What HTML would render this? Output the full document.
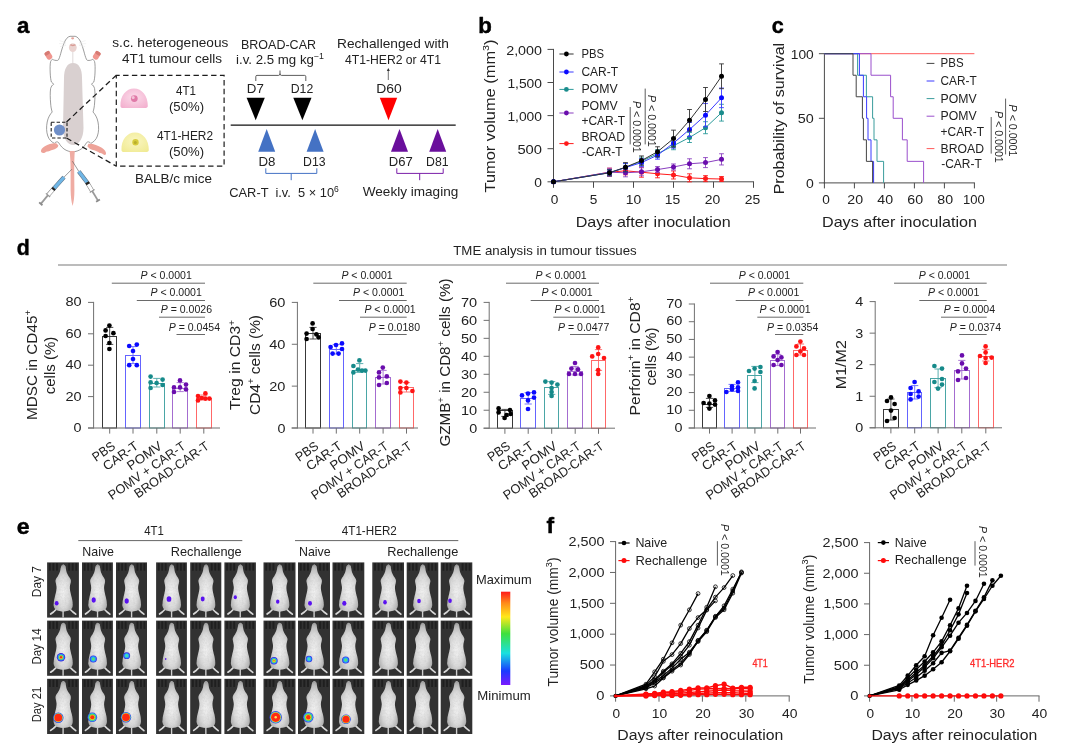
<!DOCTYPE html>
<html lang="en"><head><meta charset="utf-8"><title>Figure</title>
<style>
html,body{margin:0;padding:0;background:#fff;}
body{width:1080px;height:750px;overflow:hidden;}
svg{display:block;font-family:"Liberation Sans",sans-serif;}
</style></head><body>
<svg width="1080" height="750" viewBox="0 0 1080 750">
<rect width="1080" height="750" fill="#fff"/>
<g id="panel-a">
<text x="17" y="32.9" font-size="22.4" font-weight="bold" fill="#000" stroke="#000" stroke-width="0.45" stroke-linejoin="round" textLength="12.4" lengthAdjust="spacingAndGlyphs">a</text>
<path d="M70 36.3 C67.6 36.8 65.8 39.2 64.5 42 C63.3 44.6 62.3 48 61.4 51 C60.6 54 59.8 57 58.8 59.2 C58.6 59.8 58.2 60.2 57.6 60.4 C55.6 60.6 53.8 60.2 52.4 59.2 C51.6 60 51 60.8 50.6 61.6 C50 64 50 69 50.2 73 C50.4 77 50.8 80 51.4 82 C52.4 82.6 53.2 83.4 53.6 84.4 C52.2 85 51.2 86.4 50.6 88.6 C50 93 50.2 98 50.6 103 C50.8 106.6 51.4 109.6 52.2 112 C50.2 114 48 117.6 47.2 122 C46.2 127 46.4 132 47.8 136 C49 139.6 51.6 142 54.4 143.4 C55.6 141.6 57.4 141.4 58.6 142.6 C59.8 144.6 61.4 147 64 149 C66.6 150.8 69.6 151.8 72.6 151.8 C75.6 151.8 78.6 150.8 81.2 149 C83.8 147 85.4 144.6 86.6 142.6 C87.8 141.4 89.6 141.6 90.8 143.4 C93.6 142 96.2 139.6 97.4 136 C98.8 132 99 127 98 122 C97.2 117.6 95 114 93 112 C93.8 109.6 94.4 106.6 94.6 103 C95 98 95.2 93 94.6 88.6 C94 86.4 93 85 91.6 84.4 C92 83.4 92.8 82.6 93.8 82 C94.4 80 94.8 77 95 73 C95.2 69 95.2 64 94.6 61.6 C94.2 60.8 93.6 60 92.8 59.2 C91.4 60.2 89.6 60.6 87.6 60.4 C87 60.2 86.6 59.8 86.4 59.2 C85.4 57 84.6 54 83.8 51 C82.9 48 81.9 44.6 80.7 42 C79.4 39.2 77.6 36.8 75.2 36.3 Z" fill="#fff" stroke="#7c7c7c" stroke-width="0.75"/>
<path d="M66 42.6 L59.6 40.6 M66 44 L59 43.6 M66.2 45.4 L60 46.6 M79.2 42.6 L85.6 40.6 M79.2 44 L86.2 43.6 M79 45.4 L85.2 46.6" fill="none" stroke="#e6e6e6" stroke-width="0.5"/>
<path d="M73 63 C79 63 82 69 82 78 L83.5 128 C83.5 138 79 145 73.5 145 C67 145 63 138 63 128 L64 78 C64 69 67 63 73 63 Z" fill="#d9d0d0"/>
<line x1="72.8" y1="52" x2="72.8" y2="63" stroke="#e2dcdc" stroke-width="1.1"/>
<ellipse cx="72.8" cy="47.6" rx="3.9" ry="4.4" fill="#ead3d0"/>
<path d="M69.6 45.2 Q71.2 43.6 72.8 45 Q74.4 43.6 76 45.2 Q74.4 45.6 72.8 46.2 Q71.2 45.6 69.6 45.2 Z" fill="#d99a93"/>
<ellipse cx="72.6" cy="38.3" rx="1.5" ry="1.1" fill="#e5a49b"/>
<g transform="rotate(-32 48.4 55.4)"><rect x="45.6" y="51.2" width="5.8" height="8.6" rx="2.6" fill="#f0968f"/><rect x="45.6" y="51.2" width="5.8" height="3.4" rx="1.7" fill="#d67a73"/></g>
<g transform="rotate(32 96.8 55.4)"><rect x="93.8" y="51.2" width="5.8" height="8.6" rx="2.6" fill="#f0968f"/><rect x="93.8" y="51.2" width="5.8" height="3.4" rx="1.7" fill="#d67a73"/></g>
<path d="M56.6 143.4 C53.4 142.8 48.4 144.2 44.8 146.2 C42.2 147.6 40.6 149.6 41 151.600 C41.4 153.2 43.4 153.4 45.2 152.4 C46 151.6 47 151.4 48 151.6 C50 150.6 52.6 150 54.6 149.2 C56.6 148.4 58 147 58.4 145.4 Z" fill="#eea399"/>
<path d="M88.4 143.8 C92 143.200 97.6 145 101.8 147.8 C104.6 149.6 106.4 152.2 106 154 C105.4 155.4 103.6 155 102.4 153.8 C101.6 153 100.6 152.8 99.6 153 C98 151.6 95.4 150.6 93 150 C90.8 149.4 88.6 148.2 87.4 146.2 Z" fill="#eea399"/>
<path d="M69.6 151 L74.8 151 C74.4 156 74.2 162 74.2 170 L74.4 190 C74.4 197 73.8 202 72.6 206 C71.4 202 70.8 197 70.6 190 L70.6 170 C70.6 162 70.2 156 69.6 151 Z" fill="#efaca3"/>
<line x1="71.9" y1="169.2" x2="64" y2="177.2" stroke="#555" stroke-width="0.6"/>
<line x1="64" y1="177.2" x2="54" y2="188.4" stroke="#5f6f7f" stroke-width="4.2"/>
<line x1="64" y1="177.2" x2="54" y2="188.4" stroke="#6fb6e6" stroke-width="3.2"/>
<line x1="54" y1="188.4" x2="48" y2="195.2" stroke="#777" stroke-width="4.2"/>
<line x1="54" y1="188.4" x2="48" y2="195.2" stroke="#fff" stroke-width="3.2"/>
<line x1="54.24" y1="188.13" x2="52.8" y2="189.76" stroke="#222" stroke-width="4"/>
<line x1="48" y1="195.2" x2="40.8" y2="203.8" stroke="#9a9a9a" stroke-width="1.8"/>
<line x1="50.1" y1="197.05" x2="45.9" y2="193.35" stroke="#999" stroke-width="1.2"/>
<line x1="42.45" y1="205.26" x2="39.15" y2="202.34" stroke="#8a8a8a" stroke-width="1.8"/>
<line x1="72.4" y1="161.2" x2="78.8" y2="171.4" stroke="#555" stroke-width="0.6"/>
<line x1="78.8" y1="171.4" x2="87.2" y2="182.6" stroke="#5f6f7f" stroke-width="4.2"/>
<line x1="78.8" y1="171.4" x2="87.2" y2="182.6" stroke="#6fb6e6" stroke-width="3.2"/>
<line x1="87.2" y1="182.6" x2="92.2" y2="191" stroke="#777" stroke-width="4.2"/>
<line x1="87.2" y1="182.6" x2="92.2" y2="191" stroke="#fff" stroke-width="3.2"/>
<line x1="87" y1="182.26" x2="88.2" y2="184.28" stroke="#222" stroke-width="4"/>
<line x1="92.2" y1="191" x2="98" y2="200.6" stroke="#9a9a9a" stroke-width="1.8"/>
<line x1="94.61" y1="189.57" x2="89.79" y2="192.43" stroke="#999" stroke-width="1.2"/>
<line x1="99.89" y1="199.47" x2="96.11" y2="201.73" stroke="#8a8a8a" stroke-width="1.8"/>
<circle cx="59.5" cy="130" r="5.6" fill="#6f8fc8"/>
<rect x="51.2" y="122.2" width="15.8" height="15.8" fill="none" stroke="#1c1c1c" stroke-width="1.1" stroke-dasharray="3.4 2"/>
<line x1="66.5" y1="122" x2="116" y2="75.5" stroke="#1c1c1c" stroke-width="1.25" stroke-dasharray="5.5 3.5"/>
<line x1="66.5" y1="138" x2="116" y2="166" stroke="#1c1c1c" stroke-width="1.25" stroke-dasharray="5.5 3.5"/>
<rect x="116.3" y="75.4" width="107.8" height="90.8" fill="none" stroke="#1c1c1c" stroke-width="1.2" stroke-dasharray="5.4 3.4" stroke-dashoffset="2"/>
<defs><radialGradient id="gp" cx="0.5" cy="0.45" r="0.75"><stop offset="0" stop-color="#fbdcea"/><stop offset="1" stop-color="#f2aacb"/></radialGradient><radialGradient id="gy" cx="0.5" cy="0.45" r="0.75"><stop offset="0" stop-color="#faf6c2"/><stop offset="1" stop-color="#efe98e"/></radialGradient></defs>
<path d="M120.5 106 C120 96 126 88.5 134 88.5 C142 88.5 148 96 147.8 106 C147.8 107.5 146.5 108 145 108 L123 108 C121.5 108 120.5 107.5 120.5 106 Z" fill="url(#gp)"/>
<circle cx="134.3" cy="98.6" r="3.4" fill="#e07aa8"/>
<circle cx="133.2" cy="97.6" r="1.5" fill="#f4c4d8"/>
<path d="M121.5 150 C121 140 127 132.5 135 132.5 C143 132.5 149 140 148.8 150 C148.8 151.5 147.5 152 146 152 L124 152 C122.500 152 121.5 151.5 121.5 150 Z" fill="url(#gy)"/>
<circle cx="135.5" cy="142.3" r="3.2" fill="#d6cb3c"/>
<circle cx="135.3" cy="142.5" r="1.5" fill="#b9ae2c"/>
<text x="170.3" y="47.3" font-size="12.6" fill="#222" text-anchor="middle" textLength="116" lengthAdjust="spacingAndGlyphs">s.c. heterogeneous</text>
<text x="172" y="63" font-size="12.6" fill="#222" text-anchor="middle" textLength="100" lengthAdjust="spacingAndGlyphs">4T1 tumour cells</text>
<text x="186" y="95" font-size="12.6" fill="#222" text-anchor="middle" textLength="20" lengthAdjust="spacingAndGlyphs">4T1</text>
<text x="186.5" y="110.6" font-size="12.6" fill="#222" text-anchor="middle" textLength="35" lengthAdjust="spacingAndGlyphs">(50%)</text>
<text x="185" y="140.3" font-size="12.6" fill="#222" text-anchor="middle" textLength="56" lengthAdjust="spacingAndGlyphs">4T1-HER2</text>
<text x="186.5" y="155.8" font-size="12.6" fill="#222" text-anchor="middle" textLength="35" lengthAdjust="spacingAndGlyphs">(50%)</text>
<text x="173.5" y="183.3" font-size="12.6" fill="#222" text-anchor="middle" textLength="77" lengthAdjust="spacingAndGlyphs">BALB/c mice</text>
<text x="278.5" y="48.8" font-size="12.6" fill="#222" text-anchor="middle" textLength="75" lengthAdjust="spacingAndGlyphs">BROAD-CAR</text>
<text x="236" y="64.2" font-size="12.6" fill="#222" textLength="88" lengthAdjust="spacingAndGlyphs">i.v. 2.5 mg kg<tspan dy="-4.8" font-size="8.4">−1</tspan></text>
<path d="M255.8 81 L255.8 76.6 Q255.8 75.4 257 75.4 L278.6 75.4 Q280 75.4 280 73.5 L280 70.5 M280 73.5 Q280 75.4 281.4 75.4 L304.6 75.4 Q305.8 75.4 305.8 76.6 L305.8 81" fill="none" stroke="#333" stroke-width="0.8"/>
<text x="255.3" y="93.3" font-size="12.6" fill="#222" text-anchor="middle" textLength="17" lengthAdjust="spacingAndGlyphs">D7</text>
<text x="302" y="93.3" font-size="12.6" fill="#222" text-anchor="middle" textLength="22.5" lengthAdjust="spacingAndGlyphs">D12</text>
<polygon points="246.6,97.8 264.8,97.8 255.7,120.2" fill="#000"/>
<polygon points="293.3,97.8 311.5,97.8 302.4,120.2" fill="#000"/>
<line x1="230.7" y1="125.2" x2="455.7" y2="125.2" stroke="#111" stroke-width="1.3"/>
<polygon points="258.2,151.8 275.2,151.8 266.7,129" fill="#4472c4"/>
<polygon points="306.6,151.8 323.6,151.8 315.1,129" fill="#4472c4"/>
<text x="267" y="166.3" font-size="12.6" fill="#222" text-anchor="middle" textLength="17" lengthAdjust="spacingAndGlyphs">D8</text>
<text x="314.3" y="166.3" font-size="12.6" fill="#222" text-anchor="middle" textLength="22.5" lengthAdjust="spacingAndGlyphs">D13</text>
<path d="M265.8 168.3 L265.8 173.4 L316.8 173.4 L316.8 168.3 M291.2 173.4 L291.2 180.2" fill="none" stroke="#4472c4" stroke-width="1"/>
<text x="229.3" y="196.6" font-size="12.6" fill="#222" textLength="109.5" lengthAdjust="spacingAndGlyphs" xml:space="preserve">CAR-T  i.v.  5 × 10<tspan dy="-4.8" font-size="8.4">6</tspan></text>
<text x="393" y="48.3" font-size="12.6" fill="#222" text-anchor="middle" textLength="112" lengthAdjust="spacingAndGlyphs">Rechallenged with</text>
<text x="393" y="64" font-size="12.6" fill="#222" text-anchor="middle" textLength="96" lengthAdjust="spacingAndGlyphs">4T1-HER2 or 4T1</text>
<line x1="388.3" y1="80" x2="388.3" y2="69.5" stroke="#333" stroke-width="0.7"/>
<polygon points="386.8,71 388.3,68 389.8,71" fill="#333"/>
<text x="389" y="93.3" font-size="12.6" fill="#222" text-anchor="middle" textLength="25.5" lengthAdjust="spacingAndGlyphs">D60</text>
<polygon points="379.8,97.8 397.2,97.8 388.5,120.2" fill="#ff0000"/>
<polygon points="391,151.8 408,151.8 399.5,129" fill="#6a0f9c"/>
<polygon points="429.2,151.8 446.2,151.8 437.7,129" fill="#6a0f9c"/>
<text x="400.7" y="166.3" font-size="12.6" fill="#222" text-anchor="middle" textLength="24" lengthAdjust="spacingAndGlyphs">D67</text>
<text x="437.3" y="166.3" font-size="12.6" fill="#222" text-anchor="middle" textLength="22.5" lengthAdjust="spacingAndGlyphs">D81</text>
<path d="M396.8 168.3 L396.8 173.4 L443.2 173.4 L443.2 168.3 M419.7 173.4 L419.7 180.2" fill="none" stroke="#7a1fa8" stroke-width="1"/>
<text x="410.5" y="196" font-size="12.6" fill="#222" text-anchor="middle" textLength="95.5" lengthAdjust="spacingAndGlyphs">Weekly imaging</text>
</g>
<g id="panel-b">
<text x="478.2" y="33" font-size="22.4" font-weight="bold" fill="#000" stroke="#000" stroke-width="0.45" stroke-linejoin="round" textLength="13.6" lengthAdjust="spacingAndGlyphs">b</text>
<line x1="553.5" y1="48.9" x2="553.5" y2="182.3" stroke="#4a4a4a" stroke-width="1"/>
<line x1="553" y1="181.8" x2="754" y2="181.8" stroke="#4a4a4a" stroke-width="1"/>
<line x1="547.5" y1="181.8" x2="553.5" y2="181.8" stroke="#4a4a4a" stroke-width="1"/>
<text x="542" y="186.9" font-size="12.4" fill="#222" text-anchor="end" textLength="7.7" lengthAdjust="spacingAndGlyphs">0</text>
<line x1="547.5" y1="148.7" x2="553.5" y2="148.7" stroke="#4a4a4a" stroke-width="1"/>
<text x="542" y="153.8" font-size="12.4" fill="#222" text-anchor="end" textLength="24.6" lengthAdjust="spacingAndGlyphs">500</text>
<line x1="547.5" y1="115.6" x2="553.5" y2="115.6" stroke="#4a4a4a" stroke-width="1"/>
<text x="542" y="120.7" font-size="12.4" fill="#222" text-anchor="end" textLength="34.6" lengthAdjust="spacingAndGlyphs">1,000</text>
<line x1="547.5" y1="82.5" x2="553.5" y2="82.5" stroke="#4a4a4a" stroke-width="1"/>
<text x="542" y="87.6" font-size="12.4" fill="#222" text-anchor="end" textLength="34.6" lengthAdjust="spacingAndGlyphs">1,500</text>
<line x1="547.5" y1="49.4" x2="553.5" y2="49.4" stroke="#4a4a4a" stroke-width="1"/>
<text x="542" y="54.5" font-size="12.4" fill="#222" text-anchor="end" textLength="35.8" lengthAdjust="spacingAndGlyphs">2,000</text>
<line x1="553.5" y1="181.8" x2="553.5" y2="187.8" stroke="#4a4a4a" stroke-width="1"/>
<text x="554.5" y="203.8" font-size="12.4" fill="#222" text-anchor="middle" textLength="7.6" lengthAdjust="spacingAndGlyphs">0</text>
<line x1="593.5" y1="181.8" x2="593.5" y2="187.8" stroke="#4a4a4a" stroke-width="1"/>
<text x="593.5" y="203.8" font-size="12.4" fill="#222" text-anchor="middle" textLength="7.6" lengthAdjust="spacingAndGlyphs">5</text>
<line x1="633.5" y1="181.8" x2="633.5" y2="187.8" stroke="#4a4a4a" stroke-width="1"/>
<text x="633.5" y="203.8" font-size="12.4" fill="#222" text-anchor="middle" textLength="15.5" lengthAdjust="spacingAndGlyphs">10</text>
<line x1="673.5" y1="181.8" x2="673.5" y2="187.8" stroke="#4a4a4a" stroke-width="1"/>
<text x="672.5" y="203.8" font-size="12.4" fill="#222" text-anchor="middle" textLength="15.5" lengthAdjust="spacingAndGlyphs">15</text>
<line x1="713.5" y1="181.8" x2="713.5" y2="187.8" stroke="#4a4a4a" stroke-width="1"/>
<text x="712.5" y="203.8" font-size="12.4" fill="#222" text-anchor="middle" textLength="15.5" lengthAdjust="spacingAndGlyphs">20</text>
<line x1="753.5" y1="181.8" x2="753.5" y2="187.8" stroke="#4a4a4a" stroke-width="1"/>
<text x="752.5" y="203.8" font-size="12.4" fill="#222" text-anchor="middle" textLength="15.5" lengthAdjust="spacingAndGlyphs">25</text>
<text x="653.2" y="226.7" font-size="14.4" fill="#222" text-anchor="middle" textLength="155" lengthAdjust="spacingAndGlyphs">Days after inoculation</text>
<text font-size="14.4" fill="#222" text-anchor="middle" textLength="153" lengthAdjust="spacingAndGlyphs" transform="translate(494.5 116) rotate(-90)">Tumor volume (mm<tspan dy="-6" font-size="9.4">3</tspan><tspan dy="6">)</tspan></text>
<polyline points="553.5,181.8 609.5,172.2 625.5,170.81 641.5,172.2 657.5,173.79 673.5,174.98 689.5,177.83 705.5,178.62 721.5,179.02" fill="none" stroke="#ff1a1a" stroke-width="1"/>
<line x1="609.5" y1="168.2" x2="609.5" y2="176.2" stroke="#ff1a1a" stroke-width="0.9"/>
<line x1="607.1" y1="168.2" x2="611.9" y2="168.2" stroke="#ff1a1a" stroke-width="0.9"/>
<line x1="607.1" y1="176.2" x2="611.9" y2="176.2" stroke="#ff1a1a" stroke-width="0.9"/>
<line x1="625.5" y1="166.81" x2="625.5" y2="174.81" stroke="#ff1a1a" stroke-width="0.9"/>
<line x1="623.1" y1="166.81" x2="627.9" y2="166.81" stroke="#ff1a1a" stroke-width="0.9"/>
<line x1="623.1" y1="174.81" x2="627.9" y2="174.81" stroke="#ff1a1a" stroke-width="0.9"/>
<line x1="641.5" y1="167.2" x2="641.5" y2="177.2" stroke="#ff1a1a" stroke-width="0.9"/>
<line x1="639.1" y1="167.2" x2="643.9" y2="167.2" stroke="#ff1a1a" stroke-width="0.9"/>
<line x1="639.1" y1="177.2" x2="643.9" y2="177.2" stroke="#ff1a1a" stroke-width="0.9"/>
<line x1="657.5" y1="169.79" x2="657.5" y2="177.79" stroke="#ff1a1a" stroke-width="0.9"/>
<line x1="655.1" y1="169.79" x2="659.9" y2="169.79" stroke="#ff1a1a" stroke-width="0.9"/>
<line x1="655.1" y1="177.79" x2="659.9" y2="177.79" stroke="#ff1a1a" stroke-width="0.9"/>
<line x1="673.5" y1="170.98" x2="673.5" y2="178.98" stroke="#ff1a1a" stroke-width="0.9"/>
<line x1="671.1" y1="170.98" x2="675.9" y2="170.98" stroke="#ff1a1a" stroke-width="0.9"/>
<line x1="671.1" y1="178.98" x2="675.9" y2="178.98" stroke="#ff1a1a" stroke-width="0.9"/>
<line x1="689.5" y1="173.83" x2="689.5" y2="181.83" stroke="#ff1a1a" stroke-width="0.9"/>
<line x1="687.1" y1="173.83" x2="691.9" y2="173.83" stroke="#ff1a1a" stroke-width="0.9"/>
<line x1="687.1" y1="181.83" x2="691.9" y2="181.83" stroke="#ff1a1a" stroke-width="0.9"/>
<line x1="705.5" y1="175.62" x2="705.5" y2="181.62" stroke="#ff1a1a" stroke-width="0.9"/>
<line x1="703.1" y1="175.62" x2="707.9" y2="175.62" stroke="#ff1a1a" stroke-width="0.9"/>
<line x1="703.1" y1="181.62" x2="707.9" y2="181.62" stroke="#ff1a1a" stroke-width="0.9"/>
<line x1="721.5" y1="176.52" x2="721.5" y2="181.52" stroke="#ff1a1a" stroke-width="0.9"/>
<line x1="719.1" y1="176.52" x2="723.9" y2="176.52" stroke="#ff1a1a" stroke-width="0.9"/>
<line x1="719.1" y1="181.52" x2="723.9" y2="181.52" stroke="#ff1a1a" stroke-width="0.9"/>
<circle cx="553.5" cy="181.8" r="2.5" fill="#ff1a1a"/>
<circle cx="609.5" cy="172.2" r="2.5" fill="#ff1a1a"/>
<circle cx="625.5" cy="170.81" r="2.5" fill="#ff1a1a"/>
<circle cx="641.5" cy="172.2" r="2.5" fill="#ff1a1a"/>
<circle cx="657.5" cy="173.79" r="2.5" fill="#ff1a1a"/>
<circle cx="673.5" cy="174.98" r="2.5" fill="#ff1a1a"/>
<circle cx="689.5" cy="177.83" r="2.5" fill="#ff1a1a"/>
<circle cx="705.5" cy="178.62" r="2.5" fill="#ff1a1a"/>
<circle cx="721.5" cy="179.02" r="2.5" fill="#ff1a1a"/>
<polyline points="553.5,181.8 609.5,172.2 625.5,172.8 641.5,171.8 657.5,169.55 673.5,166.97 689.5,163.79 705.5,162.6 721.5,159.36" fill="none" stroke="#8a3fc0" stroke-width="1"/>
<line x1="609.5" y1="168.2" x2="609.5" y2="176.2" stroke="#8a3fc0" stroke-width="0.9"/>
<line x1="607.1" y1="168.2" x2="611.9" y2="168.2" stroke="#8a3fc0" stroke-width="0.9"/>
<line x1="607.1" y1="176.2" x2="611.9" y2="176.2" stroke="#8a3fc0" stroke-width="0.9"/>
<line x1="625.5" y1="168.8" x2="625.5" y2="176.8" stroke="#8a3fc0" stroke-width="0.9"/>
<line x1="623.1" y1="168.8" x2="627.9" y2="168.8" stroke="#8a3fc0" stroke-width="0.9"/>
<line x1="623.1" y1="176.8" x2="627.9" y2="176.8" stroke="#8a3fc0" stroke-width="0.9"/>
<line x1="641.5" y1="167.8" x2="641.5" y2="175.8" stroke="#8a3fc0" stroke-width="0.9"/>
<line x1="639.1" y1="167.8" x2="643.9" y2="167.8" stroke="#8a3fc0" stroke-width="0.9"/>
<line x1="639.1" y1="175.8" x2="643.9" y2="175.8" stroke="#8a3fc0" stroke-width="0.9"/>
<line x1="657.5" y1="166.55" x2="657.5" y2="172.55" stroke="#8a3fc0" stroke-width="0.9"/>
<line x1="655.1" y1="166.55" x2="659.9" y2="166.55" stroke="#8a3fc0" stroke-width="0.9"/>
<line x1="655.1" y1="172.55" x2="659.9" y2="172.55" stroke="#8a3fc0" stroke-width="0.9"/>
<line x1="673.5" y1="163.97" x2="673.5" y2="169.97" stroke="#8a3fc0" stroke-width="0.9"/>
<line x1="671.1" y1="163.97" x2="675.9" y2="163.97" stroke="#8a3fc0" stroke-width="0.9"/>
<line x1="671.1" y1="169.97" x2="675.9" y2="169.97" stroke="#8a3fc0" stroke-width="0.9"/>
<line x1="689.5" y1="158.79" x2="689.5" y2="168.79" stroke="#8a3fc0" stroke-width="0.9"/>
<line x1="687.1" y1="158.79" x2="691.9" y2="158.79" stroke="#8a3fc0" stroke-width="0.9"/>
<line x1="687.1" y1="168.79" x2="691.9" y2="168.79" stroke="#8a3fc0" stroke-width="0.9"/>
<line x1="705.5" y1="157.6" x2="705.5" y2="167.6" stroke="#8a3fc0" stroke-width="0.9"/>
<line x1="703.1" y1="157.6" x2="707.9" y2="157.6" stroke="#8a3fc0" stroke-width="0.9"/>
<line x1="703.1" y1="167.6" x2="707.9" y2="167.6" stroke="#8a3fc0" stroke-width="0.9"/>
<line x1="721.5" y1="153.76" x2="721.5" y2="164.96" stroke="#8a3fc0" stroke-width="0.9"/>
<line x1="719.1" y1="153.76" x2="723.9" y2="153.76" stroke="#8a3fc0" stroke-width="0.9"/>
<line x1="719.1" y1="164.96" x2="723.9" y2="164.96" stroke="#8a3fc0" stroke-width="0.9"/>
<circle cx="553.5" cy="181.8" r="2.5" fill="#6a0dad"/>
<circle cx="609.5" cy="172.2" r="2.5" fill="#6a0dad"/>
<circle cx="625.5" cy="172.8" r="2.5" fill="#6a0dad"/>
<circle cx="641.5" cy="171.8" r="2.5" fill="#6a0dad"/>
<circle cx="657.5" cy="169.55" r="2.5" fill="#6a0dad"/>
<circle cx="673.5" cy="166.97" r="2.5" fill="#6a0dad"/>
<circle cx="689.5" cy="163.79" r="2.5" fill="#6a0dad"/>
<circle cx="705.5" cy="162.6" r="2.5" fill="#6a0dad"/>
<circle cx="721.5" cy="159.36" r="2.5" fill="#6a0dad"/>
<polyline points="553.5,181.8 609.5,172.66 625.5,167.57 641.5,161.15 657.5,153.73 673.5,145.72 689.5,137.51 705.5,127.71 721.5,112.69" fill="none" stroke="#2a9a9a" stroke-width="1"/>
<line x1="609.5" y1="169.66" x2="609.5" y2="175.66" stroke="#2a9a9a" stroke-width="0.9"/>
<line x1="607.1" y1="169.66" x2="611.9" y2="169.66" stroke="#2a9a9a" stroke-width="0.9"/>
<line x1="607.1" y1="175.66" x2="611.9" y2="175.66" stroke="#2a9a9a" stroke-width="0.9"/>
<line x1="625.5" y1="163.57" x2="625.5" y2="171.57" stroke="#2a9a9a" stroke-width="0.9"/>
<line x1="623.1" y1="163.57" x2="627.9" y2="163.57" stroke="#2a9a9a" stroke-width="0.9"/>
<line x1="623.1" y1="171.57" x2="627.9" y2="171.57" stroke="#2a9a9a" stroke-width="0.9"/>
<line x1="641.5" y1="157.15" x2="641.5" y2="165.15" stroke="#2a9a9a" stroke-width="0.9"/>
<line x1="639.1" y1="157.15" x2="643.9" y2="157.15" stroke="#2a9a9a" stroke-width="0.9"/>
<line x1="639.1" y1="165.15" x2="643.9" y2="165.15" stroke="#2a9a9a" stroke-width="0.9"/>
<line x1="657.5" y1="149.73" x2="657.5" y2="157.73" stroke="#2a9a9a" stroke-width="0.9"/>
<line x1="655.1" y1="149.73" x2="659.9" y2="149.73" stroke="#2a9a9a" stroke-width="0.9"/>
<line x1="655.1" y1="157.73" x2="659.9" y2="157.73" stroke="#2a9a9a" stroke-width="0.9"/>
<line x1="673.5" y1="141.72" x2="673.5" y2="149.72" stroke="#2a9a9a" stroke-width="0.9"/>
<line x1="671.1" y1="141.72" x2="675.9" y2="141.72" stroke="#2a9a9a" stroke-width="0.9"/>
<line x1="671.1" y1="149.72" x2="675.9" y2="149.72" stroke="#2a9a9a" stroke-width="0.9"/>
<line x1="689.5" y1="132.51" x2="689.5" y2="142.51" stroke="#2a9a9a" stroke-width="0.9"/>
<line x1="687.1" y1="132.51" x2="691.9" y2="132.51" stroke="#2a9a9a" stroke-width="0.9"/>
<line x1="687.1" y1="142.51" x2="691.9" y2="142.51" stroke="#2a9a9a" stroke-width="0.9"/>
<line x1="705.5" y1="121.71" x2="705.5" y2="133.71" stroke="#2a9a9a" stroke-width="0.9"/>
<line x1="703.1" y1="121.71" x2="707.9" y2="121.71" stroke="#2a9a9a" stroke-width="0.9"/>
<line x1="703.1" y1="133.71" x2="707.9" y2="133.71" stroke="#2a9a9a" stroke-width="0.9"/>
<line x1="721.5" y1="104.29" x2="721.5" y2="121.09" stroke="#2a9a9a" stroke-width="0.9"/>
<line x1="719.1" y1="104.29" x2="723.9" y2="104.29" stroke="#2a9a9a" stroke-width="0.9"/>
<line x1="719.1" y1="121.09" x2="723.9" y2="121.09" stroke="#2a9a9a" stroke-width="0.9"/>
<circle cx="553.5" cy="181.8" r="2.5" fill="#1a8c8c"/>
<circle cx="609.5" cy="172.66" r="2.5" fill="#1a8c8c"/>
<circle cx="625.5" cy="167.57" r="2.5" fill="#1a8c8c"/>
<circle cx="641.5" cy="161.15" r="2.5" fill="#1a8c8c"/>
<circle cx="657.5" cy="153.73" r="2.5" fill="#1a8c8c"/>
<circle cx="673.5" cy="145.72" r="2.5" fill="#1a8c8c"/>
<circle cx="689.5" cy="137.51" r="2.5" fill="#1a8c8c"/>
<circle cx="705.5" cy="127.71" r="2.5" fill="#1a8c8c"/>
<circle cx="721.5" cy="112.69" r="2.5" fill="#1a8c8c"/>
<polyline points="553.5,181.8 609.5,172.66 625.5,167.57 641.5,162.6 657.5,155.19 673.5,143.14 689.5,129.5 705.5,115.14 721.5,97.86" fill="none" stroke="#3a3aff" stroke-width="1"/>
<line x1="609.5" y1="169.66" x2="609.5" y2="175.66" stroke="#3a3aff" stroke-width="0.9"/>
<line x1="607.1" y1="169.66" x2="611.9" y2="169.66" stroke="#3a3aff" stroke-width="0.9"/>
<line x1="607.1" y1="175.66" x2="611.9" y2="175.66" stroke="#3a3aff" stroke-width="0.9"/>
<line x1="625.5" y1="163.57" x2="625.5" y2="171.57" stroke="#3a3aff" stroke-width="0.9"/>
<line x1="623.1" y1="163.57" x2="627.9" y2="163.57" stroke="#3a3aff" stroke-width="0.9"/>
<line x1="623.1" y1="171.57" x2="627.9" y2="171.57" stroke="#3a3aff" stroke-width="0.9"/>
<line x1="641.5" y1="158.6" x2="641.5" y2="166.6" stroke="#3a3aff" stroke-width="0.9"/>
<line x1="639.1" y1="158.6" x2="643.9" y2="158.6" stroke="#3a3aff" stroke-width="0.9"/>
<line x1="639.1" y1="166.6" x2="643.9" y2="166.6" stroke="#3a3aff" stroke-width="0.9"/>
<line x1="657.5" y1="151.19" x2="657.5" y2="159.19" stroke="#3a3aff" stroke-width="0.9"/>
<line x1="655.1" y1="151.19" x2="659.9" y2="151.19" stroke="#3a3aff" stroke-width="0.9"/>
<line x1="655.1" y1="159.19" x2="659.9" y2="159.19" stroke="#3a3aff" stroke-width="0.9"/>
<line x1="673.5" y1="138.14" x2="673.5" y2="148.14" stroke="#3a3aff" stroke-width="0.9"/>
<line x1="671.1" y1="138.14" x2="675.9" y2="138.14" stroke="#3a3aff" stroke-width="0.9"/>
<line x1="671.1" y1="148.14" x2="675.9" y2="148.14" stroke="#3a3aff" stroke-width="0.9"/>
<line x1="689.5" y1="122.5" x2="689.5" y2="136.5" stroke="#3a3aff" stroke-width="0.9"/>
<line x1="687.1" y1="122.5" x2="691.9" y2="122.5" stroke="#3a3aff" stroke-width="0.9"/>
<line x1="687.1" y1="136.5" x2="691.9" y2="136.5" stroke="#3a3aff" stroke-width="0.9"/>
<line x1="705.5" y1="103.54" x2="705.5" y2="126.74" stroke="#3a3aff" stroke-width="0.9"/>
<line x1="703.1" y1="103.54" x2="707.9" y2="103.54" stroke="#3a3aff" stroke-width="0.9"/>
<line x1="703.1" y1="126.74" x2="707.9" y2="126.74" stroke="#3a3aff" stroke-width="0.9"/>
<line x1="721.5" y1="88.06" x2="721.5" y2="107.66" stroke="#3a3aff" stroke-width="0.9"/>
<line x1="719.1" y1="88.06" x2="723.9" y2="88.06" stroke="#3a3aff" stroke-width="0.9"/>
<line x1="719.1" y1="107.66" x2="723.9" y2="107.66" stroke="#3a3aff" stroke-width="0.9"/>
<circle cx="553.5" cy="181.8" r="2.5" fill="#0a0aff"/>
<circle cx="609.5" cy="172.66" r="2.5" fill="#0a0aff"/>
<circle cx="625.5" cy="167.57" r="2.5" fill="#0a0aff"/>
<circle cx="641.5" cy="162.6" r="2.5" fill="#0a0aff"/>
<circle cx="657.5" cy="155.19" r="2.5" fill="#0a0aff"/>
<circle cx="673.5" cy="143.14" r="2.5" fill="#0a0aff"/>
<circle cx="689.5" cy="129.5" r="2.5" fill="#0a0aff"/>
<circle cx="705.5" cy="115.14" r="2.5" fill="#0a0aff"/>
<circle cx="721.5" cy="97.86" r="2.5" fill="#0a0aff"/>
<polyline points="553.5,181.8 609.5,172.8 625.5,167.17 641.5,160.55 657.5,151.75 673.5,138.57 689.5,120.3 705.5,99.51 721.5,76.28" fill="none" stroke="#333" stroke-width="1"/>
<line x1="609.5" y1="169.8" x2="609.5" y2="175.8" stroke="#333" stroke-width="0.9"/>
<line x1="607.1" y1="169.8" x2="611.9" y2="169.8" stroke="#333" stroke-width="0.9"/>
<line x1="607.1" y1="175.8" x2="611.9" y2="175.8" stroke="#333" stroke-width="0.9"/>
<line x1="625.5" y1="162.57" x2="625.5" y2="171.77" stroke="#333" stroke-width="0.9"/>
<line x1="623.1" y1="162.57" x2="627.9" y2="162.57" stroke="#333" stroke-width="0.9"/>
<line x1="623.1" y1="171.77" x2="627.9" y2="171.77" stroke="#333" stroke-width="0.9"/>
<line x1="641.5" y1="155.95" x2="641.5" y2="165.15" stroke="#333" stroke-width="0.9"/>
<line x1="639.1" y1="155.95" x2="643.9" y2="155.95" stroke="#333" stroke-width="0.9"/>
<line x1="639.1" y1="165.15" x2="643.9" y2="165.15" stroke="#333" stroke-width="0.9"/>
<line x1="657.5" y1="146.75" x2="657.5" y2="156.75" stroke="#333" stroke-width="0.9"/>
<line x1="655.1" y1="146.75" x2="659.9" y2="146.75" stroke="#333" stroke-width="0.9"/>
<line x1="655.1" y1="156.75" x2="659.9" y2="156.75" stroke="#333" stroke-width="0.9"/>
<line x1="673.5" y1="130.17" x2="673.5" y2="146.97" stroke="#333" stroke-width="0.9"/>
<line x1="671.1" y1="130.17" x2="675.9" y2="130.17" stroke="#333" stroke-width="0.9"/>
<line x1="671.1" y1="146.97" x2="675.9" y2="146.97" stroke="#333" stroke-width="0.9"/>
<line x1="689.5" y1="109.5" x2="689.5" y2="131.1" stroke="#333" stroke-width="0.9"/>
<line x1="687.1" y1="109.5" x2="691.9" y2="109.5" stroke="#333" stroke-width="0.9"/>
<line x1="687.1" y1="131.1" x2="691.9" y2="131.1" stroke="#333" stroke-width="0.9"/>
<line x1="705.5" y1="87.51" x2="705.5" y2="111.51" stroke="#333" stroke-width="0.9"/>
<line x1="703.1" y1="87.51" x2="707.9" y2="87.51" stroke="#333" stroke-width="0.9"/>
<line x1="703.1" y1="111.51" x2="707.9" y2="111.51" stroke="#333" stroke-width="0.9"/>
<line x1="721.5" y1="63.88" x2="721.5" y2="88.68" stroke="#333" stroke-width="0.9"/>
<line x1="719.1" y1="63.88" x2="723.9" y2="63.88" stroke="#333" stroke-width="0.9"/>
<line x1="719.1" y1="88.68" x2="723.9" y2="88.68" stroke="#333" stroke-width="0.9"/>
<circle cx="553.5" cy="181.8" r="2.5" fill="#000"/>
<circle cx="609.5" cy="172.8" r="2.5" fill="#000"/>
<circle cx="625.5" cy="167.17" r="2.5" fill="#000"/>
<circle cx="641.5" cy="160.55" r="2.5" fill="#000"/>
<circle cx="657.5" cy="151.75" r="2.5" fill="#000"/>
<circle cx="673.5" cy="138.57" r="2.5" fill="#000"/>
<circle cx="689.5" cy="120.3" r="2.5" fill="#000"/>
<circle cx="705.5" cy="99.51" r="2.5" fill="#000"/>
<circle cx="721.5" cy="76.28" r="2.5" fill="#000"/>
<line x1="559.4" y1="54" x2="573.6" y2="54" stroke="#333" stroke-width="1"/>
<circle cx="566.4" cy="54" r="2.4" fill="#000"/>
<text x="581.4" y="57.6" font-size="12" fill="#222" textLength="22.6" lengthAdjust="spacingAndGlyphs">PBS</text>
<line x1="559.4" y1="72" x2="573.6" y2="72" stroke="#3a3aff" stroke-width="1"/>
<circle cx="566.4" cy="72" r="2.4" fill="#0a0aff"/>
<text x="581.4" y="75.6" font-size="12" fill="#222" textLength="36.6" lengthAdjust="spacingAndGlyphs">CAR-T</text>
<line x1="559.4" y1="89.4" x2="573.6" y2="89.4" stroke="#2a9a9a" stroke-width="1"/>
<circle cx="566.4" cy="89.4" r="2.4" fill="#1a8c8c"/>
<text x="581.4" y="93.4" font-size="12" fill="#222" textLength="36.2" lengthAdjust="spacingAndGlyphs">POMV</text>
<line x1="559.4" y1="113" x2="573.6" y2="113" stroke="#8a3fc0" stroke-width="1"/>
<circle cx="566.4" cy="113" r="2.4" fill="#6a0dad"/>
<text x="581.4" y="110" font-size="12" fill="#222" textLength="36.2" lengthAdjust="spacingAndGlyphs">POMV</text>
<text x="581.4" y="125" font-size="12" fill="#222" textLength="43.6" lengthAdjust="spacingAndGlyphs">+CAR-T</text>
<line x1="559.4" y1="143.6" x2="573.6" y2="143.6" stroke="#ff1a1a" stroke-width="1"/>
<circle cx="566.4" cy="143.6" r="2.4" fill="#ff1a1a"/>
<text x="581.4" y="140.6" font-size="12" fill="#222" textLength="43.6" lengthAdjust="spacingAndGlyphs">BROAD</text>
<text x="582" y="156" font-size="12" fill="#222" textLength="40.6" lengthAdjust="spacingAndGlyphs">-CAR-T</text>
<line x1="630.2" y1="107" x2="630.2" y2="144.4" stroke="#333" stroke-width="0.8"/>
<text font-size="11.6" fill="#222" textLength="51.8" lengthAdjust="spacingAndGlyphs" transform="translate(633.4 101) rotate(90)"><tspan font-style="italic">P</tspan> &lt; 0.0001</text>
<line x1="645.2" y1="88.6" x2="645.2" y2="144.4" stroke="#333" stroke-width="0.8"/>
<text font-size="11.6" fill="#222" textLength="51.8" lengthAdjust="spacingAndGlyphs" transform="translate(648.4 95) rotate(90)"><tspan font-style="italic">P</tspan> &lt; 0.0001</text>
</g>
<g id="panel-c">
<text x="771.8" y="32.8" font-size="22.4" font-weight="bold" fill="#000" stroke="#000" stroke-width="0.45" stroke-linejoin="round" textLength="12" lengthAdjust="spacingAndGlyphs">c</text>
<line x1="824.4" y1="53.2" x2="824.4" y2="183.4" stroke="#4a4a4a" stroke-width="1"/>
<line x1="823.9" y1="182.9" x2="974.9" y2="182.9" stroke="#4a4a4a" stroke-width="1"/>
<line x1="818.9" y1="182.9" x2="824.4" y2="182.9" stroke="#4a4a4a" stroke-width="1"/>
<text x="813.8" y="187.9" font-size="12.4" fill="#222" text-anchor="end" textLength="7.8" lengthAdjust="spacingAndGlyphs">0</text>
<line x1="818.9" y1="118.3" x2="824.4" y2="118.3" stroke="#4a4a4a" stroke-width="1"/>
<text x="813.8" y="123.3" font-size="12.4" fill="#222" text-anchor="end" textLength="16" lengthAdjust="spacingAndGlyphs">50</text>
<line x1="818.9" y1="53.7" x2="824.4" y2="53.7" stroke="#4a4a4a" stroke-width="1"/>
<text x="813.8" y="58.7" font-size="12.4" fill="#222" text-anchor="end" textLength="23" lengthAdjust="spacingAndGlyphs">100</text>
<line x1="824.4" y1="182.9" x2="824.4" y2="188.4" stroke="#4a4a4a" stroke-width="1"/>
<text x="826" y="204" font-size="12.4" fill="#222" text-anchor="middle" textLength="7.6" lengthAdjust="spacingAndGlyphs">0</text>
<line x1="854.4" y1="182.9" x2="854.4" y2="188.4" stroke="#4a4a4a" stroke-width="1"/>
<text x="855.2" y="204" font-size="12.4" fill="#222" text-anchor="middle" textLength="15.8" lengthAdjust="spacingAndGlyphs">20</text>
<line x1="884.4" y1="182.9" x2="884.4" y2="188.4" stroke="#4a4a4a" stroke-width="1"/>
<text x="885.2" y="204" font-size="12.4" fill="#222" text-anchor="middle" textLength="15.8" lengthAdjust="spacingAndGlyphs">40</text>
<line x1="914.4" y1="182.9" x2="914.4" y2="188.4" stroke="#4a4a4a" stroke-width="1"/>
<text x="915.2" y="204" font-size="12.4" fill="#222" text-anchor="middle" textLength="15.8" lengthAdjust="spacingAndGlyphs">60</text>
<line x1="944.4" y1="182.9" x2="944.4" y2="188.4" stroke="#4a4a4a" stroke-width="1"/>
<text x="945.2" y="204" font-size="12.4" fill="#222" text-anchor="middle" textLength="15.8" lengthAdjust="spacingAndGlyphs">80</text>
<line x1="974.4" y1="182.9" x2="974.4" y2="188.4" stroke="#4a4a4a" stroke-width="1"/>
<text x="973.8" y="204" font-size="12.4" fill="#222" text-anchor="middle" textLength="21.8" lengthAdjust="spacingAndGlyphs">100</text>
<text x="899.5" y="226.7" font-size="14.4" fill="#222" text-anchor="middle" textLength="155" lengthAdjust="spacingAndGlyphs">Days after inoculation</text>
<text font-size="14.4" fill="#222" text-anchor="middle" textLength="151.5" lengthAdjust="spacingAndGlyphs" transform="translate(784 118.6) rotate(-90)">Probability of survival</text>
<line x1="824.4" y1="53.7" x2="974.4" y2="53.7" stroke="#ff5a5a" stroke-width="1"/>
<polyline points="824.4,53.7 871,53.7 871,75.24 890.6,75.24 890.6,96.76 893.2,96.76 893.2,118.3 902.4,118.3 902.4,139.84 907.2,139.84 907.2,161.36 923.6,161.36 923.6,182.9" fill="none" stroke="#9a4fcc" stroke-width="1"/>
<polyline points="824.4,53.7 857.6,53.7 857.6,75.24 866.4,75.24 866.4,96.76 872.6,96.76 872.6,118.3 874,118.3 874,139.84 877,139.84 877,161.36 883.6,161.36 883.6,182.9" fill="none" stroke="#3a9c9c" stroke-width="1"/>
<polyline points="824.4,53.7 859.4,53.7 859.4,75.24 863.4,75.24 863.4,96.76 866.6,96.76 866.6,118.3 868,118.3 868,139.84 871,139.84 871,161.36 873.6,161.36 873.6,182.9" fill="none" stroke="#3a3aff" stroke-width="1"/>
<polyline points="824.4,53.7 853,53.7 853,75.24 856.2,75.24 856.2,96.76 862.4,96.76 862.4,118.3 863.4,118.3 863.4,139.84 866.4,139.84 866.4,161.36 872.6,161.36 872.6,182.9" fill="none" stroke="#444" stroke-width="1"/>
<line x1="926.6" y1="63.4" x2="934.4" y2="63.4" stroke="#444" stroke-width="1"/>
<text x="940.6" y="67.4" font-size="12" fill="#222" textLength="23" lengthAdjust="spacingAndGlyphs">PBS</text>
<line x1="926.6" y1="81" x2="934.4" y2="81" stroke="#3a3aff" stroke-width="1"/>
<text x="940.6" y="85" font-size="12" fill="#222" textLength="36" lengthAdjust="spacingAndGlyphs">CAR-T</text>
<line x1="926.6" y1="98.6" x2="934.4" y2="98.6" stroke="#3a9c9c" stroke-width="1"/>
<text x="940.6" y="102.6" font-size="12" fill="#222" textLength="36" lengthAdjust="spacingAndGlyphs">POMV</text>
<line x1="926.6" y1="116.2" x2="934.4" y2="116.2" stroke="#9a4fcc" stroke-width="1"/>
<text x="940.6" y="120" font-size="12" fill="#222" textLength="36" lengthAdjust="spacingAndGlyphs">POMV</text>
<text x="940.6" y="135.6" font-size="12" fill="#222" textLength="43.4" lengthAdjust="spacingAndGlyphs">+CAR-T</text>
<line x1="926.6" y1="148.6" x2="934.4" y2="148.6" stroke="#ff5a5a" stroke-width="1"/>
<text x="940.6" y="152.6" font-size="12" fill="#222" textLength="43.4" lengthAdjust="spacingAndGlyphs">BROAD</text>
<text x="941.2" y="168" font-size="12" fill="#222" textLength="40.6" lengthAdjust="spacingAndGlyphs">-CAR-T</text>
<line x1="991.2" y1="117" x2="991.2" y2="153.6" stroke="#333" stroke-width="0.8"/>
<text font-size="11.6" fill="#222" textLength="51.8" lengthAdjust="spacingAndGlyphs" transform="translate(994.6 111) rotate(90)"><tspan font-style="italic">P</tspan> &lt; 0.0001</text>
<line x1="1005.6" y1="98.6" x2="1005.6" y2="154.4" stroke="#333" stroke-width="0.8"/>
<text font-size="11.6" fill="#222" textLength="51.8" lengthAdjust="spacingAndGlyphs" transform="translate(1008.8 104.6) rotate(90)"><tspan font-style="italic">P</tspan> &lt; 0.0001</text>
</g>
<g id="panel-d">
<text x="16.8" y="255" font-size="22.4" font-weight="bold" fill="#000" stroke="#000" stroke-width="0.45" stroke-linejoin="round" textLength="13" lengthAdjust="spacingAndGlyphs">d</text>
<text x="545" y="255" font-size="12.4" fill="#222" text-anchor="middle" textLength="183.5" lengthAdjust="spacingAndGlyphs">TME analysis in tumour tissues</text>
<line x1="58" y1="265" x2="1007" y2="265" stroke="#a6a6a6" stroke-width="1.4"/>
<rect x="102.5" y="336.5" width="14" height="91.5" fill="#fff" stroke="#383838" stroke-width="1"/>
<rect x="125.5" y="355.5" width="15" height="72.5" fill="#fff" stroke="#6464ff" stroke-width="1"/>
<rect x="149.5" y="383.5" width="15" height="44.5" fill="#fff" stroke="#4aa6a6" stroke-width="1"/>
<rect x="172.5" y="388.5" width="15" height="39.5" fill="#fff" stroke="#a46cd0" stroke-width="1"/>
<rect x="196.5" y="398.5" width="15" height="29.5" fill="#fff" stroke="#ff6868" stroke-width="1"/>
<line x1="109.7" y1="327.4" x2="109.7" y2="344.4" stroke="#383838" stroke-width="0.9"/>
<line x1="106.1" y1="327.4" x2="113.3" y2="327.4" stroke="#383838" stroke-width="0.9"/>
<line x1="106.1" y1="344.4" x2="113.3" y2="344.4" stroke="#383838" stroke-width="0.9"/>
<line x1="133" y1="346.6" x2="133" y2="363.6" stroke="#6464ff" stroke-width="0.9"/>
<line x1="129.4" y1="346.6" x2="136.6" y2="346.6" stroke="#6464ff" stroke-width="0.9"/>
<line x1="129.4" y1="363.6" x2="136.6" y2="363.6" stroke="#6464ff" stroke-width="0.9"/>
<line x1="156.8" y1="378.4" x2="156.8" y2="387" stroke="#4aa6a6" stroke-width="0.9"/>
<line x1="153.2" y1="378.4" x2="160.4" y2="378.4" stroke="#4aa6a6" stroke-width="0.9"/>
<line x1="153.2" y1="387" x2="160.4" y2="387" stroke="#4aa6a6" stroke-width="0.9"/>
<line x1="180.2" y1="382.6" x2="180.2" y2="391.6" stroke="#a46cd0" stroke-width="0.9"/>
<line x1="176.6" y1="382.6" x2="183.8" y2="382.6" stroke="#a46cd0" stroke-width="0.9"/>
<line x1="176.6" y1="391.6" x2="183.8" y2="391.6" stroke="#a46cd0" stroke-width="0.9"/>
<line x1="203.8" y1="395" x2="203.8" y2="400" stroke="#ff6868" stroke-width="0.9"/>
<line x1="200.2" y1="395" x2="207.4" y2="395" stroke="#ff6868" stroke-width="0.9"/>
<line x1="200.2" y1="400" x2="207.4" y2="400" stroke="#ff6868" stroke-width="0.9"/>
<circle cx="109.4" cy="325.6" r="2.35" fill="#000"/>
<circle cx="105.6" cy="330.4" r="2.35" fill="#000"/>
<circle cx="113.4" cy="333.2" r="2.35" fill="#000"/>
<circle cx="105.6" cy="336" r="2.35" fill="#000"/>
<circle cx="109.4" cy="343" r="2.35" fill="#000"/>
<circle cx="109.4" cy="349" r="2.35" fill="#000"/>
<circle cx="129.2" cy="346" r="2.35" fill="#0a0aff"/>
<circle cx="136.8" cy="344.6" r="2.35" fill="#0a0aff"/>
<circle cx="133" cy="351" r="2.35" fill="#0a0aff"/>
<circle cx="133" cy="359" r="2.35" fill="#0a0aff"/>
<circle cx="129.2" cy="365.2" r="2.35" fill="#0a0aff"/>
<circle cx="136.8" cy="365.2" r="2.35" fill="#0a0aff"/>
<circle cx="150.6" cy="376.6" r="2.35" fill="#168a8a"/>
<circle cx="162.6" cy="379.6" r="2.35" fill="#168a8a"/>
<circle cx="150.6" cy="382.4" r="2.35" fill="#168a8a"/>
<circle cx="156.6" cy="383" r="2.35" fill="#168a8a"/>
<circle cx="162.6" cy="385" r="2.35" fill="#168a8a"/>
<circle cx="150.6" cy="388" r="2.35" fill="#168a8a"/>
<circle cx="180" cy="380.4" r="2.35" fill="#6a0dad"/>
<circle cx="186" cy="384.6" r="2.35" fill="#6a0dad"/>
<circle cx="174" cy="387.4" r="2.35" fill="#6a0dad"/>
<circle cx="180" cy="387.4" r="2.35" fill="#6a0dad"/>
<circle cx="186" cy="389.4" r="2.35" fill="#6a0dad"/>
<circle cx="174" cy="392" r="2.35" fill="#6a0dad"/>
<circle cx="205.4" cy="393.4" r="2.35" fill="#ff1414"/>
<circle cx="198" cy="396" r="2.35" fill="#ff1414"/>
<circle cx="201.6" cy="398" r="2.35" fill="#ff1414"/>
<circle cx="209.4" cy="398.6" r="2.35" fill="#ff1414"/>
<circle cx="205.4" cy="398.6" r="2.35" fill="#ff1414"/>
<circle cx="198" cy="400.4" r="2.35" fill="#ff1414"/>
<line x1="93.6" y1="301.9" x2="93.6" y2="428.5" stroke="#707070" stroke-width="1"/>
<line x1="88" y1="428" x2="220" y2="428" stroke="#707070" stroke-width="1"/>
<line x1="88" y1="428" x2="93.6" y2="428" stroke="#707070" stroke-width="1"/>
<text x="81.6" y="431.9" font-size="12.4" fill="#222" text-anchor="end" textLength="8" lengthAdjust="spacingAndGlyphs">0</text>
<line x1="88" y1="396.6" x2="93.6" y2="396.6" stroke="#707070" stroke-width="1"/>
<text x="81.6" y="400.5" font-size="12.4" fill="#222" text-anchor="end" textLength="16.2" lengthAdjust="spacingAndGlyphs">20</text>
<line x1="88" y1="365.2" x2="93.6" y2="365.2" stroke="#707070" stroke-width="1"/>
<text x="81.6" y="369.1" font-size="12.4" fill="#222" text-anchor="end" textLength="16.2" lengthAdjust="spacingAndGlyphs">40</text>
<line x1="88" y1="333.8" x2="93.6" y2="333.8" stroke="#707070" stroke-width="1"/>
<text x="81.6" y="337.7" font-size="12.4" fill="#222" text-anchor="end" textLength="16.2" lengthAdjust="spacingAndGlyphs">60</text>
<line x1="88" y1="302.4" x2="93.6" y2="302.4" stroke="#707070" stroke-width="1"/>
<text x="81.6" y="306.3" font-size="12.4" fill="#222" text-anchor="end" textLength="16.2" lengthAdjust="spacingAndGlyphs">80</text>
<line x1="109.7" y1="428" x2="109.7" y2="433.6" stroke="#707070" stroke-width="1"/>
<text font-size="13" fill="#222" text-anchor="end" textLength="24.5" lengthAdjust="spacingAndGlyphs" transform="translate(116.1 448) rotate(-35)">PBS</text>
<line x1="133" y1="428" x2="133" y2="433.6" stroke="#707070" stroke-width="1"/>
<text font-size="13" fill="#222" text-anchor="end" textLength="40" lengthAdjust="spacingAndGlyphs" transform="translate(139.4 448) rotate(-35)">CAR-T</text>
<line x1="156.8" y1="428" x2="156.8" y2="433.6" stroke="#707070" stroke-width="1"/>
<text font-size="13" fill="#222" text-anchor="end" textLength="39.5" lengthAdjust="spacingAndGlyphs" transform="translate(163.2 448) rotate(-35)">POMV</text>
<line x1="180.2" y1="428" x2="180.2" y2="433.6" stroke="#707070" stroke-width="1"/>
<text font-size="13" fill="#222" text-anchor="end" textLength="91" lengthAdjust="spacingAndGlyphs" transform="translate(186.6 448) rotate(-35)">POMV + CAR-T</text>
<line x1="203.8" y1="428" x2="203.8" y2="433.6" stroke="#707070" stroke-width="1"/>
<text font-size="13" fill="#222" text-anchor="end" textLength="88" lengthAdjust="spacingAndGlyphs" transform="translate(210.2 448) rotate(-35)">BROAD-CAR-T</text>
<line x1="111.8" y1="283.2" x2="205" y2="283.2" stroke="#444" stroke-width="0.8"/>
<line x1="136.8" y1="300.5" x2="205" y2="300.5" stroke="#444" stroke-width="0.8"/>
<line x1="159" y1="317.2" x2="205" y2="317.2" stroke="#444" stroke-width="0.8"/>
<line x1="176.5" y1="334.5" x2="205" y2="334.5" stroke="#444" stroke-width="0.8"/>
<text x="191.8" y="279.2" font-size="11" fill="#222" text-anchor="end" textLength="51.3" lengthAdjust="spacingAndGlyphs"><tspan font-style="italic">P</tspan> &lt; 0.0001</text>
<text x="201.8" y="296.2" font-size="11" fill="#222" text-anchor="end" textLength="51.3" lengthAdjust="spacingAndGlyphs"><tspan font-style="italic">P</tspan> &lt; 0.0001</text>
<text x="212" y="313.2" font-size="11" fill="#222" text-anchor="end" textLength="51.3" lengthAdjust="spacingAndGlyphs"><tspan font-style="italic">P</tspan> = 0.0026</text>
<text x="220" y="330.8" font-size="11" fill="#222" text-anchor="end" textLength="51.3" lengthAdjust="spacingAndGlyphs"><tspan font-style="italic">P</tspan> = 0.0454</text>
<text font-size="15.3" fill="#222" text-anchor="middle" textLength="110" lengthAdjust="spacingAndGlyphs" transform="translate(36.6 365) rotate(-90)">MDSC in CD45<tspan dy="-5.6" font-size="9.6">+</tspan></text>
<text font-size="15.3" fill="#222" text-anchor="middle" textLength="57.6" lengthAdjust="spacingAndGlyphs" transform="translate(55.4 365.5) rotate(-90)">cells (%)</text>
<rect x="305.5" y="333.5" width="15" height="94.5" fill="#fff" stroke="#383838" stroke-width="1"/>
<rect x="329.5" y="349.5" width="14" height="78.5" fill="#fff" stroke="#6464ff" stroke-width="1"/>
<rect x="352.5" y="370.5" width="14" height="57.5" fill="#fff" stroke="#4aa6a6" stroke-width="1"/>
<rect x="375.5" y="377.5" width="15" height="50.5" fill="#fff" stroke="#a46cd0" stroke-width="1"/>
<rect x="399.5" y="387.5" width="14" height="40.5" fill="#fff" stroke="#ff6868" stroke-width="1"/>
<line x1="313" y1="327.4" x2="313" y2="339" stroke="#383838" stroke-width="0.9"/>
<line x1="309.4" y1="327.4" x2="316.6" y2="327.4" stroke="#383838" stroke-width="0.9"/>
<line x1="309.4" y1="339" x2="316.6" y2="339" stroke="#383838" stroke-width="0.9"/>
<line x1="336.3" y1="344.4" x2="336.3" y2="354" stroke="#6464ff" stroke-width="0.9"/>
<line x1="332.7" y1="344.4" x2="339.9" y2="344.4" stroke="#6464ff" stroke-width="0.9"/>
<line x1="332.7" y1="354" x2="339.9" y2="354" stroke="#6464ff" stroke-width="0.9"/>
<line x1="359.7" y1="363.6" x2="359.7" y2="372.4" stroke="#4aa6a6" stroke-width="0.9"/>
<line x1="356.1" y1="363.6" x2="363.3" y2="363.6" stroke="#4aa6a6" stroke-width="0.9"/>
<line x1="356.1" y1="372.4" x2="363.3" y2="372.4" stroke="#4aa6a6" stroke-width="0.9"/>
<line x1="383.1" y1="370.4" x2="383.1" y2="384" stroke="#a46cd0" stroke-width="0.9"/>
<line x1="379.5" y1="370.4" x2="386.7" y2="370.4" stroke="#a46cd0" stroke-width="0.9"/>
<line x1="379.5" y1="384" x2="386.7" y2="384" stroke="#a46cd0" stroke-width="0.9"/>
<line x1="406.5" y1="382.6" x2="406.5" y2="392" stroke="#ff6868" stroke-width="0.9"/>
<line x1="402.9" y1="382.6" x2="410.1" y2="382.6" stroke="#ff6868" stroke-width="0.9"/>
<line x1="402.9" y1="392" x2="410.1" y2="392" stroke="#ff6868" stroke-width="0.9"/>
<circle cx="312.6" cy="323.4" r="2.35" fill="#000"/>
<circle cx="312.6" cy="329" r="2.35" fill="#000"/>
<circle cx="306.6" cy="333.6" r="2.35" fill="#000"/>
<circle cx="316.4" cy="334.4" r="2.35" fill="#000"/>
<circle cx="318.6" cy="337.4" r="2.35" fill="#000"/>
<circle cx="306.6" cy="339" r="2.35" fill="#000"/>
<circle cx="342" cy="343.4" r="2.35" fill="#0a0aff"/>
<circle cx="336" cy="345" r="2.35" fill="#0a0aff"/>
<circle cx="330.6" cy="347" r="2.35" fill="#0a0aff"/>
<circle cx="342" cy="349" r="2.35" fill="#0a0aff"/>
<circle cx="332.6" cy="353.6" r="2.35" fill="#0a0aff"/>
<circle cx="338.6" cy="353.6" r="2.35" fill="#0a0aff"/>
<circle cx="359.4" cy="360.4" r="2.35" fill="#168a8a"/>
<circle cx="353.4" cy="366" r="2.35" fill="#168a8a"/>
<circle cx="358" cy="369.6" r="2.35" fill="#168a8a"/>
<circle cx="362" cy="370.6" r="2.35" fill="#168a8a"/>
<circle cx="365.4" cy="370.6" r="2.35" fill="#168a8a"/>
<circle cx="353.4" cy="372.4" r="2.35" fill="#168a8a"/>
<circle cx="382.8" cy="367.6" r="2.35" fill="#6a0dad"/>
<circle cx="379" cy="372.4" r="2.35" fill="#6a0dad"/>
<circle cx="386.8" cy="376.4" r="2.35" fill="#6a0dad"/>
<circle cx="379" cy="377.4" r="2.35" fill="#6a0dad"/>
<circle cx="386.8" cy="383" r="2.35" fill="#6a0dad"/>
<circle cx="379" cy="385" r="2.35" fill="#6a0dad"/>
<circle cx="400.4" cy="381.6" r="2.35" fill="#ff1414"/>
<circle cx="406.4" cy="382.6" r="2.35" fill="#ff1414"/>
<circle cx="400.4" cy="388" r="2.35" fill="#ff1414"/>
<circle cx="406.4" cy="388" r="2.35" fill="#ff1414"/>
<circle cx="412.4" cy="391" r="2.35" fill="#ff1414"/>
<circle cx="400.4" cy="392.4" r="2.35" fill="#ff1414"/>
<line x1="297.4" y1="301.9" x2="297.4" y2="428.5" stroke="#707070" stroke-width="1"/>
<line x1="291.6" y1="428" x2="418" y2="428" stroke="#707070" stroke-width="1"/>
<line x1="291.8" y1="428" x2="297.4" y2="428" stroke="#707070" stroke-width="1"/>
<text x="285.4" y="432.8" font-size="12.4" fill="#222" text-anchor="end" textLength="8" lengthAdjust="spacingAndGlyphs">0</text>
<line x1="291.8" y1="386.13" x2="297.4" y2="386.13" stroke="#707070" stroke-width="1"/>
<text x="285.4" y="390.93" font-size="12.4" fill="#222" text-anchor="end" textLength="16.2" lengthAdjust="spacingAndGlyphs">20</text>
<line x1="291.8" y1="344.27" x2="297.4" y2="344.27" stroke="#707070" stroke-width="1"/>
<text x="285.4" y="349.07" font-size="12.4" fill="#222" text-anchor="end" textLength="16.2" lengthAdjust="spacingAndGlyphs">40</text>
<line x1="291.8" y1="302.4" x2="297.4" y2="302.4" stroke="#707070" stroke-width="1"/>
<text x="285.4" y="307.2" font-size="12.4" fill="#222" text-anchor="end" textLength="16.2" lengthAdjust="spacingAndGlyphs">60</text>
<line x1="313" y1="428" x2="313" y2="433.6" stroke="#707070" stroke-width="1"/>
<text font-size="13" fill="#222" text-anchor="end" textLength="24.5" lengthAdjust="spacingAndGlyphs" transform="translate(319.4 448) rotate(-35)">PBS</text>
<line x1="336.3" y1="428" x2="336.3" y2="433.6" stroke="#707070" stroke-width="1"/>
<text font-size="13" fill="#222" text-anchor="end" textLength="40" lengthAdjust="spacingAndGlyphs" transform="translate(342.7 448) rotate(-35)">CAR-T</text>
<line x1="359.7" y1="428" x2="359.7" y2="433.6" stroke="#707070" stroke-width="1"/>
<text font-size="13" fill="#222" text-anchor="end" textLength="39.5" lengthAdjust="spacingAndGlyphs" transform="translate(366.1 448) rotate(-35)">POMV</text>
<line x1="383.1" y1="428" x2="383.1" y2="433.6" stroke="#707070" stroke-width="1"/>
<text font-size="13" fill="#222" text-anchor="end" textLength="91" lengthAdjust="spacingAndGlyphs" transform="translate(389.5 448) rotate(-35)">POMV + CAR-T</text>
<line x1="406.5" y1="428" x2="406.5" y2="433.6" stroke="#707070" stroke-width="1"/>
<text font-size="13" fill="#222" text-anchor="end" textLength="88" lengthAdjust="spacingAndGlyphs" transform="translate(412.9 448) rotate(-35)">BROAD-CAR-T</text>
<line x1="313.3" y1="283.2" x2="406.7" y2="283.2" stroke="#444" stroke-width="0.8"/>
<line x1="339" y1="300.5" x2="406.7" y2="300.5" stroke="#444" stroke-width="0.8"/>
<line x1="360" y1="317.2" x2="406.7" y2="317.2" stroke="#444" stroke-width="0.8"/>
<line x1="378.3" y1="334.5" x2="406.7" y2="334.5" stroke="#444" stroke-width="0.8"/>
<text x="392.7" y="279.2" font-size="11" fill="#222" text-anchor="end" textLength="51.3" lengthAdjust="spacingAndGlyphs"><tspan font-style="italic">P</tspan> &lt; 0.0001</text>
<text x="404.3" y="296.2" font-size="11" fill="#222" text-anchor="end" textLength="51.3" lengthAdjust="spacingAndGlyphs"><tspan font-style="italic">P</tspan> &lt; 0.0001</text>
<text x="415.7" y="313.2" font-size="11" fill="#222" text-anchor="end" textLength="51.3" lengthAdjust="spacingAndGlyphs"><tspan font-style="italic">P</tspan> &lt; 0.0001</text>
<text x="420" y="330.8" font-size="11" fill="#222" text-anchor="end" textLength="51.3" lengthAdjust="spacingAndGlyphs"><tspan font-style="italic">P</tspan> = 0.0180</text>
<text font-size="15.3" fill="#222" text-anchor="middle" textLength="90" lengthAdjust="spacingAndGlyphs" transform="translate(240.3 365) rotate(-90)">Treg in CD3<tspan dy="-5.6" font-size="9.6">+</tspan></text>
<text font-size="15.3" fill="#222" text-anchor="middle" textLength="100" lengthAdjust="spacingAndGlyphs" transform="translate(259.5 365) rotate(-90)">CD4<tspan dy="-5.6" font-size="9.6">+</tspan><tspan dy="5.6"> cells (%)</tspan></text>
<rect x="497.5" y="410.5" width="15" height="17.7" fill="#fff" stroke="#383838" stroke-width="1"/>
<rect x="520.5" y="398.5" width="15" height="29.7" fill="#fff" stroke="#6464ff" stroke-width="1"/>
<rect x="544.5" y="387.5" width="14" height="40.7" fill="#fff" stroke="#4aa6a6" stroke-width="1"/>
<rect x="567.5" y="371.5" width="15" height="56.7" fill="#fff" stroke="#a46cd0" stroke-width="1"/>
<rect x="591.5" y="360.5" width="14" height="67.7" fill="#fff" stroke="#ff6868" stroke-width="1"/>
<line x1="504.9" y1="409.4" x2="504.9" y2="416.4" stroke="#383838" stroke-width="0.9"/>
<line x1="501.3" y1="409.4" x2="508.5" y2="409.4" stroke="#383838" stroke-width="0.9"/>
<line x1="501.3" y1="416.4" x2="508.5" y2="416.4" stroke="#383838" stroke-width="0.9"/>
<line x1="528.2" y1="392.6" x2="528.2" y2="404" stroke="#6464ff" stroke-width="0.9"/>
<line x1="524.6" y1="392.6" x2="531.8" y2="392.6" stroke="#6464ff" stroke-width="0.9"/>
<line x1="524.6" y1="404" x2="531.8" y2="404" stroke="#6464ff" stroke-width="0.9"/>
<line x1="551.7" y1="381.6" x2="551.7" y2="394.4" stroke="#4aa6a6" stroke-width="0.9"/>
<line x1="548.1" y1="381.6" x2="555.3" y2="381.6" stroke="#4aa6a6" stroke-width="0.9"/>
<line x1="548.1" y1="394.4" x2="555.3" y2="394.4" stroke="#4aa6a6" stroke-width="0.9"/>
<line x1="575.2" y1="366.4" x2="575.2" y2="375" stroke="#a46cd0" stroke-width="0.9"/>
<line x1="571.6" y1="366.4" x2="578.8" y2="366.4" stroke="#a46cd0" stroke-width="0.9"/>
<line x1="571.6" y1="375" x2="578.8" y2="375" stroke="#a46cd0" stroke-width="0.9"/>
<line x1="598.5" y1="349.6" x2="598.5" y2="370.4" stroke="#ff6868" stroke-width="0.9"/>
<line x1="594.9" y1="349.6" x2="602.1" y2="349.6" stroke="#ff6868" stroke-width="0.9"/>
<line x1="594.9" y1="370.4" x2="602.1" y2="370.4" stroke="#ff6868" stroke-width="0.9"/>
<circle cx="498.6" cy="408.4" r="2.35" fill="#000"/>
<circle cx="510" cy="410" r="2.35" fill="#000"/>
<circle cx="498.6" cy="412.4" r="2.35" fill="#000"/>
<circle cx="510.6" cy="414" r="2.35" fill="#000"/>
<circle cx="506.6" cy="415" r="2.35" fill="#000"/>
<circle cx="504.6" cy="418" r="2.35" fill="#000"/>
<circle cx="534" cy="392.4" r="2.35" fill="#0a0aff"/>
<circle cx="528" cy="393.6" r="2.35" fill="#0a0aff"/>
<circle cx="522" cy="395.4" r="2.35" fill="#0a0aff"/>
<circle cx="534" cy="397.6" r="2.35" fill="#0a0aff"/>
<circle cx="528" cy="400.4" r="2.35" fill="#0a0aff"/>
<circle cx="528" cy="409" r="2.35" fill="#0a0aff"/>
<circle cx="545.4" cy="381.6" r="2.35" fill="#168a8a"/>
<circle cx="551.6" cy="382.6" r="2.35" fill="#168a8a"/>
<circle cx="557.4" cy="384.6" r="2.35" fill="#168a8a"/>
<circle cx="551.6" cy="388" r="2.35" fill="#168a8a"/>
<circle cx="551.6" cy="392" r="2.35" fill="#168a8a"/>
<circle cx="551.6" cy="396" r="2.35" fill="#168a8a"/>
<circle cx="575" cy="363" r="2.35" fill="#6a0dad"/>
<circle cx="571.4" cy="368.6" r="2.35" fill="#6a0dad"/>
<circle cx="578" cy="369.4" r="2.35" fill="#6a0dad"/>
<circle cx="569" cy="374" r="2.35" fill="#6a0dad"/>
<circle cx="575" cy="374" r="2.35" fill="#6a0dad"/>
<circle cx="581" cy="374" r="2.35" fill="#6a0dad"/>
<circle cx="598.2" cy="347.4" r="2.35" fill="#ff1414"/>
<circle cx="598.2" cy="354" r="2.35" fill="#ff1414"/>
<circle cx="592.2" cy="356.4" r="2.35" fill="#ff1414"/>
<circle cx="604" cy="358" r="2.35" fill="#ff1414"/>
<circle cx="598.2" cy="370" r="2.35" fill="#ff1414"/>
<circle cx="598.2" cy="374" r="2.35" fill="#ff1414"/>
<line x1="489.2" y1="301.9" x2="489.2" y2="428.7" stroke="#707070" stroke-width="1"/>
<line x1="483.6" y1="428.2" x2="615" y2="428.2" stroke="#707070" stroke-width="1"/>
<line x1="483.6" y1="428.2" x2="489.2" y2="428.2" stroke="#707070" stroke-width="1"/>
<text x="477.2" y="433.1" font-size="12.4" fill="#222" text-anchor="end" textLength="8" lengthAdjust="spacingAndGlyphs">0</text>
<line x1="483.6" y1="410.23" x2="489.2" y2="410.23" stroke="#707070" stroke-width="1"/>
<text x="477.2" y="415.13" font-size="12.4" fill="#222" text-anchor="end" textLength="16.2" lengthAdjust="spacingAndGlyphs">10</text>
<line x1="483.6" y1="392.26" x2="489.2" y2="392.26" stroke="#707070" stroke-width="1"/>
<text x="477.2" y="397.16" font-size="12.4" fill="#222" text-anchor="end" textLength="16.2" lengthAdjust="spacingAndGlyphs">20</text>
<line x1="483.6" y1="374.29" x2="489.2" y2="374.29" stroke="#707070" stroke-width="1"/>
<text x="477.2" y="379.19" font-size="12.4" fill="#222" text-anchor="end" textLength="16.2" lengthAdjust="spacingAndGlyphs">30</text>
<line x1="483.6" y1="356.31" x2="489.2" y2="356.31" stroke="#707070" stroke-width="1"/>
<text x="477.2" y="361.21" font-size="12.4" fill="#222" text-anchor="end" textLength="16.2" lengthAdjust="spacingAndGlyphs">40</text>
<line x1="483.6" y1="338.34" x2="489.2" y2="338.34" stroke="#707070" stroke-width="1"/>
<text x="477.2" y="343.24" font-size="12.4" fill="#222" text-anchor="end" textLength="16.2" lengthAdjust="spacingAndGlyphs">50</text>
<line x1="483.6" y1="320.37" x2="489.2" y2="320.37" stroke="#707070" stroke-width="1"/>
<text x="477.2" y="325.27" font-size="12.4" fill="#222" text-anchor="end" textLength="16.2" lengthAdjust="spacingAndGlyphs">60</text>
<line x1="483.6" y1="302.4" x2="489.2" y2="302.4" stroke="#707070" stroke-width="1"/>
<text x="477.2" y="307.3" font-size="12.4" fill="#222" text-anchor="end" textLength="16.2" lengthAdjust="spacingAndGlyphs">70</text>
<line x1="504.9" y1="428.2" x2="504.9" y2="433.8" stroke="#707070" stroke-width="1"/>
<text font-size="13" fill="#222" text-anchor="end" textLength="24.5" lengthAdjust="spacingAndGlyphs" transform="translate(511.3 448) rotate(-35)">PBS</text>
<line x1="528.2" y1="428.2" x2="528.2" y2="433.8" stroke="#707070" stroke-width="1"/>
<text font-size="13" fill="#222" text-anchor="end" textLength="40" lengthAdjust="spacingAndGlyphs" transform="translate(534.6 448) rotate(-35)">CAR-T</text>
<line x1="551.7" y1="428.2" x2="551.7" y2="433.8" stroke="#707070" stroke-width="1"/>
<text font-size="13" fill="#222" text-anchor="end" textLength="39.5" lengthAdjust="spacingAndGlyphs" transform="translate(558.1 448) rotate(-35)">POMV</text>
<line x1="575.2" y1="428.2" x2="575.2" y2="433.8" stroke="#707070" stroke-width="1"/>
<text font-size="13" fill="#222" text-anchor="end" textLength="91" lengthAdjust="spacingAndGlyphs" transform="translate(581.6 448) rotate(-35)">POMV + CAR-T</text>
<line x1="598.5" y1="428.2" x2="598.5" y2="433.8" stroke="#707070" stroke-width="1"/>
<text font-size="13" fill="#222" text-anchor="end" textLength="88" lengthAdjust="spacingAndGlyphs" transform="translate(604.9 448) rotate(-35)">BROAD-CAR-T</text>
<line x1="506" y1="283.2" x2="599" y2="283.2" stroke="#444" stroke-width="0.8"/>
<line x1="530.7" y1="300.5" x2="599" y2="300.5" stroke="#444" stroke-width="0.8"/>
<line x1="553.3" y1="317.2" x2="599" y2="317.2" stroke="#444" stroke-width="0.8"/>
<line x1="570" y1="334.5" x2="599" y2="334.5" stroke="#444" stroke-width="0.8"/>
<text x="586.7" y="279.2" font-size="11" fill="#222" text-anchor="end" textLength="51.3" lengthAdjust="spacingAndGlyphs"><tspan font-style="italic">P</tspan> &lt; 0.0001</text>
<text x="592.7" y="296.2" font-size="11" fill="#222" text-anchor="end" textLength="51.3" lengthAdjust="spacingAndGlyphs"><tspan font-style="italic">P</tspan> &lt; 0.0001</text>
<text x="605.7" y="313.2" font-size="11" fill="#222" text-anchor="end" textLength="51.3" lengthAdjust="spacingAndGlyphs"><tspan font-style="italic">P</tspan> &lt; 0.0001</text>
<text x="609.3" y="330.8" font-size="11" fill="#222" text-anchor="end" textLength="51.3" lengthAdjust="spacingAndGlyphs"><tspan font-style="italic">P</tspan> = 0.0477</text>
<text font-size="15.3" fill="#222" text-anchor="middle" textLength="168" lengthAdjust="spacingAndGlyphs" transform="translate(449.5 362.5) rotate(-90)">GZMB<tspan dy="-5.6" font-size="9.6">+</tspan><tspan dy="5.6"> in CD8</tspan><tspan dy="-5.6" font-size="9.6">+</tspan><tspan dy="5.6"> cells (%)</tspan></text>
<rect x="702.5" y="404.5" width="14" height="23.5" fill="#fff" stroke="#383838" stroke-width="1"/>
<rect x="724.5" y="388.5" width="15" height="39.5" fill="#fff" stroke="#6464ff" stroke-width="1"/>
<rect x="747.5" y="375.5" width="14" height="52.5" fill="#fff" stroke="#4aa6a6" stroke-width="1"/>
<rect x="770.5" y="360.5" width="14" height="67.5" fill="#fff" stroke="#a46cd0" stroke-width="1"/>
<rect x="793.5" y="350.5" width="14" height="77.5" fill="#fff" stroke="#ff6868" stroke-width="1"/>
<line x1="709.5" y1="398.4" x2="709.5" y2="407.4" stroke="#383838" stroke-width="0.9"/>
<line x1="705.9" y1="398.4" x2="713.1" y2="398.4" stroke="#383838" stroke-width="0.9"/>
<line x1="705.9" y1="407.4" x2="713.1" y2="407.4" stroke="#383838" stroke-width="0.9"/>
<line x1="732.1" y1="384.4" x2="732.1" y2="391.4" stroke="#6464ff" stroke-width="0.9"/>
<line x1="728.5" y1="384.4" x2="735.7" y2="384.4" stroke="#6464ff" stroke-width="0.9"/>
<line x1="728.5" y1="391.4" x2="735.7" y2="391.4" stroke="#6464ff" stroke-width="0.9"/>
<line x1="754.9" y1="366.4" x2="754.9" y2="382.6" stroke="#4aa6a6" stroke-width="0.9"/>
<line x1="751.3" y1="366.4" x2="758.5" y2="366.4" stroke="#4aa6a6" stroke-width="0.9"/>
<line x1="751.3" y1="382.6" x2="758.5" y2="382.6" stroke="#4aa6a6" stroke-width="0.9"/>
<line x1="777.8" y1="354.4" x2="777.8" y2="365.6" stroke="#a46cd0" stroke-width="0.9"/>
<line x1="774.2" y1="354.4" x2="781.4" y2="354.4" stroke="#a46cd0" stroke-width="0.9"/>
<line x1="774.2" y1="365.6" x2="781.4" y2="365.6" stroke="#a46cd0" stroke-width="0.9"/>
<line x1="800.5" y1="344" x2="800.5" y2="355" stroke="#ff6868" stroke-width="0.9"/>
<line x1="796.9" y1="344" x2="804.1" y2="344" stroke="#ff6868" stroke-width="0.9"/>
<line x1="796.9" y1="355" x2="804.1" y2="355" stroke="#ff6868" stroke-width="0.9"/>
<circle cx="709.4" cy="396" r="2.35" fill="#000"/>
<circle cx="715" cy="400.4" r="2.35" fill="#000"/>
<circle cx="703.6" cy="403" r="2.35" fill="#000"/>
<circle cx="709.4" cy="403.6" r="2.35" fill="#000"/>
<circle cx="715" cy="404.6" r="2.35" fill="#000"/>
<circle cx="709.4" cy="408.6" r="2.35" fill="#000"/>
<circle cx="738" cy="382.4" r="2.35" fill="#0a0aff"/>
<circle cx="732" cy="386.4" r="2.35" fill="#0a0aff"/>
<circle cx="738" cy="387.4" r="2.35" fill="#0a0aff"/>
<circle cx="732" cy="389.4" r="2.35" fill="#0a0aff"/>
<circle cx="738" cy="391" r="2.35" fill="#0a0aff"/>
<circle cx="726.4" cy="392" r="2.35" fill="#0a0aff"/>
<circle cx="760.4" cy="367" r="2.35" fill="#168a8a"/>
<circle cx="754.6" cy="368.6" r="2.35" fill="#168a8a"/>
<circle cx="749" cy="371" r="2.35" fill="#168a8a"/>
<circle cx="760.4" cy="372" r="2.35" fill="#168a8a"/>
<circle cx="754.6" cy="381" r="2.35" fill="#168a8a"/>
<circle cx="754.6" cy="388.4" r="2.35" fill="#168a8a"/>
<circle cx="777.6" cy="352" r="2.35" fill="#6a0dad"/>
<circle cx="773.6" cy="356.4" r="2.35" fill="#6a0dad"/>
<circle cx="781.4" cy="357.4" r="2.35" fill="#6a0dad"/>
<circle cx="777.6" cy="360" r="2.35" fill="#6a0dad"/>
<circle cx="773.6" cy="365" r="2.35" fill="#6a0dad"/>
<circle cx="781.4" cy="365" r="2.35" fill="#6a0dad"/>
<circle cx="800.4" cy="341.6" r="2.35" fill="#ff1414"/>
<circle cx="796.4" cy="346.4" r="2.35" fill="#ff1414"/>
<circle cx="804" cy="348.4" r="2.35" fill="#ff1414"/>
<circle cx="800.4" cy="351.4" r="2.35" fill="#ff1414"/>
<circle cx="796.4" cy="355" r="2.35" fill="#ff1414"/>
<circle cx="804" cy="355" r="2.35" fill="#ff1414"/>
<line x1="694.4" y1="303.5" x2="694.4" y2="428.5" stroke="#707070" stroke-width="1"/>
<line x1="688.6" y1="428" x2="816" y2="428" stroke="#707070" stroke-width="1"/>
<line x1="688.8" y1="428" x2="694.4" y2="428" stroke="#707070" stroke-width="1"/>
<text x="682.4" y="431.5" font-size="12.4" fill="#222" text-anchor="end" textLength="8" lengthAdjust="spacingAndGlyphs">0</text>
<line x1="688.8" y1="410.29" x2="694.4" y2="410.29" stroke="#707070" stroke-width="1"/>
<text x="682.4" y="413.79" font-size="12.4" fill="#222" text-anchor="end" textLength="16.2" lengthAdjust="spacingAndGlyphs">10</text>
<line x1="688.8" y1="392.57" x2="694.4" y2="392.57" stroke="#707070" stroke-width="1"/>
<text x="682.4" y="396.07" font-size="12.4" fill="#222" text-anchor="end" textLength="16.2" lengthAdjust="spacingAndGlyphs">20</text>
<line x1="688.8" y1="374.86" x2="694.4" y2="374.86" stroke="#707070" stroke-width="1"/>
<text x="682.4" y="378.36" font-size="12.4" fill="#222" text-anchor="end" textLength="16.2" lengthAdjust="spacingAndGlyphs">30</text>
<line x1="688.8" y1="357.14" x2="694.4" y2="357.14" stroke="#707070" stroke-width="1"/>
<text x="682.4" y="360.64" font-size="12.4" fill="#222" text-anchor="end" textLength="16.2" lengthAdjust="spacingAndGlyphs">40</text>
<line x1="688.8" y1="339.43" x2="694.4" y2="339.43" stroke="#707070" stroke-width="1"/>
<text x="682.4" y="342.93" font-size="12.4" fill="#222" text-anchor="end" textLength="16.2" lengthAdjust="spacingAndGlyphs">50</text>
<line x1="688.8" y1="321.71" x2="694.4" y2="321.71" stroke="#707070" stroke-width="1"/>
<text x="682.4" y="325.21" font-size="12.4" fill="#222" text-anchor="end" textLength="16.2" lengthAdjust="spacingAndGlyphs">60</text>
<line x1="688.8" y1="304" x2="694.4" y2="304" stroke="#707070" stroke-width="1"/>
<text x="682.4" y="307.5" font-size="12.4" fill="#222" text-anchor="end" textLength="16.2" lengthAdjust="spacingAndGlyphs">70</text>
<line x1="709.5" y1="428" x2="709.5" y2="433.6" stroke="#707070" stroke-width="1"/>
<text font-size="13" fill="#222" text-anchor="end" textLength="24.5" lengthAdjust="spacingAndGlyphs" transform="translate(715.9 448) rotate(-35)">PBS</text>
<line x1="732.1" y1="428" x2="732.1" y2="433.6" stroke="#707070" stroke-width="1"/>
<text font-size="13" fill="#222" text-anchor="end" textLength="40" lengthAdjust="spacingAndGlyphs" transform="translate(738.5 448) rotate(-35)">CAR-T</text>
<line x1="754.9" y1="428" x2="754.9" y2="433.6" stroke="#707070" stroke-width="1"/>
<text font-size="13" fill="#222" text-anchor="end" textLength="39.5" lengthAdjust="spacingAndGlyphs" transform="translate(761.3 448) rotate(-35)">POMV</text>
<line x1="777.8" y1="428" x2="777.8" y2="433.6" stroke="#707070" stroke-width="1"/>
<text font-size="13" fill="#222" text-anchor="end" textLength="91" lengthAdjust="spacingAndGlyphs" transform="translate(784.2 448) rotate(-35)">POMV + CAR-T</text>
<line x1="800.5" y1="428" x2="800.5" y2="433.6" stroke="#707070" stroke-width="1"/>
<text font-size="13" fill="#222" text-anchor="end" textLength="88" lengthAdjust="spacingAndGlyphs" transform="translate(806.9 448) rotate(-35)">BROAD-CAR-T</text>
<line x1="710" y1="283.2" x2="803.3" y2="283.2" stroke="#444" stroke-width="0.8"/>
<line x1="735.7" y1="300.5" x2="803.3" y2="300.5" stroke="#444" stroke-width="0.8"/>
<line x1="757.3" y1="317.2" x2="803.3" y2="317.2" stroke="#444" stroke-width="0.8"/>
<line x1="775" y1="334.5" x2="803.3" y2="334.5" stroke="#444" stroke-width="0.8"/>
<text x="790" y="279.2" font-size="11" fill="#222" text-anchor="end" textLength="51.3" lengthAdjust="spacingAndGlyphs"><tspan font-style="italic">P</tspan> &lt; 0.0001</text>
<text x="799.3" y="296.2" font-size="11" fill="#222" text-anchor="end" textLength="51.3" lengthAdjust="spacingAndGlyphs"><tspan font-style="italic">P</tspan> &lt; 0.0001</text>
<text x="810.7" y="313.2" font-size="11" fill="#222" text-anchor="end" textLength="51.3" lengthAdjust="spacingAndGlyphs"><tspan font-style="italic">P</tspan> &lt; 0.0001</text>
<text x="818.3" y="330.8" font-size="11" fill="#222" text-anchor="end" textLength="51.3" lengthAdjust="spacingAndGlyphs"><tspan font-style="italic">P</tspan> = 0.0354</text>
<text font-size="15.3" fill="#222" text-anchor="middle" textLength="119" lengthAdjust="spacingAndGlyphs" transform="translate(639.5 356) rotate(-90)">Perforin<tspan dy="-5.6" font-size="9.6">+</tspan><tspan dy="5.6"> in CD8</tspan><tspan dy="-5.6" font-size="9.6">+</tspan></text>
<text font-size="15.3" fill="#222" text-anchor="middle" textLength="58" lengthAdjust="spacingAndGlyphs" transform="translate(655.8 356.5) rotate(-90)">cells (%)</text>
<rect x="883.5" y="409.5" width="15" height="18.3" fill="#fff" stroke="#383838" stroke-width="1"/>
<rect x="907.5" y="392.5" width="14" height="35.3" fill="#fff" stroke="#6464ff" stroke-width="1"/>
<rect x="930.5" y="378.5" width="15" height="49.3" fill="#fff" stroke="#4aa6a6" stroke-width="1"/>
<rect x="954.5" y="370.5" width="15" height="57.3" fill="#fff" stroke="#a46cd0" stroke-width="1"/>
<rect x="978.5" y="356.5" width="15" height="71.3" fill="#fff" stroke="#ff6868" stroke-width="1"/>
<line x1="890.9" y1="399" x2="890.9" y2="420" stroke="#383838" stroke-width="0.9"/>
<line x1="887.3" y1="399" x2="894.5" y2="399" stroke="#383838" stroke-width="0.9"/>
<line x1="887.3" y1="420" x2="894.5" y2="420" stroke="#383838" stroke-width="0.9"/>
<line x1="914.7" y1="385.6" x2="914.7" y2="399" stroke="#6464ff" stroke-width="0.9"/>
<line x1="911.1" y1="385.6" x2="918.3" y2="385.6" stroke="#6464ff" stroke-width="0.9"/>
<line x1="911.1" y1="399" x2="918.3" y2="399" stroke="#6464ff" stroke-width="0.9"/>
<line x1="938.1" y1="369" x2="938.1" y2="387.6" stroke="#4aa6a6" stroke-width="0.9"/>
<line x1="934.5" y1="369" x2="941.7" y2="369" stroke="#4aa6a6" stroke-width="0.9"/>
<line x1="934.5" y1="387.6" x2="941.7" y2="387.6" stroke="#4aa6a6" stroke-width="0.9"/>
<line x1="961.8" y1="360.4" x2="961.8" y2="379" stroke="#a46cd0" stroke-width="0.9"/>
<line x1="958.2" y1="360.4" x2="965.4" y2="360.4" stroke="#a46cd0" stroke-width="0.9"/>
<line x1="958.2" y1="379" x2="965.4" y2="379" stroke="#a46cd0" stroke-width="0.9"/>
<line x1="985.8" y1="349.4" x2="985.8" y2="361" stroke="#ff6868" stroke-width="0.9"/>
<line x1="982.2" y1="349.4" x2="989.4" y2="349.4" stroke="#ff6868" stroke-width="0.9"/>
<line x1="982.2" y1="361" x2="989.4" y2="361" stroke="#ff6868" stroke-width="0.9"/>
<circle cx="891" cy="397.4" r="2.35" fill="#000"/>
<circle cx="887" cy="401" r="2.35" fill="#000"/>
<circle cx="894.6" cy="404" r="2.35" fill="#000"/>
<circle cx="891" cy="410.6" r="2.35" fill="#000"/>
<circle cx="894.6" cy="418" r="2.35" fill="#000"/>
<circle cx="887" cy="421" r="2.35" fill="#000"/>
<circle cx="914.6" cy="382" r="2.35" fill="#0a0aff"/>
<circle cx="910.6" cy="388" r="2.35" fill="#0a0aff"/>
<circle cx="918.6" cy="391.4" r="2.35" fill="#0a0aff"/>
<circle cx="910.6" cy="394" r="2.35" fill="#0a0aff"/>
<circle cx="918.6" cy="396.6" r="2.35" fill="#0a0aff"/>
<circle cx="910.6" cy="399.4" r="2.35" fill="#0a0aff"/>
<circle cx="934.4" cy="366" r="2.35" fill="#168a8a"/>
<circle cx="942" cy="368.6" r="2.35" fill="#168a8a"/>
<circle cx="942" cy="379" r="2.35" fill="#168a8a"/>
<circle cx="934.4" cy="382" r="2.35" fill="#168a8a"/>
<circle cx="942" cy="384.6" r="2.35" fill="#168a8a"/>
<circle cx="938" cy="388.6" r="2.35" fill="#168a8a"/>
<circle cx="962" cy="355.4" r="2.35" fill="#6a0dad"/>
<circle cx="962" cy="363.4" r="2.35" fill="#6a0dad"/>
<circle cx="966" cy="368.6" r="2.35" fill="#6a0dad"/>
<circle cx="958" cy="371.4" r="2.35" fill="#6a0dad"/>
<circle cx="966" cy="378" r="2.35" fill="#6a0dad"/>
<circle cx="958" cy="380" r="2.35" fill="#6a0dad"/>
<circle cx="985.6" cy="346.4" r="2.35" fill="#ff1414"/>
<circle cx="985.6" cy="352.4" r="2.35" fill="#ff1414"/>
<circle cx="980" cy="356" r="2.35" fill="#ff1414"/>
<circle cx="991.6" cy="357.6" r="2.35" fill="#ff1414"/>
<circle cx="985.6" cy="358" r="2.35" fill="#ff1414"/>
<circle cx="985.6" cy="363" r="2.35" fill="#ff1414"/>
<line x1="875.2" y1="301.1" x2="875.2" y2="428.3" stroke="#707070" stroke-width="1"/>
<line x1="869.6" y1="427.8" x2="1002" y2="427.8" stroke="#707070" stroke-width="1"/>
<line x1="869.6" y1="427.8" x2="875.2" y2="427.8" stroke="#707070" stroke-width="1"/>
<text x="863.2" y="432.4" font-size="12.4" fill="#222" text-anchor="end" textLength="8" lengthAdjust="spacingAndGlyphs">0</text>
<line x1="869.6" y1="396.25" x2="875.2" y2="396.25" stroke="#707070" stroke-width="1"/>
<text x="863.2" y="400.85" font-size="12.4" fill="#222" text-anchor="end" textLength="8" lengthAdjust="spacingAndGlyphs">1</text>
<line x1="869.6" y1="364.7" x2="875.2" y2="364.7" stroke="#707070" stroke-width="1"/>
<text x="863.2" y="369.3" font-size="12.4" fill="#222" text-anchor="end" textLength="8" lengthAdjust="spacingAndGlyphs">2</text>
<line x1="869.6" y1="333.15" x2="875.2" y2="333.15" stroke="#707070" stroke-width="1"/>
<text x="863.2" y="337.75" font-size="12.4" fill="#222" text-anchor="end" textLength="8" lengthAdjust="spacingAndGlyphs">3</text>
<line x1="869.6" y1="301.6" x2="875.2" y2="301.6" stroke="#707070" stroke-width="1"/>
<text x="863.2" y="306.2" font-size="12.4" fill="#222" text-anchor="end" textLength="8" lengthAdjust="spacingAndGlyphs">4</text>
<line x1="890.9" y1="427.8" x2="890.9" y2="433.4" stroke="#707070" stroke-width="1"/>
<text font-size="13" fill="#222" text-anchor="end" textLength="24.5" lengthAdjust="spacingAndGlyphs" transform="translate(897.3 448) rotate(-35)">PBS</text>
<line x1="914.7" y1="427.8" x2="914.7" y2="433.4" stroke="#707070" stroke-width="1"/>
<text font-size="13" fill="#222" text-anchor="end" textLength="40" lengthAdjust="spacingAndGlyphs" transform="translate(921.1 448) rotate(-35)">CAR-T</text>
<line x1="938.1" y1="427.8" x2="938.1" y2="433.4" stroke="#707070" stroke-width="1"/>
<text font-size="13" fill="#222" text-anchor="end" textLength="39.5" lengthAdjust="spacingAndGlyphs" transform="translate(944.5 448) rotate(-35)">POMV</text>
<line x1="961.8" y1="427.8" x2="961.8" y2="433.4" stroke="#707070" stroke-width="1"/>
<text font-size="13" fill="#222" text-anchor="end" textLength="91" lengthAdjust="spacingAndGlyphs" transform="translate(968.2 448) rotate(-35)">POMV + CAR-T</text>
<line x1="985.8" y1="427.8" x2="985.8" y2="433.4" stroke="#707070" stroke-width="1"/>
<text font-size="13" fill="#222" text-anchor="end" textLength="88" lengthAdjust="spacingAndGlyphs" transform="translate(992.2 448) rotate(-35)">BROAD-CAR-T</text>
<line x1="894" y1="283.2" x2="986.7" y2="283.2" stroke="#444" stroke-width="0.8"/>
<line x1="919.3" y1="300.5" x2="986.7" y2="300.5" stroke="#444" stroke-width="0.8"/>
<line x1="941" y1="317.2" x2="986.7" y2="317.2" stroke="#444" stroke-width="0.8"/>
<line x1="959" y1="334.5" x2="986.7" y2="334.5" stroke="#444" stroke-width="0.8"/>
<text x="970" y="279.2" font-size="11" fill="#222" text-anchor="end" textLength="51.3" lengthAdjust="spacingAndGlyphs"><tspan font-style="italic">P</tspan> &lt; 0.0001</text>
<text x="979.3" y="296.2" font-size="11" fill="#222" text-anchor="end" textLength="51.3" lengthAdjust="spacingAndGlyphs"><tspan font-style="italic">P</tspan> &lt; 0.0001</text>
<text x="995" y="313.2" font-size="11" fill="#222" text-anchor="end" textLength="51.3" lengthAdjust="spacingAndGlyphs"><tspan font-style="italic">P</tspan> = 0.0004</text>
<text x="1001" y="330.8" font-size="11" fill="#222" text-anchor="end" textLength="51.3" lengthAdjust="spacingAndGlyphs"><tspan font-style="italic">P</tspan> = 0.0374</text>
<text font-size="15.3" fill="#222" text-anchor="middle" textLength="49" lengthAdjust="spacingAndGlyphs" transform="translate(845.8 364.7) rotate(-90)">M1/M2</text>
</g>
<g id="panel-e">
<text x="16.8" y="534.1" font-size="22.4" font-weight="bold" fill="#000" stroke="#000" stroke-width="0.45" stroke-linejoin="round" textLength="12.8" lengthAdjust="spacingAndGlyphs">e</text>
<text x="154" y="535" font-size="12.4" fill="#222" text-anchor="middle" textLength="19.6" lengthAdjust="spacingAndGlyphs">4T1</text>
<line x1="78.3" y1="540.6" x2="242.3" y2="540.6" stroke="#555" stroke-width="0.9"/>
<text x="82.3" y="556" font-size="12.4" fill="#222" textLength="31.7" lengthAdjust="spacingAndGlyphs">Naive</text>
<text x="170.7" y="556" font-size="12.4" fill="#222" textLength="71" lengthAdjust="spacingAndGlyphs">Rechallenge</text>
<text x="369.3" y="535" font-size="12.4" fill="#222" text-anchor="middle" textLength="55" lengthAdjust="spacingAndGlyphs">4T1-HER2</text>
<line x1="295" y1="540.6" x2="458.3" y2="540.6" stroke="#555" stroke-width="0.9"/>
<text x="299" y="556" font-size="12.4" fill="#222" textLength="31.7" lengthAdjust="spacingAndGlyphs">Naive</text>
<text x="387.3" y="556" font-size="12.4" fill="#222" textLength="71" lengthAdjust="spacingAndGlyphs">Rechallenge</text>
<text font-size="12.6" fill="#222" text-anchor="middle" textLength="31" lengthAdjust="spacingAndGlyphs" transform="translate(41 581.7) rotate(-90)">Day 7</text>
<text font-size="12.6" fill="#222" text-anchor="middle" textLength="36" lengthAdjust="spacingAndGlyphs" transform="translate(41 646.5) rotate(-90)">Day 14</text>
<text font-size="12.6" fill="#222" text-anchor="middle" textLength="35.6" lengthAdjust="spacingAndGlyphs" transform="translate(41 704.5) rotate(-90)">Day 21</text>
<defs><radialGradient id="mg" cx="0.5" cy="0.58" r="0.62"><stop offset="0" stop-color="#f2f2f2"/><stop offset="0.55" stop-color="#dadada"/><stop offset="1" stop-color="#a2a2a2"/></radialGradient><linearGradient id="hg" x1="0" y1="0" x2="0" y2="1"><stop offset="0" stop-color="#8e8e8e"/><stop offset="1" stop-color="#d8d8d8" stop-opacity="0"/></linearGradient><filter id="bl" x="-10%" y="-10%" width="120%" height="120%"><feGaussianBlur stdDeviation="0.5"/></filter><filter id="tx" x="0" y="0" width="100%" height="100%"><feTurbulence type="fractalNoise" baseFrequency="0.45" numOctaves="2" seed="7" result="n"/><feColorMatrix in="n" type="matrix" values="0 0 0 0 0.55  0 0 0 0 0.55  0 0 0 0 0.55  0.9 0 0 0 -0.32" result="g"/><feComposite in="g" in2="SourceAlpha" operator="in" result="gm"/><feMerge><feMergeNode in="SourceGraphic"/><feMergeNode in="gm"/></feMerge><feGaussianBlur stdDeviation="0.45"/></filter></defs>
<g transform="translate(47.1 562.4) scale(0.9938 1.0000)"><rect x="0" y="0" width="32" height="55.2" fill="#323232"/><g fill="#1f1f1f"><rect x="1.8" y="0.8" width="1.9" height="7.4"/><rect x="5.4" y="0.8" width="1.9" height="7.4"/><rect x="9" y="0.8" width="1.9" height="7.4"/><rect x="21.2" y="0.8" width="1.9" height="7.4"/><rect x="24.8" y="0.8" width="1.9" height="7.4"/><rect x="28.4" y="0.8" width="1.9" height="7.4"/></g><g filter="url(#bl)"><path d="M10.6 45.6 L6.4 49.6 L3.6 51.6 M21.8 45.6 L26 49.6 L28.8 51.8" stroke="#dadada" stroke-width="1.7" fill="none" stroke-linecap="round" stroke-linejoin="round"/><path d="M16.1 48.5 L16.1 55.2" stroke="#cfcfcf" stroke-width="1.4" fill="none"/></g><g filter="url(#tx)" transform="translate(16.2 0) scale(0.93 0.985) translate(-16.2 0.6)"><path d="M16.3 1.6 C14.6 1.6 13.8 4 13.3 6.4 C12.800 9 11.8 11.4 10.4 13.4 C8.6 15.4 7.6 17 8 19.4 C8.4 21.6 9.2 23.4 9 26 C8.800 29 7.8 32 7 35 C6.200 38 5.6 41.4 6 44 C6.4 46.6 8.6 48.2 11 48.600 C13 49 14.6 49.4 16.2 49.4 C17.8 49.4 19.400 49 21.4 48.6 C23.8 48.2 26 46.6 26.4 44 C26.8 41.4 26.2 38 25.4 35 C24.6 32 23.6 29 23.4 26 C23.2 23.4 24 21.6 24.4 19.400 C24.8 17 23.8 15.4 22 13.4 C20.6 11.4 19.6 9 19.200 6.4 C18.8 4 18 1.6 16.3 1.6 Z" fill="url(#mg)"/><ellipse cx="16.3" cy="5.6" rx="2.7" ry="3.8" fill="url(#hg)"/></g></g>
<g transform="translate(82 562.4) scale(0.9656 1.0000)"><rect x="0" y="0" width="32" height="55.2" fill="#323232"/><g fill="#1f1f1f"><rect x="1.8" y="0.8" width="1.9" height="7.4"/><rect x="5.4" y="0.8" width="1.9" height="7.4"/><rect x="9" y="0.8" width="1.9" height="7.4"/><rect x="21.2" y="0.8" width="1.9" height="7.4"/><rect x="24.8" y="0.8" width="1.9" height="7.4"/><rect x="28.4" y="0.8" width="1.9" height="7.4"/></g><g filter="url(#bl)"><path d="M10.6 45.6 L6.4 49.6 L3.6 51.6 M21.8 45.6 L26 49.6 L28.8 51.8" stroke="#dadada" stroke-width="1.7" fill="none" stroke-linecap="round" stroke-linejoin="round"/><path d="M16.1 48.5 L16.1 55.2" stroke="#cfcfcf" stroke-width="1.4" fill="none"/></g><g filter="url(#tx)" transform="translate(16.2 0) scale(0.93 0.985) translate(-16.2 0.6)"><path d="M16.3 1.6 C14.6 1.6 13.8 4 13.3 6.4 C12.800 9 11.8 11.4 10.4 13.4 C8.6 15.4 7.6 17 8 19.4 C8.4 21.6 9.2 23.4 9 26 C8.800 29 7.8 32 7 35 C6.200 38 5.6 41.4 6 44 C6.4 46.6 8.6 48.2 11 48.600 C13 49 14.6 49.4 16.2 49.4 C17.8 49.4 19.400 49 21.4 48.6 C23.8 48.2 26 46.6 26.4 44 C26.8 41.4 26.2 38 25.4 35 C24.6 32 23.6 29 23.4 26 C23.2 23.4 24 21.6 24.4 19.400 C24.8 17 23.8 15.4 22 13.4 C20.6 11.4 19.6 9 19.200 6.4 C18.8 4 18 1.6 16.3 1.6 Z" fill="url(#mg)"/><ellipse cx="16.3" cy="5.6" rx="2.7" ry="3.8" fill="url(#hg)"/></g></g>
<g transform="translate(116 562.4) scale(0.9688 1.0000)"><rect x="0" y="0" width="32" height="55.2" fill="#323232"/><g fill="#1f1f1f"><rect x="1.8" y="0.8" width="1.9" height="7.4"/><rect x="5.4" y="0.8" width="1.9" height="7.4"/><rect x="9" y="0.8" width="1.9" height="7.4"/><rect x="21.2" y="0.8" width="1.9" height="7.4"/><rect x="24.8" y="0.8" width="1.9" height="7.4"/><rect x="28.4" y="0.8" width="1.9" height="7.4"/></g><g filter="url(#bl)"><path d="M10.6 45.6 L6.4 49.6 L3.6 51.6 M21.8 45.6 L26 49.6 L28.8 51.8" stroke="#dadada" stroke-width="1.7" fill="none" stroke-linecap="round" stroke-linejoin="round"/><path d="M16.1 48.5 L16.1 55.2" stroke="#cfcfcf" stroke-width="1.4" fill="none"/></g><g filter="url(#tx)" transform="translate(16.2 0) scale(0.93 0.985) translate(-16.2 0.6)"><path d="M16.3 1.6 C14.6 1.6 13.8 4 13.3 6.4 C12.800 9 11.8 11.4 10.4 13.4 C8.6 15.4 7.6 17 8 19.4 C8.4 21.6 9.2 23.4 9 26 C8.800 29 7.8 32 7 35 C6.200 38 5.6 41.4 6 44 C6.4 46.6 8.6 48.2 11 48.600 C13 49 14.6 49.4 16.2 49.4 C17.8 49.4 19.400 49 21.4 48.6 C23.8 48.2 26 46.6 26.4 44 C26.8 41.4 26.2 38 25.4 35 C24.6 32 23.6 29 23.4 26 C23.2 23.4 24 21.6 24.4 19.400 C24.8 17 23.8 15.4 22 13.4 C20.6 11.4 19.6 9 19.200 6.4 C18.8 4 18 1.6 16.3 1.6 Z" fill="url(#mg)"/><ellipse cx="16.3" cy="5.6" rx="2.7" ry="3.8" fill="url(#hg)"/></g></g>
<g transform="translate(156.1 562.4) scale(0.9625 1.0000)"><rect x="0" y="0" width="32" height="55.2" fill="#323232"/><g fill="#1f1f1f"><rect x="1.8" y="0.8" width="1.9" height="7.4"/><rect x="5.4" y="0.8" width="1.9" height="7.4"/><rect x="9" y="0.8" width="1.9" height="7.4"/><rect x="21.2" y="0.8" width="1.9" height="7.4"/><rect x="24.8" y="0.8" width="1.9" height="7.4"/><rect x="28.4" y="0.8" width="1.9" height="7.4"/></g><g filter="url(#bl)"><path d="M10.6 45.6 L6.4 49.6 L3.6 51.6 M21.8 45.6 L26 49.6 L28.8 51.8" stroke="#dadada" stroke-width="1.7" fill="none" stroke-linecap="round" stroke-linejoin="round"/><path d="M16.1 48.5 L16.1 55.2" stroke="#cfcfcf" stroke-width="1.4" fill="none"/></g><g filter="url(#tx)" transform="translate(16.2 0) scale(0.93 0.985) translate(-16.2 0.6)"><path d="M16.3 1.6 C14.6 1.6 13.8 4 13.3 6.4 C12.800 9 11.8 11.4 10.4 13.4 C8.6 15.4 7.6 17 8 19.4 C8.4 21.6 9.2 23.4 9 26 C8.800 29 7.8 32 7 35 C6.200 38 5.6 41.4 6 44 C6.4 46.6 8.6 48.2 11 48.600 C13 49 14.6 49.4 16.2 49.4 C17.8 49.4 19.400 49 21.4 48.6 C23.8 48.2 26 46.6 26.4 44 C26.8 41.4 26.2 38 25.4 35 C24.6 32 23.6 29 23.4 26 C23.2 23.4 24 21.6 24.4 19.400 C24.8 17 23.8 15.4 22 13.4 C20.6 11.4 19.6 9 19.200 6.4 C18.8 4 18 1.6 16.3 1.6 Z" fill="url(#mg)"/><ellipse cx="16.3" cy="5.6" rx="2.7" ry="3.8" fill="url(#hg)"/></g></g>
<g transform="translate(190.2 562.4) scale(0.9719 1.0000)"><rect x="0" y="0" width="32" height="55.2" fill="#323232"/><g fill="#1f1f1f"><rect x="1.8" y="0.8" width="1.9" height="7.4"/><rect x="5.4" y="0.8" width="1.9" height="7.4"/><rect x="9" y="0.8" width="1.9" height="7.4"/><rect x="21.2" y="0.8" width="1.9" height="7.4"/><rect x="24.8" y="0.8" width="1.9" height="7.4"/><rect x="28.4" y="0.8" width="1.9" height="7.4"/></g><g filter="url(#bl)"><path d="M10.6 45.6 L6.4 49.6 L3.6 51.6 M21.8 45.6 L26 49.6 L28.8 51.8" stroke="#dadada" stroke-width="1.7" fill="none" stroke-linecap="round" stroke-linejoin="round"/><path d="M16.1 48.5 L16.1 55.2" stroke="#cfcfcf" stroke-width="1.4" fill="none"/></g><g filter="url(#tx)" transform="translate(16.2 0) scale(0.93 0.985) translate(-16.2 0.6)"><path d="M16.3 1.6 C14.6 1.6 13.8 4 13.3 6.4 C12.800 9 11.8 11.4 10.4 13.4 C8.6 15.4 7.6 17 8 19.4 C8.4 21.6 9.2 23.4 9 26 C8.800 29 7.8 32 7 35 C6.200 38 5.6 41.4 6 44 C6.4 46.6 8.6 48.2 11 48.600 C13 49 14.6 49.4 16.2 49.4 C17.8 49.4 19.400 49 21.4 48.6 C23.8 48.2 26 46.6 26.4 44 C26.8 41.4 26.2 38 25.4 35 C24.6 32 23.6 29 23.4 26 C23.2 23.4 24 21.6 24.4 19.400 C24.8 17 23.8 15.4 22 13.4 C20.6 11.4 19.6 9 19.200 6.4 C18.8 4 18 1.6 16.3 1.6 Z" fill="url(#mg)"/><ellipse cx="16.3" cy="5.6" rx="2.7" ry="3.8" fill="url(#hg)"/></g></g>
<g transform="translate(224.4 562.4) scale(0.9844 1.0000)"><rect x="0" y="0" width="32" height="55.2" fill="#323232"/><g fill="#1f1f1f"><rect x="1.8" y="0.8" width="1.9" height="7.4"/><rect x="5.4" y="0.8" width="1.9" height="7.4"/><rect x="9" y="0.8" width="1.9" height="7.4"/><rect x="21.2" y="0.8" width="1.9" height="7.4"/><rect x="24.8" y="0.8" width="1.9" height="7.4"/><rect x="28.4" y="0.8" width="1.9" height="7.4"/></g><g filter="url(#bl)"><path d="M10.6 45.6 L6.4 49.6 L3.6 51.6 M21.8 45.6 L26 49.6 L28.8 51.8" stroke="#dadada" stroke-width="1.7" fill="none" stroke-linecap="round" stroke-linejoin="round"/><path d="M16.1 48.5 L16.1 55.2" stroke="#cfcfcf" stroke-width="1.4" fill="none"/></g><g filter="url(#tx)" transform="translate(16.2 0) scale(0.93 0.985) translate(-16.2 0.6)"><path d="M16.3 1.6 C14.6 1.6 13.8 4 13.3 6.4 C12.800 9 11.8 11.4 10.4 13.4 C8.6 15.4 7.6 17 8 19.4 C8.4 21.6 9.2 23.4 9 26 C8.800 29 7.8 32 7 35 C6.200 38 5.6 41.4 6 44 C6.4 46.6 8.6 48.2 11 48.600 C13 49 14.6 49.4 16.2 49.4 C17.8 49.4 19.400 49 21.4 48.6 C23.8 48.2 26 46.6 26.4 44 C26.8 41.4 26.2 38 25.4 35 C24.6 32 23.6 29 23.4 26 C23.2 23.4 24 21.6 24.4 19.400 C24.8 17 23.8 15.4 22 13.4 C20.6 11.4 19.6 9 19.200 6.4 C18.8 4 18 1.6 16.3 1.6 Z" fill="url(#mg)"/><ellipse cx="16.3" cy="5.6" rx="2.7" ry="3.8" fill="url(#hg)"/></g></g>
<g transform="translate(263.5 562.4) scale(1.0000 1.0000)"><rect x="0" y="0" width="32" height="55.2" fill="#323232"/><g fill="#1f1f1f"><rect x="1.8" y="0.8" width="1.9" height="7.4"/><rect x="5.4" y="0.8" width="1.9" height="7.4"/><rect x="9" y="0.8" width="1.9" height="7.4"/><rect x="21.2" y="0.8" width="1.9" height="7.4"/><rect x="24.8" y="0.8" width="1.9" height="7.4"/><rect x="28.4" y="0.8" width="1.9" height="7.4"/></g><g filter="url(#bl)"><path d="M10.6 45.6 L6.4 49.6 L3.6 51.6 M21.8 45.6 L26 49.6 L28.8 51.8" stroke="#dadada" stroke-width="1.7" fill="none" stroke-linecap="round" stroke-linejoin="round"/><path d="M16.1 48.5 L16.1 55.2" stroke="#cfcfcf" stroke-width="1.4" fill="none"/></g><g filter="url(#tx)" transform="translate(16.2 0) scale(0.93 0.985) translate(-16.2 0.6)"><path d="M16.3 1.6 C14.6 1.6 13.8 4 13.3 6.4 C12.800 9 11.8 11.4 10.4 13.4 C8.6 15.4 7.6 17 8 19.4 C8.4 21.6 9.2 23.4 9 26 C8.800 29 7.8 32 7 35 C6.200 38 5.6 41.4 6 44 C6.4 46.6 8.6 48.2 11 48.600 C13 49 14.6 49.4 16.2 49.4 C17.8 49.4 19.400 49 21.4 48.6 C23.8 48.2 26 46.6 26.4 44 C26.8 41.4 26.2 38 25.4 35 C24.6 32 23.6 29 23.4 26 C23.2 23.4 24 21.6 24.4 19.400 C24.8 17 23.8 15.4 22 13.4 C20.6 11.4 19.6 9 19.200 6.4 C18.8 4 18 1.6 16.3 1.6 Z" fill="url(#mg)"/><ellipse cx="16.3" cy="5.6" rx="2.7" ry="3.8" fill="url(#hg)"/></g></g>
<g transform="translate(298 562.4) scale(1.0000 1.0000)"><rect x="0" y="0" width="32" height="55.2" fill="#323232"/><g fill="#1f1f1f"><rect x="1.8" y="0.8" width="1.9" height="7.4"/><rect x="5.4" y="0.8" width="1.9" height="7.4"/><rect x="9" y="0.8" width="1.9" height="7.4"/><rect x="21.2" y="0.8" width="1.9" height="7.4"/><rect x="24.8" y="0.8" width="1.9" height="7.4"/><rect x="28.4" y="0.8" width="1.9" height="7.4"/></g><g filter="url(#bl)"><path d="M10.6 45.6 L6.4 49.6 L3.6 51.6 M21.8 45.6 L26 49.6 L28.8 51.8" stroke="#dadada" stroke-width="1.7" fill="none" stroke-linecap="round" stroke-linejoin="round"/><path d="M16.1 48.5 L16.1 55.2" stroke="#cfcfcf" stroke-width="1.4" fill="none"/></g><g filter="url(#tx)" transform="translate(16.2 0) scale(0.93 0.985) translate(-16.2 0.6)"><path d="M16.3 1.6 C14.6 1.6 13.8 4 13.3 6.4 C12.800 9 11.8 11.4 10.4 13.4 C8.6 15.4 7.6 17 8 19.4 C8.4 21.6 9.2 23.4 9 26 C8.800 29 7.8 32 7 35 C6.200 38 5.6 41.4 6 44 C6.4 46.6 8.6 48.2 11 48.600 C13 49 14.6 49.4 16.2 49.4 C17.8 49.4 19.400 49 21.4 48.6 C23.8 48.2 26 46.6 26.4 44 C26.8 41.4 26.2 38 25.4 35 C24.6 32 23.6 29 23.4 26 C23.2 23.4 24 21.6 24.4 19.400 C24.8 17 23.8 15.4 22 13.4 C20.6 11.4 19.6 9 19.200 6.4 C18.8 4 18 1.6 16.3 1.6 Z" fill="url(#mg)"/><ellipse cx="16.3" cy="5.6" rx="2.7" ry="3.8" fill="url(#hg)"/></g></g>
<g transform="translate(332.5 562.4) scale(0.9938 1.0000)"><rect x="0" y="0" width="32" height="55.2" fill="#323232"/><g fill="#1f1f1f"><rect x="1.8" y="0.8" width="1.9" height="7.4"/><rect x="5.4" y="0.8" width="1.9" height="7.4"/><rect x="9" y="0.8" width="1.9" height="7.4"/><rect x="21.2" y="0.8" width="1.9" height="7.4"/><rect x="24.8" y="0.8" width="1.9" height="7.4"/><rect x="28.4" y="0.8" width="1.9" height="7.4"/></g><g filter="url(#bl)"><path d="M10.6 45.6 L6.4 49.6 L3.6 51.6 M21.8 45.6 L26 49.6 L28.8 51.8" stroke="#dadada" stroke-width="1.7" fill="none" stroke-linecap="round" stroke-linejoin="round"/><path d="M16.1 48.5 L16.1 55.2" stroke="#cfcfcf" stroke-width="1.4" fill="none"/></g><g filter="url(#tx)" transform="translate(16.2 0) scale(0.93 0.985) translate(-16.2 0.6)"><path d="M16.3 1.6 C14.6 1.6 13.8 4 13.3 6.4 C12.800 9 11.8 11.4 10.4 13.4 C8.6 15.4 7.6 17 8 19.4 C8.4 21.6 9.2 23.4 9 26 C8.800 29 7.8 32 7 35 C6.200 38 5.6 41.4 6 44 C6.4 46.6 8.6 48.2 11 48.600 C13 49 14.6 49.4 16.2 49.4 C17.8 49.4 19.400 49 21.4 48.6 C23.8 48.2 26 46.6 26.4 44 C26.8 41.4 26.2 38 25.4 35 C24.6 32 23.6 29 23.4 26 C23.2 23.4 24 21.6 24.4 19.400 C24.8 17 23.8 15.4 22 13.4 C20.6 11.4 19.6 9 19.200 6.4 C18.8 4 18 1.6 16.3 1.6 Z" fill="url(#mg)"/><ellipse cx="16.3" cy="5.6" rx="2.7" ry="3.8" fill="url(#hg)"/></g></g>
<g transform="translate(372.3 562.4) scale(0.9906 1.0000)"><rect x="0" y="0" width="32" height="55.2" fill="#323232"/><g fill="#1f1f1f"><rect x="1.8" y="0.8" width="1.9" height="7.4"/><rect x="5.4" y="0.8" width="1.9" height="7.4"/><rect x="9" y="0.8" width="1.9" height="7.4"/><rect x="21.2" y="0.8" width="1.9" height="7.4"/><rect x="24.8" y="0.8" width="1.9" height="7.4"/><rect x="28.4" y="0.8" width="1.9" height="7.4"/></g><g filter="url(#bl)"><path d="M10.6 45.6 L6.4 49.6 L3.6 51.6 M21.8 45.6 L26 49.6 L28.8 51.8" stroke="#dadada" stroke-width="1.7" fill="none" stroke-linecap="round" stroke-linejoin="round"/><path d="M16.1 48.5 L16.1 55.2" stroke="#cfcfcf" stroke-width="1.4" fill="none"/></g><g filter="url(#tx)" transform="translate(16.2 0) scale(0.93 0.985) translate(-16.2 0.6)"><path d="M16.3 1.6 C14.6 1.6 13.8 4 13.3 6.4 C12.800 9 11.8 11.4 10.4 13.4 C8.6 15.4 7.6 17 8 19.4 C8.4 21.6 9.2 23.4 9 26 C8.800 29 7.8 32 7 35 C6.200 38 5.6 41.4 6 44 C6.4 46.6 8.6 48.2 11 48.600 C13 49 14.6 49.4 16.2 49.4 C17.8 49.4 19.400 49 21.4 48.6 C23.8 48.2 26 46.6 26.4 44 C26.8 41.4 26.2 38 25.4 35 C24.6 32 23.6 29 23.4 26 C23.2 23.4 24 21.6 24.4 19.400 C24.8 17 23.8 15.4 22 13.4 C20.6 11.4 19.6 9 19.200 6.4 C18.8 4 18 1.6 16.3 1.6 Z" fill="url(#mg)"/><ellipse cx="16.3" cy="5.6" rx="2.7" ry="3.8" fill="url(#hg)"/></g></g>
<g transform="translate(406.7 562.4) scale(0.9875 1.0000)"><rect x="0" y="0" width="32" height="55.2" fill="#323232"/><g fill="#1f1f1f"><rect x="1.8" y="0.8" width="1.9" height="7.4"/><rect x="5.4" y="0.8" width="1.9" height="7.4"/><rect x="9" y="0.8" width="1.9" height="7.4"/><rect x="21.2" y="0.8" width="1.9" height="7.4"/><rect x="24.8" y="0.8" width="1.9" height="7.4"/><rect x="28.4" y="0.8" width="1.9" height="7.4"/></g><g filter="url(#bl)"><path d="M10.6 45.6 L6.4 49.6 L3.6 51.6 M21.8 45.6 L26 49.6 L28.8 51.8" stroke="#dadada" stroke-width="1.7" fill="none" stroke-linecap="round" stroke-linejoin="round"/><path d="M16.1 48.5 L16.1 55.2" stroke="#cfcfcf" stroke-width="1.4" fill="none"/></g><g filter="url(#tx)" transform="translate(16.2 0) scale(0.93 0.985) translate(-16.2 0.6)"><path d="M16.3 1.6 C14.6 1.6 13.8 4 13.3 6.4 C12.800 9 11.8 11.4 10.4 13.4 C8.6 15.4 7.6 17 8 19.4 C8.4 21.6 9.2 23.4 9 26 C8.800 29 7.8 32 7 35 C6.200 38 5.6 41.4 6 44 C6.4 46.6 8.6 48.2 11 48.600 C13 49 14.6 49.4 16.2 49.4 C17.8 49.4 19.400 49 21.4 48.6 C23.8 48.2 26 46.6 26.4 44 C26.8 41.4 26.2 38 25.4 35 C24.6 32 23.6 29 23.4 26 C23.2 23.4 24 21.6 24.4 19.400 C24.8 17 23.8 15.4 22 13.4 C20.6 11.4 19.6 9 19.200 6.4 C18.8 4 18 1.6 16.3 1.6 Z" fill="url(#mg)"/><ellipse cx="16.3" cy="5.6" rx="2.7" ry="3.8" fill="url(#hg)"/></g></g>
<g transform="translate(440.7 562.4) scale(0.9875 1.0000)"><rect x="0" y="0" width="32" height="55.2" fill="#323232"/><g fill="#1f1f1f"><rect x="1.8" y="0.8" width="1.9" height="7.4"/><rect x="5.4" y="0.8" width="1.9" height="7.4"/><rect x="9" y="0.8" width="1.9" height="7.4"/><rect x="21.2" y="0.8" width="1.9" height="7.4"/><rect x="24.8" y="0.8" width="1.9" height="7.4"/><rect x="28.4" y="0.8" width="1.9" height="7.4"/></g><g filter="url(#bl)"><path d="M10.6 45.6 L6.4 49.6 L3.6 51.6 M21.8 45.6 L26 49.6 L28.8 51.8" stroke="#dadada" stroke-width="1.7" fill="none" stroke-linecap="round" stroke-linejoin="round"/><path d="M16.1 48.5 L16.1 55.2" stroke="#cfcfcf" stroke-width="1.4" fill="none"/></g><g filter="url(#tx)" transform="translate(16.2 0) scale(0.93 0.985) translate(-16.2 0.6)"><path d="M16.3 1.6 C14.6 1.6 13.8 4 13.3 6.4 C12.800 9 11.8 11.4 10.4 13.4 C8.6 15.4 7.6 17 8 19.4 C8.4 21.6 9.2 23.4 9 26 C8.800 29 7.8 32 7 35 C6.200 38 5.6 41.4 6 44 C6.4 46.6 8.6 48.2 11 48.600 C13 49 14.6 49.4 16.2 49.4 C17.8 49.4 19.400 49 21.4 48.6 C23.8 48.2 26 46.6 26.4 44 C26.8 41.4 26.2 38 25.4 35 C24.6 32 23.6 29 23.4 26 C23.2 23.4 24 21.6 24.4 19.400 C24.8 17 23.8 15.4 22 13.4 C20.6 11.4 19.6 9 19.200 6.4 C18.8 4 18 1.6 16.3 1.6 Z" fill="url(#mg)"/><ellipse cx="16.3" cy="5.6" rx="2.7" ry="3.8" fill="url(#hg)"/></g></g>
<g transform="translate(47.1 620.6) scale(0.9938 1.0000)"><rect x="0" y="0" width="32" height="55.2" fill="#323232"/><g fill="#1f1f1f"><rect x="1.8" y="0.8" width="1.9" height="7.4"/><rect x="5.4" y="0.8" width="1.9" height="7.4"/><rect x="9" y="0.8" width="1.9" height="7.4"/><rect x="21.2" y="0.8" width="1.9" height="7.4"/><rect x="24.8" y="0.8" width="1.9" height="7.4"/><rect x="28.4" y="0.8" width="1.9" height="7.4"/></g><g filter="url(#bl)"><path d="M10.6 45.6 L6.4 49.6 L3.6 51.6 M21.8 45.6 L26 49.6 L28.8 51.8" stroke="#dadada" stroke-width="1.7" fill="none" stroke-linecap="round" stroke-linejoin="round"/><path d="M16.1 48.5 L16.1 55.2" stroke="#cfcfcf" stroke-width="1.4" fill="none"/></g><g filter="url(#tx)" transform="translate(16.2 0) scale(0.93 0.985) translate(-16.2 0.6)"><path d="M16.3 1.6 C14.6 1.6 13.8 4 13.3 6.4 C12.800 9 11.8 11.4 10.4 13.4 C8.6 15.4 7.6 17 8 19.4 C8.4 21.6 9.2 23.4 9 26 C8.800 29 7.8 32 7 35 C6.200 38 5.6 41.4 6 44 C6.4 46.6 8.6 48.2 11 48.600 C13 49 14.6 49.4 16.2 49.4 C17.8 49.4 19.400 49 21.4 48.6 C23.8 48.2 26 46.6 26.4 44 C26.8 41.4 26.2 38 25.4 35 C24.6 32 23.6 29 23.4 26 C23.2 23.4 24 21.6 24.4 19.400 C24.8 17 23.8 15.4 22 13.4 C20.6 11.4 19.6 9 19.200 6.4 C18.8 4 18 1.6 16.3 1.6 Z" fill="url(#mg)"/><ellipse cx="16.3" cy="5.6" rx="2.7" ry="3.8" fill="url(#hg)"/></g></g>
<g transform="translate(82 620.6) scale(0.9656 1.0000)"><rect x="0" y="0" width="32" height="55.2" fill="#323232"/><g fill="#1f1f1f"><rect x="1.8" y="0.8" width="1.9" height="7.4"/><rect x="5.4" y="0.8" width="1.9" height="7.4"/><rect x="9" y="0.8" width="1.9" height="7.4"/><rect x="21.2" y="0.8" width="1.9" height="7.4"/><rect x="24.8" y="0.8" width="1.9" height="7.4"/><rect x="28.4" y="0.8" width="1.9" height="7.4"/></g><g filter="url(#bl)"><path d="M10.6 45.6 L6.4 49.6 L3.6 51.6 M21.8 45.6 L26 49.6 L28.8 51.8" stroke="#dadada" stroke-width="1.7" fill="none" stroke-linecap="round" stroke-linejoin="round"/><path d="M16.1 48.5 L16.1 55.2" stroke="#cfcfcf" stroke-width="1.4" fill="none"/></g><g filter="url(#tx)" transform="translate(16.2 0) scale(0.93 0.985) translate(-16.2 0.6)"><path d="M16.3 1.6 C14.6 1.6 13.8 4 13.3 6.4 C12.800 9 11.8 11.4 10.4 13.4 C8.6 15.4 7.6 17 8 19.4 C8.4 21.6 9.2 23.4 9 26 C8.800 29 7.8 32 7 35 C6.200 38 5.6 41.4 6 44 C6.4 46.6 8.6 48.2 11 48.600 C13 49 14.6 49.4 16.2 49.4 C17.8 49.4 19.400 49 21.4 48.6 C23.8 48.2 26 46.6 26.4 44 C26.8 41.4 26.2 38 25.4 35 C24.6 32 23.6 29 23.4 26 C23.2 23.4 24 21.6 24.4 19.400 C24.8 17 23.8 15.4 22 13.4 C20.6 11.4 19.6 9 19.200 6.4 C18.8 4 18 1.6 16.3 1.6 Z" fill="url(#mg)"/><ellipse cx="16.3" cy="5.6" rx="2.7" ry="3.8" fill="url(#hg)"/></g></g>
<g transform="translate(116 620.6) scale(0.9688 1.0000)"><rect x="0" y="0" width="32" height="55.2" fill="#323232"/><g fill="#1f1f1f"><rect x="1.8" y="0.8" width="1.9" height="7.4"/><rect x="5.4" y="0.8" width="1.9" height="7.4"/><rect x="9" y="0.8" width="1.9" height="7.4"/><rect x="21.2" y="0.8" width="1.9" height="7.4"/><rect x="24.8" y="0.8" width="1.9" height="7.4"/><rect x="28.4" y="0.8" width="1.9" height="7.4"/></g><g filter="url(#bl)"><path d="M10.6 45.6 L6.4 49.6 L3.6 51.6 M21.8 45.6 L26 49.6 L28.8 51.8" stroke="#dadada" stroke-width="1.7" fill="none" stroke-linecap="round" stroke-linejoin="round"/><path d="M16.1 48.5 L16.1 55.2" stroke="#cfcfcf" stroke-width="1.4" fill="none"/></g><g filter="url(#tx)" transform="translate(16.2 0) scale(0.93 0.985) translate(-16.2 0.6)"><path d="M16.3 1.6 C14.6 1.6 13.8 4 13.3 6.4 C12.800 9 11.8 11.4 10.4 13.4 C8.6 15.4 7.6 17 8 19.4 C8.4 21.6 9.2 23.4 9 26 C8.800 29 7.8 32 7 35 C6.200 38 5.6 41.4 6 44 C6.4 46.6 8.6 48.2 11 48.600 C13 49 14.6 49.4 16.2 49.4 C17.8 49.4 19.400 49 21.4 48.6 C23.8 48.2 26 46.6 26.4 44 C26.8 41.4 26.2 38 25.4 35 C24.6 32 23.6 29 23.4 26 C23.2 23.4 24 21.6 24.4 19.400 C24.8 17 23.8 15.4 22 13.4 C20.6 11.4 19.6 9 19.200 6.4 C18.8 4 18 1.6 16.3 1.6 Z" fill="url(#mg)"/><ellipse cx="16.3" cy="5.6" rx="2.7" ry="3.8" fill="url(#hg)"/></g></g>
<g transform="translate(156.1 620.6) scale(0.9625 1.0000)"><rect x="0" y="0" width="32" height="55.2" fill="#323232"/><g fill="#1f1f1f"><rect x="1.8" y="0.8" width="1.9" height="7.4"/><rect x="5.4" y="0.8" width="1.9" height="7.4"/><rect x="9" y="0.8" width="1.9" height="7.4"/><rect x="21.2" y="0.8" width="1.9" height="7.4"/><rect x="24.8" y="0.8" width="1.9" height="7.4"/><rect x="28.4" y="0.8" width="1.9" height="7.4"/></g><g filter="url(#bl)"><path d="M10.6 45.6 L6.4 49.6 L3.6 51.6 M21.8 45.6 L26 49.6 L28.8 51.8" stroke="#dadada" stroke-width="1.7" fill="none" stroke-linecap="round" stroke-linejoin="round"/><path d="M16.1 48.5 L16.1 55.2" stroke="#cfcfcf" stroke-width="1.4" fill="none"/></g><g filter="url(#tx)" transform="translate(16.2 0) scale(0.93 0.985) translate(-16.2 0.6)"><path d="M16.3 1.6 C14.6 1.6 13.8 4 13.3 6.4 C12.800 9 11.8 11.4 10.4 13.4 C8.6 15.4 7.6 17 8 19.4 C8.4 21.6 9.2 23.4 9 26 C8.800 29 7.8 32 7 35 C6.200 38 5.6 41.4 6 44 C6.4 46.6 8.6 48.2 11 48.600 C13 49 14.6 49.4 16.2 49.4 C17.8 49.4 19.400 49 21.4 48.6 C23.8 48.2 26 46.6 26.4 44 C26.8 41.4 26.2 38 25.4 35 C24.6 32 23.6 29 23.4 26 C23.2 23.4 24 21.6 24.4 19.400 C24.8 17 23.8 15.4 22 13.4 C20.6 11.4 19.6 9 19.200 6.4 C18.8 4 18 1.6 16.3 1.6 Z" fill="url(#mg)"/><ellipse cx="16.3" cy="5.6" rx="2.7" ry="3.8" fill="url(#hg)"/></g></g>
<g transform="translate(190.2 620.6) scale(0.9719 1.0000)"><rect x="0" y="0" width="32" height="55.2" fill="#323232"/><g fill="#1f1f1f"><rect x="1.8" y="0.8" width="1.9" height="7.4"/><rect x="5.4" y="0.8" width="1.9" height="7.4"/><rect x="9" y="0.8" width="1.9" height="7.4"/><rect x="21.2" y="0.8" width="1.9" height="7.4"/><rect x="24.8" y="0.8" width="1.9" height="7.4"/><rect x="28.4" y="0.8" width="1.9" height="7.4"/></g><g filter="url(#bl)"><path d="M10.6 45.6 L6.4 49.6 L3.6 51.6 M21.8 45.6 L26 49.6 L28.8 51.8" stroke="#dadada" stroke-width="1.7" fill="none" stroke-linecap="round" stroke-linejoin="round"/><path d="M16.1 48.5 L16.1 55.2" stroke="#cfcfcf" stroke-width="1.4" fill="none"/></g><g filter="url(#tx)" transform="translate(16.2 0) scale(0.93 0.985) translate(-16.2 0.6)"><path d="M16.3 1.6 C14.6 1.6 13.8 4 13.3 6.4 C12.800 9 11.8 11.4 10.4 13.4 C8.6 15.4 7.6 17 8 19.4 C8.4 21.6 9.2 23.4 9 26 C8.800 29 7.8 32 7 35 C6.200 38 5.6 41.4 6 44 C6.4 46.6 8.6 48.2 11 48.600 C13 49 14.6 49.4 16.2 49.4 C17.8 49.4 19.400 49 21.4 48.6 C23.8 48.2 26 46.6 26.4 44 C26.8 41.4 26.2 38 25.4 35 C24.6 32 23.6 29 23.4 26 C23.2 23.4 24 21.6 24.4 19.400 C24.8 17 23.8 15.4 22 13.4 C20.6 11.4 19.6 9 19.200 6.4 C18.8 4 18 1.6 16.3 1.6 Z" fill="url(#mg)"/><ellipse cx="16.3" cy="5.6" rx="2.7" ry="3.8" fill="url(#hg)"/></g></g>
<g transform="translate(224.4 620.6) scale(0.9844 1.0000)"><rect x="0" y="0" width="32" height="55.2" fill="#323232"/><g fill="#1f1f1f"><rect x="1.8" y="0.8" width="1.9" height="7.4"/><rect x="5.4" y="0.8" width="1.9" height="7.4"/><rect x="9" y="0.8" width="1.9" height="7.4"/><rect x="21.2" y="0.8" width="1.9" height="7.4"/><rect x="24.8" y="0.8" width="1.9" height="7.4"/><rect x="28.4" y="0.8" width="1.9" height="7.4"/></g><g filter="url(#bl)"><path d="M10.6 45.6 L6.4 49.6 L3.6 51.6 M21.8 45.6 L26 49.6 L28.8 51.8" stroke="#dadada" stroke-width="1.7" fill="none" stroke-linecap="round" stroke-linejoin="round"/><path d="M16.1 48.5 L16.1 55.2" stroke="#cfcfcf" stroke-width="1.4" fill="none"/></g><g filter="url(#tx)" transform="translate(16.2 0) scale(0.93 0.985) translate(-16.2 0.6)"><path d="M16.3 1.6 C14.6 1.6 13.8 4 13.3 6.4 C12.800 9 11.8 11.4 10.4 13.4 C8.6 15.4 7.6 17 8 19.4 C8.4 21.6 9.2 23.4 9 26 C8.800 29 7.8 32 7 35 C6.200 38 5.6 41.4 6 44 C6.4 46.6 8.6 48.2 11 48.600 C13 49 14.6 49.4 16.2 49.4 C17.8 49.4 19.400 49 21.4 48.6 C23.8 48.2 26 46.6 26.4 44 C26.8 41.4 26.2 38 25.4 35 C24.6 32 23.6 29 23.4 26 C23.2 23.4 24 21.6 24.4 19.400 C24.8 17 23.8 15.4 22 13.4 C20.6 11.4 19.6 9 19.200 6.4 C18.8 4 18 1.6 16.3 1.6 Z" fill="url(#mg)"/><ellipse cx="16.3" cy="5.6" rx="2.7" ry="3.8" fill="url(#hg)"/></g></g>
<g transform="translate(263.5 620.6) scale(1.0000 1.0000)"><rect x="0" y="0" width="32" height="55.2" fill="#323232"/><g fill="#1f1f1f"><rect x="1.8" y="0.8" width="1.9" height="7.4"/><rect x="5.4" y="0.8" width="1.9" height="7.4"/><rect x="9" y="0.8" width="1.9" height="7.4"/><rect x="21.2" y="0.8" width="1.9" height="7.4"/><rect x="24.8" y="0.8" width="1.9" height="7.4"/><rect x="28.4" y="0.8" width="1.9" height="7.4"/></g><g filter="url(#bl)"><path d="M10.6 45.6 L6.4 49.6 L3.6 51.6 M21.8 45.6 L26 49.6 L28.8 51.8" stroke="#dadada" stroke-width="1.7" fill="none" stroke-linecap="round" stroke-linejoin="round"/><path d="M16.1 48.5 L16.1 55.2" stroke="#cfcfcf" stroke-width="1.4" fill="none"/></g><g filter="url(#tx)" transform="translate(16.2 0) scale(0.93 0.985) translate(-16.2 0.6)"><path d="M16.3 1.6 C14.6 1.6 13.8 4 13.3 6.4 C12.800 9 11.8 11.4 10.4 13.4 C8.6 15.4 7.6 17 8 19.4 C8.4 21.6 9.2 23.4 9 26 C8.800 29 7.8 32 7 35 C6.200 38 5.6 41.4 6 44 C6.4 46.6 8.6 48.2 11 48.600 C13 49 14.6 49.4 16.2 49.4 C17.8 49.4 19.400 49 21.4 48.6 C23.8 48.2 26 46.6 26.4 44 C26.8 41.4 26.2 38 25.4 35 C24.6 32 23.6 29 23.4 26 C23.2 23.4 24 21.6 24.4 19.400 C24.8 17 23.8 15.4 22 13.4 C20.6 11.4 19.6 9 19.200 6.4 C18.8 4 18 1.6 16.3 1.6 Z" fill="url(#mg)"/><ellipse cx="16.3" cy="5.6" rx="2.7" ry="3.8" fill="url(#hg)"/></g></g>
<g transform="translate(298 620.6) scale(1.0000 1.0000)"><rect x="0" y="0" width="32" height="55.2" fill="#323232"/><g fill="#1f1f1f"><rect x="1.8" y="0.8" width="1.9" height="7.4"/><rect x="5.4" y="0.8" width="1.9" height="7.4"/><rect x="9" y="0.8" width="1.9" height="7.4"/><rect x="21.2" y="0.8" width="1.9" height="7.4"/><rect x="24.8" y="0.8" width="1.9" height="7.4"/><rect x="28.4" y="0.8" width="1.9" height="7.4"/></g><g filter="url(#bl)"><path d="M10.6 45.6 L6.4 49.6 L3.6 51.6 M21.8 45.6 L26 49.6 L28.8 51.8" stroke="#dadada" stroke-width="1.7" fill="none" stroke-linecap="round" stroke-linejoin="round"/><path d="M16.1 48.5 L16.1 55.2" stroke="#cfcfcf" stroke-width="1.4" fill="none"/></g><g filter="url(#tx)" transform="translate(16.2 0) scale(0.93 0.985) translate(-16.2 0.6)"><path d="M16.3 1.6 C14.6 1.6 13.8 4 13.3 6.4 C12.800 9 11.8 11.4 10.4 13.4 C8.6 15.4 7.6 17 8 19.4 C8.4 21.6 9.2 23.4 9 26 C8.800 29 7.8 32 7 35 C6.200 38 5.6 41.4 6 44 C6.4 46.6 8.6 48.2 11 48.600 C13 49 14.6 49.4 16.2 49.4 C17.8 49.4 19.400 49 21.4 48.6 C23.8 48.2 26 46.6 26.4 44 C26.8 41.4 26.2 38 25.4 35 C24.6 32 23.6 29 23.4 26 C23.2 23.4 24 21.6 24.4 19.400 C24.8 17 23.8 15.4 22 13.4 C20.6 11.4 19.6 9 19.200 6.4 C18.8 4 18 1.6 16.3 1.6 Z" fill="url(#mg)"/><ellipse cx="16.3" cy="5.6" rx="2.7" ry="3.8" fill="url(#hg)"/></g></g>
<g transform="translate(332.5 620.6) scale(0.9938 1.0000)"><rect x="0" y="0" width="32" height="55.2" fill="#323232"/><g fill="#1f1f1f"><rect x="1.8" y="0.8" width="1.9" height="7.4"/><rect x="5.4" y="0.8" width="1.9" height="7.4"/><rect x="9" y="0.8" width="1.9" height="7.4"/><rect x="21.2" y="0.8" width="1.9" height="7.4"/><rect x="24.8" y="0.8" width="1.9" height="7.4"/><rect x="28.4" y="0.8" width="1.9" height="7.4"/></g><g filter="url(#bl)"><path d="M10.6 45.6 L6.4 49.6 L3.6 51.6 M21.8 45.6 L26 49.6 L28.8 51.8" stroke="#dadada" stroke-width="1.7" fill="none" stroke-linecap="round" stroke-linejoin="round"/><path d="M16.1 48.5 L16.1 55.2" stroke="#cfcfcf" stroke-width="1.4" fill="none"/></g><g filter="url(#tx)" transform="translate(16.2 0) scale(0.93 0.985) translate(-16.2 0.6)"><path d="M16.3 1.6 C14.6 1.6 13.8 4 13.3 6.4 C12.800 9 11.8 11.4 10.4 13.4 C8.6 15.4 7.6 17 8 19.4 C8.4 21.6 9.2 23.4 9 26 C8.800 29 7.8 32 7 35 C6.200 38 5.6 41.4 6 44 C6.4 46.6 8.6 48.2 11 48.600 C13 49 14.6 49.4 16.2 49.4 C17.8 49.4 19.400 49 21.4 48.6 C23.8 48.2 26 46.6 26.4 44 C26.8 41.4 26.2 38 25.4 35 C24.6 32 23.6 29 23.4 26 C23.2 23.4 24 21.6 24.4 19.400 C24.8 17 23.8 15.4 22 13.4 C20.6 11.4 19.6 9 19.200 6.4 C18.8 4 18 1.6 16.3 1.6 Z" fill="url(#mg)"/><ellipse cx="16.3" cy="5.6" rx="2.7" ry="3.8" fill="url(#hg)"/></g></g>
<g transform="translate(372.3 620.6) scale(0.9906 1.0000)"><rect x="0" y="0" width="32" height="55.2" fill="#323232"/><g fill="#1f1f1f"><rect x="1.8" y="0.8" width="1.9" height="7.4"/><rect x="5.4" y="0.8" width="1.9" height="7.4"/><rect x="9" y="0.8" width="1.9" height="7.4"/><rect x="21.2" y="0.8" width="1.9" height="7.4"/><rect x="24.8" y="0.8" width="1.9" height="7.4"/><rect x="28.4" y="0.8" width="1.9" height="7.4"/></g><g filter="url(#bl)"><path d="M10.6 45.6 L6.4 49.6 L3.6 51.6 M21.8 45.6 L26 49.6 L28.8 51.8" stroke="#dadada" stroke-width="1.7" fill="none" stroke-linecap="round" stroke-linejoin="round"/><path d="M16.1 48.5 L16.1 55.2" stroke="#cfcfcf" stroke-width="1.4" fill="none"/></g><g filter="url(#tx)" transform="translate(16.2 0) scale(0.93 0.985) translate(-16.2 0.6)"><path d="M16.3 1.6 C14.6 1.6 13.8 4 13.3 6.4 C12.800 9 11.8 11.4 10.4 13.4 C8.6 15.4 7.6 17 8 19.4 C8.4 21.6 9.2 23.4 9 26 C8.800 29 7.8 32 7 35 C6.200 38 5.6 41.4 6 44 C6.4 46.6 8.6 48.2 11 48.600 C13 49 14.6 49.4 16.2 49.4 C17.8 49.4 19.400 49 21.4 48.6 C23.8 48.2 26 46.6 26.4 44 C26.8 41.4 26.2 38 25.4 35 C24.6 32 23.6 29 23.4 26 C23.2 23.4 24 21.6 24.4 19.400 C24.8 17 23.8 15.4 22 13.4 C20.6 11.4 19.6 9 19.200 6.4 C18.8 4 18 1.6 16.3 1.6 Z" fill="url(#mg)"/><ellipse cx="16.3" cy="5.6" rx="2.7" ry="3.8" fill="url(#hg)"/></g></g>
<g transform="translate(406.7 620.6) scale(0.9875 1.0000)"><rect x="0" y="0" width="32" height="55.2" fill="#323232"/><g fill="#1f1f1f"><rect x="1.8" y="0.8" width="1.9" height="7.4"/><rect x="5.4" y="0.8" width="1.9" height="7.4"/><rect x="9" y="0.8" width="1.9" height="7.4"/><rect x="21.2" y="0.8" width="1.9" height="7.4"/><rect x="24.8" y="0.8" width="1.9" height="7.4"/><rect x="28.4" y="0.8" width="1.9" height="7.4"/></g><g filter="url(#bl)"><path d="M10.6 45.6 L6.4 49.6 L3.6 51.6 M21.8 45.6 L26 49.6 L28.8 51.8" stroke="#dadada" stroke-width="1.7" fill="none" stroke-linecap="round" stroke-linejoin="round"/><path d="M16.1 48.5 L16.1 55.2" stroke="#cfcfcf" stroke-width="1.4" fill="none"/></g><g filter="url(#tx)" transform="translate(16.2 0) scale(0.93 0.985) translate(-16.2 0.6)"><path d="M16.3 1.6 C14.6 1.6 13.8 4 13.3 6.4 C12.800 9 11.8 11.4 10.4 13.4 C8.6 15.4 7.6 17 8 19.4 C8.4 21.6 9.2 23.4 9 26 C8.800 29 7.8 32 7 35 C6.200 38 5.6 41.4 6 44 C6.4 46.6 8.6 48.2 11 48.600 C13 49 14.6 49.4 16.2 49.4 C17.8 49.4 19.400 49 21.4 48.6 C23.8 48.2 26 46.6 26.4 44 C26.8 41.4 26.2 38 25.4 35 C24.6 32 23.6 29 23.4 26 C23.2 23.4 24 21.6 24.4 19.400 C24.8 17 23.8 15.4 22 13.4 C20.6 11.4 19.6 9 19.200 6.4 C18.8 4 18 1.6 16.3 1.6 Z" fill="url(#mg)"/><ellipse cx="16.3" cy="5.6" rx="2.7" ry="3.8" fill="url(#hg)"/></g></g>
<g transform="translate(440.7 620.6) scale(0.9875 1.0000)"><rect x="0" y="0" width="32" height="55.2" fill="#323232"/><g fill="#1f1f1f"><rect x="1.8" y="0.8" width="1.9" height="7.4"/><rect x="5.4" y="0.8" width="1.9" height="7.4"/><rect x="9" y="0.8" width="1.9" height="7.4"/><rect x="21.2" y="0.8" width="1.9" height="7.4"/><rect x="24.8" y="0.8" width="1.9" height="7.4"/><rect x="28.4" y="0.8" width="1.9" height="7.4"/></g><g filter="url(#bl)"><path d="M10.6 45.6 L6.4 49.6 L3.6 51.6 M21.8 45.6 L26 49.6 L28.8 51.8" stroke="#dadada" stroke-width="1.7" fill="none" stroke-linecap="round" stroke-linejoin="round"/><path d="M16.1 48.5 L16.1 55.2" stroke="#cfcfcf" stroke-width="1.4" fill="none"/></g><g filter="url(#tx)" transform="translate(16.2 0) scale(0.93 0.985) translate(-16.2 0.6)"><path d="M16.3 1.6 C14.6 1.6 13.8 4 13.3 6.4 C12.800 9 11.8 11.4 10.4 13.4 C8.6 15.4 7.6 17 8 19.4 C8.4 21.6 9.2 23.4 9 26 C8.800 29 7.8 32 7 35 C6.200 38 5.6 41.4 6 44 C6.4 46.6 8.6 48.2 11 48.600 C13 49 14.6 49.4 16.2 49.4 C17.8 49.4 19.400 49 21.4 48.6 C23.8 48.2 26 46.6 26.4 44 C26.8 41.4 26.2 38 25.4 35 C24.6 32 23.6 29 23.4 26 C23.2 23.4 24 21.6 24.4 19.400 C24.8 17 23.8 15.4 22 13.4 C20.6 11.4 19.6 9 19.200 6.4 C18.8 4 18 1.6 16.3 1.6 Z" fill="url(#mg)"/><ellipse cx="16.3" cy="5.6" rx="2.7" ry="3.8" fill="url(#hg)"/></g></g>
<g transform="translate(47.1 678.8) scale(0.9938 1.0000)"><rect x="0" y="0" width="32" height="55.2" fill="#323232"/><g fill="#1f1f1f"><rect x="1.8" y="0.8" width="1.9" height="7.4"/><rect x="5.4" y="0.8" width="1.9" height="7.4"/><rect x="9" y="0.8" width="1.9" height="7.4"/><rect x="21.2" y="0.8" width="1.9" height="7.4"/><rect x="24.8" y="0.8" width="1.9" height="7.4"/><rect x="28.4" y="0.8" width="1.9" height="7.4"/></g><g filter="url(#bl)"><path d="M10.6 45.6 L6.4 49.6 L3.6 51.6 M21.8 45.6 L26 49.6 L28.8 51.8" stroke="#dadada" stroke-width="1.7" fill="none" stroke-linecap="round" stroke-linejoin="round"/><path d="M16.1 48.5 L16.1 55.2" stroke="#cfcfcf" stroke-width="1.4" fill="none"/></g><g filter="url(#tx)" transform="translate(16.2 0) scale(0.93 0.985) translate(-16.2 0.6)"><path d="M16.3 1.6 C14.6 1.6 13.8 4 13.3 6.4 C12.800 9 11.8 11.4 10.4 13.4 C8.6 15.4 7.6 17 8 19.4 C8.4 21.6 9.2 23.4 9 26 C8.800 29 7.8 32 7 35 C6.200 38 5.6 41.4 6 44 C6.4 46.6 8.6 48.2 11 48.600 C13 49 14.6 49.4 16.2 49.4 C17.8 49.4 19.400 49 21.4 48.6 C23.8 48.2 26 46.6 26.4 44 C26.8 41.4 26.2 38 25.4 35 C24.6 32 23.6 29 23.4 26 C23.2 23.4 24 21.6 24.4 19.400 C24.8 17 23.8 15.4 22 13.4 C20.6 11.4 19.6 9 19.200 6.4 C18.8 4 18 1.6 16.3 1.6 Z" fill="url(#mg)"/><ellipse cx="16.3" cy="5.6" rx="2.7" ry="3.8" fill="url(#hg)"/></g></g>
<g transform="translate(82 678.8) scale(0.9656 1.0000)"><rect x="0" y="0" width="32" height="55.2" fill="#323232"/><g fill="#1f1f1f"><rect x="1.8" y="0.8" width="1.9" height="7.4"/><rect x="5.4" y="0.8" width="1.9" height="7.4"/><rect x="9" y="0.8" width="1.9" height="7.4"/><rect x="21.2" y="0.8" width="1.9" height="7.4"/><rect x="24.8" y="0.8" width="1.9" height="7.4"/><rect x="28.4" y="0.8" width="1.9" height="7.4"/></g><g filter="url(#bl)"><path d="M10.6 45.6 L6.4 49.6 L3.6 51.6 M21.8 45.6 L26 49.6 L28.8 51.8" stroke="#dadada" stroke-width="1.7" fill="none" stroke-linecap="round" stroke-linejoin="round"/><path d="M16.1 48.5 L16.1 55.2" stroke="#cfcfcf" stroke-width="1.4" fill="none"/></g><g filter="url(#tx)" transform="translate(16.2 0) scale(0.93 0.985) translate(-16.2 0.6)"><path d="M16.3 1.6 C14.6 1.6 13.8 4 13.3 6.4 C12.800 9 11.8 11.4 10.4 13.4 C8.6 15.4 7.6 17 8 19.4 C8.4 21.6 9.2 23.4 9 26 C8.800 29 7.8 32 7 35 C6.200 38 5.6 41.4 6 44 C6.4 46.6 8.6 48.2 11 48.600 C13 49 14.6 49.4 16.2 49.4 C17.8 49.4 19.400 49 21.4 48.6 C23.8 48.2 26 46.6 26.4 44 C26.8 41.4 26.2 38 25.4 35 C24.6 32 23.6 29 23.4 26 C23.2 23.4 24 21.6 24.4 19.400 C24.8 17 23.8 15.4 22 13.4 C20.6 11.4 19.6 9 19.200 6.4 C18.8 4 18 1.6 16.3 1.6 Z" fill="url(#mg)"/><ellipse cx="16.3" cy="5.6" rx="2.7" ry="3.8" fill="url(#hg)"/></g></g>
<g transform="translate(116 678.8) scale(0.9688 1.0000)"><rect x="0" y="0" width="32" height="55.2" fill="#323232"/><g fill="#1f1f1f"><rect x="1.8" y="0.8" width="1.9" height="7.4"/><rect x="5.4" y="0.8" width="1.9" height="7.4"/><rect x="9" y="0.8" width="1.9" height="7.4"/><rect x="21.2" y="0.8" width="1.9" height="7.4"/><rect x="24.8" y="0.8" width="1.9" height="7.4"/><rect x="28.4" y="0.8" width="1.9" height="7.4"/></g><g filter="url(#bl)"><path d="M10.6 45.6 L6.4 49.6 L3.6 51.6 M21.8 45.6 L26 49.6 L28.8 51.8" stroke="#dadada" stroke-width="1.7" fill="none" stroke-linecap="round" stroke-linejoin="round"/><path d="M16.1 48.5 L16.1 55.2" stroke="#cfcfcf" stroke-width="1.4" fill="none"/></g><g filter="url(#tx)" transform="translate(16.2 0) scale(0.93 0.985) translate(-16.2 0.6)"><path d="M16.3 1.6 C14.6 1.6 13.8 4 13.3 6.4 C12.800 9 11.8 11.4 10.4 13.4 C8.6 15.4 7.6 17 8 19.4 C8.4 21.6 9.2 23.4 9 26 C8.800 29 7.8 32 7 35 C6.200 38 5.6 41.4 6 44 C6.4 46.6 8.6 48.2 11 48.600 C13 49 14.6 49.4 16.2 49.4 C17.8 49.4 19.400 49 21.4 48.6 C23.8 48.2 26 46.6 26.4 44 C26.8 41.4 26.2 38 25.4 35 C24.6 32 23.6 29 23.4 26 C23.2 23.4 24 21.6 24.4 19.400 C24.8 17 23.8 15.4 22 13.4 C20.6 11.4 19.6 9 19.200 6.4 C18.8 4 18 1.6 16.3 1.6 Z" fill="url(#mg)"/><ellipse cx="16.3" cy="5.6" rx="2.7" ry="3.8" fill="url(#hg)"/></g></g>
<g transform="translate(156.1 678.8) scale(0.9625 1.0000)"><rect x="0" y="0" width="32" height="55.2" fill="#323232"/><g fill="#1f1f1f"><rect x="1.8" y="0.8" width="1.9" height="7.4"/><rect x="5.4" y="0.8" width="1.9" height="7.4"/><rect x="9" y="0.8" width="1.9" height="7.4"/><rect x="21.2" y="0.8" width="1.9" height="7.4"/><rect x="24.8" y="0.8" width="1.9" height="7.4"/><rect x="28.4" y="0.8" width="1.9" height="7.4"/></g><g filter="url(#bl)"><path d="M10.6 45.6 L6.4 49.6 L3.6 51.6 M21.8 45.6 L26 49.6 L28.8 51.8" stroke="#dadada" stroke-width="1.7" fill="none" stroke-linecap="round" stroke-linejoin="round"/><path d="M16.1 48.5 L16.1 55.2" stroke="#cfcfcf" stroke-width="1.4" fill="none"/></g><g filter="url(#tx)" transform="translate(16.2 0) scale(0.93 0.985) translate(-16.2 0.6)"><path d="M16.3 1.6 C14.6 1.6 13.8 4 13.3 6.4 C12.800 9 11.8 11.4 10.4 13.4 C8.6 15.4 7.6 17 8 19.4 C8.4 21.6 9.2 23.4 9 26 C8.800 29 7.8 32 7 35 C6.200 38 5.6 41.4 6 44 C6.4 46.6 8.6 48.2 11 48.600 C13 49 14.6 49.4 16.2 49.4 C17.8 49.4 19.400 49 21.4 48.6 C23.8 48.2 26 46.6 26.4 44 C26.8 41.4 26.2 38 25.4 35 C24.6 32 23.6 29 23.4 26 C23.2 23.4 24 21.6 24.4 19.400 C24.8 17 23.8 15.4 22 13.4 C20.6 11.4 19.6 9 19.200 6.4 C18.8 4 18 1.6 16.3 1.6 Z" fill="url(#mg)"/><ellipse cx="16.3" cy="5.6" rx="2.7" ry="3.8" fill="url(#hg)"/></g></g>
<g transform="translate(190.2 678.8) scale(0.9719 1.0000)"><rect x="0" y="0" width="32" height="55.2" fill="#323232"/><g fill="#1f1f1f"><rect x="1.8" y="0.8" width="1.9" height="7.4"/><rect x="5.4" y="0.8" width="1.9" height="7.4"/><rect x="9" y="0.8" width="1.9" height="7.4"/><rect x="21.2" y="0.8" width="1.9" height="7.4"/><rect x="24.8" y="0.8" width="1.9" height="7.4"/><rect x="28.4" y="0.8" width="1.9" height="7.4"/></g><g filter="url(#bl)"><path d="M10.6 45.6 L6.4 49.6 L3.6 51.6 M21.8 45.6 L26 49.6 L28.8 51.8" stroke="#dadada" stroke-width="1.7" fill="none" stroke-linecap="round" stroke-linejoin="round"/><path d="M16.1 48.5 L16.1 55.2" stroke="#cfcfcf" stroke-width="1.4" fill="none"/></g><g filter="url(#tx)" transform="translate(16.2 0) scale(0.93 0.985) translate(-16.2 0.6)"><path d="M16.3 1.6 C14.6 1.6 13.8 4 13.3 6.4 C12.800 9 11.8 11.4 10.4 13.4 C8.6 15.4 7.6 17 8 19.4 C8.4 21.6 9.2 23.4 9 26 C8.800 29 7.8 32 7 35 C6.200 38 5.6 41.4 6 44 C6.4 46.6 8.6 48.2 11 48.600 C13 49 14.6 49.4 16.2 49.4 C17.8 49.4 19.400 49 21.4 48.6 C23.8 48.2 26 46.6 26.4 44 C26.8 41.4 26.2 38 25.4 35 C24.6 32 23.6 29 23.4 26 C23.2 23.4 24 21.6 24.4 19.400 C24.8 17 23.8 15.4 22 13.4 C20.6 11.4 19.6 9 19.200 6.4 C18.8 4 18 1.6 16.3 1.6 Z" fill="url(#mg)"/><ellipse cx="16.3" cy="5.6" rx="2.7" ry="3.8" fill="url(#hg)"/></g></g>
<g transform="translate(224.4 678.8) scale(0.9844 1.0000)"><rect x="0" y="0" width="32" height="55.2" fill="#323232"/><g fill="#1f1f1f"><rect x="1.8" y="0.8" width="1.9" height="7.4"/><rect x="5.4" y="0.8" width="1.9" height="7.4"/><rect x="9" y="0.8" width="1.9" height="7.4"/><rect x="21.2" y="0.8" width="1.9" height="7.4"/><rect x="24.8" y="0.8" width="1.9" height="7.4"/><rect x="28.4" y="0.8" width="1.9" height="7.4"/></g><g filter="url(#bl)"><path d="M10.6 45.6 L6.4 49.6 L3.6 51.6 M21.8 45.6 L26 49.6 L28.8 51.8" stroke="#dadada" stroke-width="1.7" fill="none" stroke-linecap="round" stroke-linejoin="round"/><path d="M16.1 48.5 L16.1 55.2" stroke="#cfcfcf" stroke-width="1.4" fill="none"/></g><g filter="url(#tx)" transform="translate(16.2 0) scale(0.93 0.985) translate(-16.2 0.6)"><path d="M16.3 1.6 C14.6 1.6 13.8 4 13.3 6.4 C12.800 9 11.8 11.4 10.4 13.4 C8.6 15.4 7.6 17 8 19.4 C8.4 21.6 9.2 23.4 9 26 C8.800 29 7.8 32 7 35 C6.200 38 5.6 41.4 6 44 C6.4 46.6 8.6 48.2 11 48.600 C13 49 14.6 49.4 16.2 49.4 C17.8 49.4 19.400 49 21.4 48.6 C23.8 48.2 26 46.6 26.4 44 C26.8 41.4 26.2 38 25.4 35 C24.6 32 23.6 29 23.4 26 C23.2 23.4 24 21.6 24.4 19.400 C24.8 17 23.8 15.4 22 13.4 C20.6 11.4 19.6 9 19.200 6.4 C18.8 4 18 1.6 16.3 1.6 Z" fill="url(#mg)"/><ellipse cx="16.3" cy="5.6" rx="2.7" ry="3.8" fill="url(#hg)"/></g></g>
<g transform="translate(263.5 678.8) scale(1.0000 1.0000)"><rect x="0" y="0" width="32" height="55.2" fill="#323232"/><g fill="#1f1f1f"><rect x="1.8" y="0.8" width="1.9" height="7.4"/><rect x="5.4" y="0.8" width="1.9" height="7.4"/><rect x="9" y="0.8" width="1.9" height="7.4"/><rect x="21.2" y="0.8" width="1.9" height="7.4"/><rect x="24.8" y="0.8" width="1.9" height="7.4"/><rect x="28.4" y="0.8" width="1.9" height="7.4"/></g><g filter="url(#bl)"><path d="M10.6 45.6 L6.4 49.6 L3.6 51.6 M21.8 45.6 L26 49.6 L28.8 51.8" stroke="#dadada" stroke-width="1.7" fill="none" stroke-linecap="round" stroke-linejoin="round"/><path d="M16.1 48.5 L16.1 55.2" stroke="#cfcfcf" stroke-width="1.4" fill="none"/></g><g filter="url(#tx)" transform="translate(16.2 0) scale(0.93 0.985) translate(-16.2 0.6)"><path d="M16.3 1.6 C14.6 1.6 13.8 4 13.3 6.4 C12.800 9 11.8 11.4 10.4 13.4 C8.6 15.4 7.6 17 8 19.4 C8.4 21.6 9.2 23.4 9 26 C8.800 29 7.8 32 7 35 C6.200 38 5.6 41.4 6 44 C6.4 46.6 8.6 48.2 11 48.600 C13 49 14.6 49.4 16.2 49.4 C17.8 49.4 19.400 49 21.4 48.6 C23.8 48.2 26 46.6 26.4 44 C26.8 41.4 26.2 38 25.4 35 C24.6 32 23.6 29 23.4 26 C23.2 23.4 24 21.6 24.4 19.400 C24.8 17 23.8 15.4 22 13.4 C20.6 11.4 19.6 9 19.200 6.4 C18.8 4 18 1.6 16.3 1.6 Z" fill="url(#mg)"/><ellipse cx="16.3" cy="5.6" rx="2.7" ry="3.8" fill="url(#hg)"/></g></g>
<g transform="translate(298 678.8) scale(1.0000 1.0000)"><rect x="0" y="0" width="32" height="55.2" fill="#323232"/><g fill="#1f1f1f"><rect x="1.8" y="0.8" width="1.9" height="7.4"/><rect x="5.4" y="0.8" width="1.9" height="7.4"/><rect x="9" y="0.8" width="1.9" height="7.4"/><rect x="21.2" y="0.8" width="1.9" height="7.4"/><rect x="24.8" y="0.8" width="1.9" height="7.4"/><rect x="28.4" y="0.8" width="1.9" height="7.4"/></g><g filter="url(#bl)"><path d="M10.6 45.6 L6.4 49.6 L3.6 51.6 M21.8 45.6 L26 49.6 L28.8 51.8" stroke="#dadada" stroke-width="1.7" fill="none" stroke-linecap="round" stroke-linejoin="round"/><path d="M16.1 48.5 L16.1 55.2" stroke="#cfcfcf" stroke-width="1.4" fill="none"/></g><g filter="url(#tx)" transform="translate(16.2 0) scale(0.93 0.985) translate(-16.2 0.6)"><path d="M16.3 1.6 C14.6 1.6 13.8 4 13.3 6.4 C12.800 9 11.8 11.4 10.4 13.4 C8.6 15.4 7.6 17 8 19.4 C8.4 21.6 9.2 23.4 9 26 C8.800 29 7.8 32 7 35 C6.200 38 5.6 41.4 6 44 C6.4 46.6 8.6 48.2 11 48.600 C13 49 14.6 49.4 16.2 49.4 C17.8 49.4 19.400 49 21.4 48.6 C23.8 48.2 26 46.6 26.4 44 C26.8 41.4 26.2 38 25.4 35 C24.6 32 23.6 29 23.4 26 C23.2 23.4 24 21.6 24.4 19.400 C24.8 17 23.8 15.4 22 13.4 C20.6 11.4 19.6 9 19.200 6.4 C18.8 4 18 1.6 16.3 1.6 Z" fill="url(#mg)"/><ellipse cx="16.3" cy="5.6" rx="2.7" ry="3.8" fill="url(#hg)"/></g></g>
<g transform="translate(332.5 678.8) scale(0.9938 1.0000)"><rect x="0" y="0" width="32" height="55.2" fill="#323232"/><g fill="#1f1f1f"><rect x="1.8" y="0.8" width="1.9" height="7.4"/><rect x="5.4" y="0.8" width="1.9" height="7.4"/><rect x="9" y="0.8" width="1.9" height="7.4"/><rect x="21.2" y="0.8" width="1.9" height="7.4"/><rect x="24.8" y="0.8" width="1.9" height="7.4"/><rect x="28.4" y="0.8" width="1.9" height="7.4"/></g><g filter="url(#bl)"><path d="M10.6 45.6 L6.4 49.6 L3.6 51.6 M21.8 45.6 L26 49.6 L28.8 51.8" stroke="#dadada" stroke-width="1.7" fill="none" stroke-linecap="round" stroke-linejoin="round"/><path d="M16.1 48.5 L16.1 55.2" stroke="#cfcfcf" stroke-width="1.4" fill="none"/></g><g filter="url(#tx)" transform="translate(16.2 0) scale(0.93 0.985) translate(-16.2 0.6)"><path d="M16.3 1.6 C14.6 1.6 13.8 4 13.3 6.4 C12.800 9 11.8 11.4 10.4 13.4 C8.6 15.4 7.6 17 8 19.4 C8.4 21.6 9.2 23.4 9 26 C8.800 29 7.8 32 7 35 C6.200 38 5.6 41.4 6 44 C6.4 46.6 8.6 48.2 11 48.600 C13 49 14.6 49.4 16.2 49.4 C17.8 49.4 19.400 49 21.4 48.6 C23.8 48.2 26 46.6 26.4 44 C26.8 41.4 26.2 38 25.4 35 C24.6 32 23.6 29 23.4 26 C23.2 23.4 24 21.6 24.4 19.400 C24.8 17 23.8 15.4 22 13.4 C20.6 11.4 19.6 9 19.200 6.4 C18.8 4 18 1.6 16.3 1.6 Z" fill="url(#mg)"/><ellipse cx="16.3" cy="5.6" rx="2.7" ry="3.8" fill="url(#hg)"/></g></g>
<g transform="translate(372.3 678.8) scale(0.9906 1.0000)"><rect x="0" y="0" width="32" height="55.2" fill="#323232"/><g fill="#1f1f1f"><rect x="1.8" y="0.8" width="1.9" height="7.4"/><rect x="5.4" y="0.8" width="1.9" height="7.4"/><rect x="9" y="0.8" width="1.9" height="7.4"/><rect x="21.2" y="0.8" width="1.9" height="7.4"/><rect x="24.8" y="0.8" width="1.9" height="7.4"/><rect x="28.4" y="0.8" width="1.9" height="7.4"/></g><g filter="url(#bl)"><path d="M10.6 45.6 L6.4 49.6 L3.6 51.6 M21.8 45.6 L26 49.6 L28.8 51.8" stroke="#dadada" stroke-width="1.7" fill="none" stroke-linecap="round" stroke-linejoin="round"/><path d="M16.1 48.5 L16.1 55.2" stroke="#cfcfcf" stroke-width="1.4" fill="none"/></g><g filter="url(#tx)" transform="translate(16.2 0) scale(0.93 0.985) translate(-16.2 0.6)"><path d="M16.3 1.6 C14.6 1.6 13.8 4 13.3 6.4 C12.800 9 11.8 11.4 10.4 13.4 C8.6 15.4 7.6 17 8 19.4 C8.4 21.6 9.2 23.4 9 26 C8.800 29 7.8 32 7 35 C6.200 38 5.6 41.4 6 44 C6.4 46.6 8.6 48.2 11 48.600 C13 49 14.6 49.4 16.2 49.4 C17.8 49.4 19.400 49 21.4 48.6 C23.8 48.2 26 46.6 26.4 44 C26.8 41.4 26.2 38 25.4 35 C24.6 32 23.6 29 23.4 26 C23.2 23.4 24 21.6 24.4 19.400 C24.8 17 23.8 15.4 22 13.4 C20.6 11.4 19.6 9 19.200 6.4 C18.8 4 18 1.6 16.3 1.6 Z" fill="url(#mg)"/><ellipse cx="16.3" cy="5.6" rx="2.7" ry="3.8" fill="url(#hg)"/></g></g>
<g transform="translate(406.7 678.8) scale(0.9875 1.0000)"><rect x="0" y="0" width="32" height="55.2" fill="#323232"/><g fill="#1f1f1f"><rect x="1.8" y="0.8" width="1.9" height="7.4"/><rect x="5.4" y="0.8" width="1.9" height="7.4"/><rect x="9" y="0.8" width="1.9" height="7.4"/><rect x="21.2" y="0.8" width="1.9" height="7.4"/><rect x="24.8" y="0.8" width="1.9" height="7.4"/><rect x="28.4" y="0.8" width="1.9" height="7.4"/></g><g filter="url(#bl)"><path d="M10.6 45.6 L6.4 49.6 L3.6 51.6 M21.8 45.6 L26 49.6 L28.8 51.8" stroke="#dadada" stroke-width="1.7" fill="none" stroke-linecap="round" stroke-linejoin="round"/><path d="M16.1 48.5 L16.1 55.2" stroke="#cfcfcf" stroke-width="1.4" fill="none"/></g><g filter="url(#tx)" transform="translate(16.2 0) scale(0.93 0.985) translate(-16.2 0.6)"><path d="M16.3 1.6 C14.6 1.6 13.8 4 13.3 6.4 C12.800 9 11.8 11.4 10.4 13.4 C8.6 15.4 7.6 17 8 19.4 C8.4 21.6 9.2 23.4 9 26 C8.800 29 7.8 32 7 35 C6.200 38 5.6 41.4 6 44 C6.4 46.6 8.6 48.2 11 48.600 C13 49 14.6 49.4 16.2 49.4 C17.8 49.4 19.400 49 21.4 48.6 C23.8 48.2 26 46.6 26.4 44 C26.8 41.4 26.2 38 25.4 35 C24.6 32 23.6 29 23.4 26 C23.2 23.4 24 21.6 24.4 19.400 C24.8 17 23.8 15.4 22 13.4 C20.6 11.4 19.6 9 19.200 6.4 C18.8 4 18 1.6 16.3 1.6 Z" fill="url(#mg)"/><ellipse cx="16.3" cy="5.6" rx="2.7" ry="3.8" fill="url(#hg)"/></g></g>
<g transform="translate(440.7 678.8) scale(0.9875 1.0000)"><rect x="0" y="0" width="32" height="55.2" fill="#323232"/><g fill="#1f1f1f"><rect x="1.8" y="0.8" width="1.9" height="7.4"/><rect x="5.4" y="0.8" width="1.9" height="7.4"/><rect x="9" y="0.8" width="1.9" height="7.4"/><rect x="21.2" y="0.8" width="1.9" height="7.4"/><rect x="24.8" y="0.8" width="1.9" height="7.4"/><rect x="28.4" y="0.8" width="1.9" height="7.4"/></g><g filter="url(#bl)"><path d="M10.6 45.6 L6.4 49.6 L3.6 51.6 M21.8 45.6 L26 49.6 L28.8 51.8" stroke="#dadada" stroke-width="1.7" fill="none" stroke-linecap="round" stroke-linejoin="round"/><path d="M16.1 48.5 L16.1 55.2" stroke="#cfcfcf" stroke-width="1.4" fill="none"/></g><g filter="url(#tx)" transform="translate(16.2 0) scale(0.93 0.985) translate(-16.2 0.6)"><path d="M16.3 1.6 C14.6 1.6 13.8 4 13.3 6.4 C12.800 9 11.8 11.4 10.4 13.4 C8.6 15.4 7.6 17 8 19.4 C8.4 21.6 9.2 23.4 9 26 C8.800 29 7.8 32 7 35 C6.200 38 5.6 41.4 6 44 C6.4 46.6 8.6 48.2 11 48.600 C13 49 14.6 49.4 16.2 49.4 C17.8 49.4 19.400 49 21.4 48.6 C23.8 48.2 26 46.6 26.4 44 C26.8 41.4 26.2 38 25.4 35 C24.6 32 23.6 29 23.4 26 C23.2 23.4 24 21.6 24.4 19.400 C24.8 17 23.8 15.4 22 13.4 C20.6 11.4 19.6 9 19.200 6.4 C18.8 4 18 1.6 16.3 1.6 Z" fill="url(#mg)"/><ellipse cx="16.3" cy="5.6" rx="2.7" ry="3.8" fill="url(#hg)"/></g></g>
<ellipse cx="56.7" cy="603.3" rx="1.89" ry="2.31" fill="#5a12f0"/>
<ellipse cx="93.7" cy="600" rx="2.16" ry="2.64" fill="#5a12f0"/>
<ellipse cx="126.7" cy="601" rx="2.16" ry="2.64" fill="#5a12f0"/>
<ellipse cx="169" cy="599" rx="2.34" ry="2.86" fill="#5a12f0"/>
<ellipse cx="202.7" cy="599" rx="1.98" ry="2.42" fill="#5a12f0"/>
<ellipse cx="235.3" cy="597.3" rx="1.62" ry="1.98" fill="#5a12f0"/>
<ellipse cx="277.7" cy="601.7" rx="1.71" ry="2.09" fill="#5a12f0"/>
<ellipse cx="310" cy="603.3" rx="1.98" ry="2.42" fill="#5a12f0"/>
<ellipse cx="344.3" cy="603.3" rx="2.07" ry="2.53" fill="#5a12f0"/>
<ellipse cx="385" cy="602.3" rx="1.8" ry="2.2" fill="#5a12f0"/>
<ellipse cx="419" cy="601" rx="1.8" ry="2.2" fill="#5a12f0"/>
<ellipse cx="450" cy="600.7" rx="1.8" ry="2.2" fill="#5a12f0"/>
<circle cx="61" cy="657.3" r="4.2" fill="#3a2ae0"/>
<circle cx="61" cy="657.3" r="3.28" fill="#2aa0ff"/>
<circle cx="61" cy="657.3" r="2.52" fill="#40d070"/>
<circle cx="61" cy="657.3" r="1.89" fill="#e8e030"/>
<circle cx="61" cy="657.3" r="1.26" fill="#f03020"/>
<circle cx="93.3" cy="659" r="3.6" fill="#3a2ae0"/>
<circle cx="93.3" cy="659" r="2.88" fill="#2a8cff"/>
<circle cx="93.3" cy="659" r="1.98" fill="#30d0c0"/>
<circle cx="93.3" cy="659" r="1.08" fill="#70e050"/>
<circle cx="126.7" cy="655.7" r="3.4" fill="#3a2ae0"/>
<circle cx="126.7" cy="655.7" r="2.72" fill="#2a8cff"/>
<circle cx="126.7" cy="655.7" r="1.87" fill="#30d8d8"/>
<circle cx="126.7" cy="655.7" r="0.85" fill="#60e090"/>
<ellipse cx="165.7" cy="659" rx="0.72" ry="0.88" fill="#5a12f0"/>
<circle cx="274" cy="660.7" r="3.7" fill="#3a2ae0"/>
<circle cx="274" cy="660.7" r="2.96" fill="#2aa0ff"/>
<circle cx="274" cy="660.7" r="2.22" fill="#50d860"/>
<circle cx="274" cy="660.7" r="1.55" fill="#e8e030"/>
<circle cx="274" cy="660.7" r="0.81" fill="#f05020"/>
<circle cx="309" cy="659" r="3.3" fill="#3a2ae0"/>
<circle cx="309" cy="659" r="2.64" fill="#2a8cff"/>
<circle cx="309" cy="659" r="1.81" fill="#30d8d8"/>
<circle cx="309" cy="659" r="0.82" fill="#60e090"/>
<circle cx="345.7" cy="660" r="3.6" fill="#3a2ae0"/>
<circle cx="345.7" cy="660" r="2.88" fill="#2a8cff"/>
<circle cx="345.7" cy="660" r="1.98" fill="#30d0c0"/>
<circle cx="345.7" cy="660" r="1.08" fill="#70e050"/>
<circle cx="58.3" cy="717.7" r="5.2" fill="#3a3ae8"/>
<circle cx="58.3" cy="717.7" r="4.68" fill="#30c0e0"/>
<circle cx="58.3" cy="717.7" r="4.26" fill="#e0e030"/>
<circle cx="58.3" cy="717.7" r="3.85" fill="#ff2a10"/>
<circle cx="92.3" cy="717.3" r="4.8" fill="#3a3ae8"/>
<circle cx="92.3" cy="717.3" r="4.22" fill="#30b0f0"/>
<circle cx="92.3" cy="717.3" r="3.46" fill="#50d860"/>
<circle cx="92.3" cy="717.3" r="2.64" fill="#f0d020"/>
<circle cx="92.3" cy="717.3" r="2.02" fill="#ff3010"/>
<circle cx="126" cy="717.3" r="5.2" fill="#3a3ae8"/>
<circle cx="126" cy="717.3" r="4.68" fill="#30c0e0"/>
<circle cx="126" cy="717.3" r="4.26" fill="#e0e030"/>
<circle cx="126" cy="717.3" r="3.85" fill="#ff2a10"/>
<circle cx="275.7" cy="717.3" r="6.2" fill="#3a3ae8"/>
<circle cx="275.7" cy="717.3" r="5.58" fill="#30c0e0"/>
<circle cx="275.7" cy="717.3" r="5.08" fill="#e0e030"/>
<circle cx="275.7" cy="717.3" r="4.59" fill="#ff2a10"/>
<circle cx="275.7" cy="717.3" r="1.24" fill="#ffe060"/>
<circle cx="308.3" cy="717.3" r="5.2" fill="#3a3ae8"/>
<circle cx="308.3" cy="717.3" r="4.58" fill="#30b0f0"/>
<circle cx="308.3" cy="717.3" r="3.74" fill="#50d860"/>
<circle cx="308.3" cy="717.3" r="2.86" fill="#f0d020"/>
<circle cx="308.3" cy="717.3" r="2.18" fill="#ff3010"/>
<circle cx="346" cy="719.3" r="4.8" fill="#3a3ae8"/>
<circle cx="346" cy="719.3" r="4.32" fill="#30c0e0"/>
<circle cx="346" cy="719.3" r="3.94" fill="#e0e030"/>
<circle cx="346" cy="719.3" r="3.55" fill="#ff2a10"/>
<defs><linearGradient id="cb" x1="0" y1="0" x2="0" y2="1"><stop offset="0" stop-color="#ff1a1a"/><stop offset="0.12" stop-color="#ff8a1a"/><stop offset="0.27" stop-color="#ffe81a"/><stop offset="0.45" stop-color="#3ee03e"/><stop offset="0.66" stop-color="#1ae0e0"/><stop offset="0.85" stop-color="#1a3aff"/><stop offset="1" stop-color="#7a1aff"/></linearGradient></defs>
<rect x="501" y="591.7" width="9.3" height="93.3" fill="url(#cb)"/>
<text x="476" y="584" font-size="12.4" fill="#222" textLength="55.7" lengthAdjust="spacingAndGlyphs">Maximum</text>
<text x="477.3" y="700.4" font-size="12.4" fill="#222" textLength="53.4" lengthAdjust="spacingAndGlyphs">Minimum</text>
</g>
<g id="panel-f">
<text x="546.6" y="532.8" font-size="22.4" font-weight="bold" fill="#000" stroke="#000" stroke-width="0.45" stroke-linejoin="round" textLength="7.6" lengthAdjust="spacingAndGlyphs">f</text>
<line x1="615.6" y1="541.1" x2="615.6" y2="696.4" stroke="#666" stroke-width="1"/>
<line x1="615.1" y1="695.9" x2="789.7" y2="695.9" stroke="#666" stroke-width="1"/>
<line x1="610" y1="695.9" x2="615.6" y2="695.9" stroke="#666" stroke-width="1"/>
<text x="604.4" y="700.2" font-size="12.2" fill="#222" text-anchor="end" textLength="8.2" lengthAdjust="spacingAndGlyphs">0</text>
<line x1="610" y1="665.04" x2="615.6" y2="665.04" stroke="#666" stroke-width="1"/>
<text x="604.4" y="669.34" font-size="12.2" fill="#222" text-anchor="end" textLength="24.6" lengthAdjust="spacingAndGlyphs">500</text>
<line x1="610" y1="634.18" x2="615.6" y2="634.18" stroke="#666" stroke-width="1"/>
<text x="604.4" y="638.48" font-size="12.2" fill="#222" text-anchor="end" textLength="35" lengthAdjust="spacingAndGlyphs">1,000</text>
<line x1="610" y1="603.32" x2="615.6" y2="603.32" stroke="#666" stroke-width="1"/>
<text x="604.4" y="607.62" font-size="12.2" fill="#222" text-anchor="end" textLength="35" lengthAdjust="spacingAndGlyphs">1,500</text>
<line x1="610" y1="572.46" x2="615.6" y2="572.46" stroke="#666" stroke-width="1"/>
<text x="604.4" y="576.76" font-size="12.2" fill="#222" text-anchor="end" textLength="36" lengthAdjust="spacingAndGlyphs">2,000</text>
<line x1="610" y1="541.6" x2="615.6" y2="541.6" stroke="#666" stroke-width="1"/>
<text x="604.4" y="545.9" font-size="12.2" fill="#222" text-anchor="end" textLength="36" lengthAdjust="spacingAndGlyphs">2,500</text>
<line x1="615.6" y1="695.9" x2="615.6" y2="701.7" stroke="#666" stroke-width="1"/>
<text x="616.2" y="717.8" font-size="12.2" fill="#222" text-anchor="middle" textLength="7.6" lengthAdjust="spacingAndGlyphs">0</text>
<line x1="659" y1="695.9" x2="659" y2="701.7" stroke="#666" stroke-width="1"/>
<text x="659.6" y="717.8" font-size="12.2" fill="#222" text-anchor="middle" textLength="15.5" lengthAdjust="spacingAndGlyphs">10</text>
<line x1="702.4" y1="695.9" x2="702.4" y2="701.7" stroke="#666" stroke-width="1"/>
<text x="703" y="717.8" font-size="12.2" fill="#222" text-anchor="middle" textLength="15.5" lengthAdjust="spacingAndGlyphs">20</text>
<line x1="745.8" y1="695.9" x2="745.8" y2="701.7" stroke="#666" stroke-width="1"/>
<text x="746.4" y="717.8" font-size="12.2" fill="#222" text-anchor="middle" textLength="15.5" lengthAdjust="spacingAndGlyphs">30</text>
<line x1="789.2" y1="695.9" x2="789.2" y2="701.7" stroke="#666" stroke-width="1"/>
<text x="789.8" y="717.8" font-size="12.2" fill="#222" text-anchor="middle" textLength="15.5" lengthAdjust="spacingAndGlyphs">40</text>
<text x="700.3" y="739.6" font-size="14" fill="#222" text-anchor="middle" textLength="166" lengthAdjust="spacingAndGlyphs">Days after reinoculation</text>
<text font-size="14.2" fill="#222" text-anchor="middle" textLength="129" lengthAdjust="spacingAndGlyphs" transform="translate(558.2 622) rotate(-90)">Tumor volume (mm<tspan dy="-6" font-size="9.4">3</tspan><tspan dy="6">)</tspan></text>
<polyline points="615.6,695.9 645.98,684.17 654.66,671.83 663.34,659.18 672.02,642.82 680.7,625.17 689.38,609.8 698.06,593.57" fill="none" stroke="#000" stroke-width="1.3" stroke-linejoin="round"/>
<circle cx="645.98" cy="684.17" r="1.9" fill="none" stroke="#000" stroke-width="0.8"/>
<circle cx="654.66" cy="671.83" r="1.9" fill="none" stroke="#000" stroke-width="0.8"/>
<circle cx="663.34" cy="659.18" r="1.9" fill="none" stroke="#000" stroke-width="0.8"/>
<circle cx="672.02" cy="642.82" r="1.9" fill="none" stroke="#000" stroke-width="0.8"/>
<circle cx="680.7" cy="625.17" r="1.9" fill="none" stroke="#000" stroke-width="0.8"/>
<circle cx="689.38" cy="609.8" r="1.9" fill="none" stroke="#000" stroke-width="0.8"/>
<circle cx="698.06" cy="593.57" r="1.9" fill="none" stroke="#000" stroke-width="0.8"/>
<polyline points="615.6,695.9 645.98,686.64 654.66,679.85 663.34,671.21 672.02,663.81 680.7,653.31 689.38,641.59 698.06,625.17 706.74,607.21 715.42,586.78" fill="none" stroke="#000" stroke-width="1.3" stroke-linejoin="round"/>
<circle cx="645.98" cy="686.64" r="1.9" fill="none" stroke="#000" stroke-width="0.8"/>
<circle cx="654.66" cy="679.85" r="1.9" fill="none" stroke="#000" stroke-width="0.8"/>
<circle cx="663.34" cy="671.21" r="1.9" fill="none" stroke="#000" stroke-width="0.8"/>
<circle cx="672.02" cy="663.81" r="1.9" fill="none" stroke="#000" stroke-width="0.8"/>
<circle cx="680.7" cy="653.31" r="1.9" fill="none" stroke="#000" stroke-width="0.8"/>
<circle cx="689.38" cy="641.59" r="1.9" fill="none" stroke="#000" stroke-width="0.8"/>
<circle cx="698.06" cy="625.17" r="1.9" fill="none" stroke="#000" stroke-width="0.8"/>
<circle cx="706.74" cy="607.21" r="1.9" fill="none" stroke="#000" stroke-width="0.8"/>
<circle cx="715.42" cy="586.78" r="1.9" fill="none" stroke="#000" stroke-width="0.8"/>
<polyline points="615.6,695.9 645.98,685.41 654.66,676.77 663.34,661.34 672.02,654.61 680.7,643.56 689.38,628.56 698.06,617.58 706.74,609.49 715.42,597.15 724.1,587.58 732.78,575.55" fill="none" stroke="#000" stroke-width="1.3" stroke-linejoin="round"/>
<circle cx="645.98" cy="685.41" r="1.9" fill="none" stroke="#000" stroke-width="0.8"/>
<circle cx="654.66" cy="676.77" r="1.9" fill="none" stroke="#000" stroke-width="0.8"/>
<circle cx="663.34" cy="661.34" r="1.9" fill="none" stroke="#000" stroke-width="0.8"/>
<circle cx="672.02" cy="654.61" r="1.9" fill="none" stroke="#000" stroke-width="0.8"/>
<circle cx="680.7" cy="643.56" r="1.9" fill="none" stroke="#000" stroke-width="0.8"/>
<circle cx="689.38" cy="628.56" r="1.9" fill="none" stroke="#000" stroke-width="0.8"/>
<circle cx="698.06" cy="617.58" r="1.9" fill="none" stroke="#000" stroke-width="0.8"/>
<circle cx="706.74" cy="609.49" r="1.9" fill="none" stroke="#000" stroke-width="0.8"/>
<circle cx="715.42" cy="597.15" r="1.9" fill="none" stroke="#000" stroke-width="0.8"/>
<circle cx="724.1" cy="587.58" r="1.9" fill="none" stroke="#000" stroke-width="0.8"/>
<circle cx="732.78" cy="575.55" r="1.9" fill="none" stroke="#000" stroke-width="0.8"/>
<polyline points="615.6,695.9 645.98,686.02 654.66,680.47 663.34,672.45 672.02,665.04 680.7,656.4 689.38,645.17 698.06,628.01 706.74,610.11 715.42,600.85" fill="none" stroke="#000" stroke-width="1.3" stroke-linejoin="round"/>
<circle cx="645.98" cy="686.02" r="1.9" fill="none" stroke="#000" stroke-width="0.8"/>
<circle cx="654.66" cy="680.47" r="1.9" fill="none" stroke="#000" stroke-width="0.8"/>
<circle cx="663.34" cy="672.45" r="1.9" fill="none" stroke="#000" stroke-width="0.8"/>
<circle cx="672.02" cy="665.04" r="1.9" fill="none" stroke="#000" stroke-width="0.8"/>
<circle cx="680.7" cy="656.4" r="1.9" fill="none" stroke="#000" stroke-width="0.8"/>
<circle cx="689.38" cy="645.17" r="1.9" fill="none" stroke="#000" stroke-width="0.8"/>
<circle cx="698.06" cy="628.01" r="1.9" fill="none" stroke="#000" stroke-width="0.8"/>
<circle cx="706.74" cy="610.11" r="1.9" fill="none" stroke="#000" stroke-width="0.8"/>
<circle cx="715.42" cy="600.85" r="1.9" fill="none" stroke="#000" stroke-width="0.8"/>
<polyline points="615.6,695.9 645.98,687.26 654.66,681.7 663.34,675.53 672.02,668.13 680.7,659.18 689.38,652.2 698.06,640.78 706.74,630.17 715.42,616.77 724.1,605.79 732.78,589.19 741.46,572.46" fill="none" stroke="#000" stroke-width="1.3" stroke-linejoin="round"/>
<circle cx="645.98" cy="687.26" r="1.9" fill="none" stroke="#000" stroke-width="0.8"/>
<circle cx="654.66" cy="681.7" r="1.9" fill="none" stroke="#000" stroke-width="0.8"/>
<circle cx="663.34" cy="675.53" r="1.9" fill="none" stroke="#000" stroke-width="0.8"/>
<circle cx="672.02" cy="668.13" r="1.9" fill="none" stroke="#000" stroke-width="0.8"/>
<circle cx="680.7" cy="659.18" r="1.9" fill="none" stroke="#000" stroke-width="0.8"/>
<circle cx="689.38" cy="652.2" r="1.9" fill="none" stroke="#000" stroke-width="0.8"/>
<circle cx="698.06" cy="640.78" r="1.9" fill="none" stroke="#000" stroke-width="0.8"/>
<circle cx="706.74" cy="630.17" r="1.9" fill="none" stroke="#000" stroke-width="0.8"/>
<circle cx="715.42" cy="616.77" r="1.9" fill="none" stroke="#000" stroke-width="0.8"/>
<circle cx="724.1" cy="605.79" r="1.9" fill="none" stroke="#000" stroke-width="0.8"/>
<circle cx="732.78" cy="589.19" r="1.9" fill="none" stroke="#000" stroke-width="0.8"/>
<circle cx="741.46" cy="572.46" r="1.9" fill="none" stroke="#000" stroke-width="0.8"/>
<polyline points="615.6,695.9 645.98,687.88 654.66,682.94 663.34,677.38 672.02,669.98 680.7,663.19 689.38,653.31 698.06,641.59 706.74,631.71 715.42,617.52 724.1,609.8 732.78,593.2 741.46,573.08" fill="none" stroke="#000" stroke-width="1.3" stroke-linejoin="round"/>
<circle cx="645.98" cy="687.88" r="1.9" fill="none" stroke="#000" stroke-width="0.8"/>
<circle cx="654.66" cy="682.94" r="1.9" fill="none" stroke="#000" stroke-width="0.8"/>
<circle cx="663.34" cy="677.38" r="1.9" fill="none" stroke="#000" stroke-width="0.8"/>
<circle cx="672.02" cy="669.98" r="1.9" fill="none" stroke="#000" stroke-width="0.8"/>
<circle cx="680.7" cy="663.19" r="1.9" fill="none" stroke="#000" stroke-width="0.8"/>
<circle cx="689.38" cy="653.31" r="1.9" fill="none" stroke="#000" stroke-width="0.8"/>
<circle cx="698.06" cy="641.59" r="1.9" fill="none" stroke="#000" stroke-width="0.8"/>
<circle cx="706.74" cy="631.71" r="1.9" fill="none" stroke="#000" stroke-width="0.8"/>
<circle cx="715.42" cy="617.52" r="1.9" fill="none" stroke="#000" stroke-width="0.8"/>
<circle cx="724.1" cy="609.8" r="1.9" fill="none" stroke="#000" stroke-width="0.8"/>
<circle cx="732.78" cy="593.2" r="1.9" fill="none" stroke="#000" stroke-width="0.8"/>
<circle cx="741.46" cy="573.08" r="1.9" fill="none" stroke="#000" stroke-width="0.8"/>
<polyline points="615.6,695.9 645.98,688.8 654.66,686.02 663.34,678 672.02,671.21 680.7,665.04 689.38,654.55 698.06,640.35 706.74,630.48 715.42,616.28 724.1,608.26 732.78,590.98 741.46,571.84" fill="none" stroke="#000" stroke-width="1.3" stroke-linejoin="round"/>
<circle cx="645.98" cy="688.8" r="1.9" fill="none" stroke="#000" stroke-width="0.8"/>
<circle cx="654.66" cy="686.02" r="1.9" fill="none" stroke="#000" stroke-width="0.8"/>
<circle cx="663.34" cy="678" r="1.9" fill="none" stroke="#000" stroke-width="0.8"/>
<circle cx="672.02" cy="671.21" r="1.9" fill="none" stroke="#000" stroke-width="0.8"/>
<circle cx="680.7" cy="665.04" r="1.9" fill="none" stroke="#000" stroke-width="0.8"/>
<circle cx="689.38" cy="654.55" r="1.9" fill="none" stroke="#000" stroke-width="0.8"/>
<circle cx="698.06" cy="640.35" r="1.9" fill="none" stroke="#000" stroke-width="0.8"/>
<circle cx="706.74" cy="630.48" r="1.9" fill="none" stroke="#000" stroke-width="0.8"/>
<circle cx="715.42" cy="616.28" r="1.9" fill="none" stroke="#000" stroke-width="0.8"/>
<circle cx="724.1" cy="608.26" r="1.9" fill="none" stroke="#000" stroke-width="0.8"/>
<circle cx="732.78" cy="590.98" r="1.9" fill="none" stroke="#000" stroke-width="0.8"/>
<circle cx="741.46" cy="571.84" r="1.9" fill="none" stroke="#000" stroke-width="0.8"/>
<circle cx="615.6" cy="695.9" r="2.2" fill="#000"/>
<polyline points="615.6,695.9 645.98,694.05 654.66,693.43 663.34,692.2 672.02,691.58 680.7,690.35 689.38,689.11 698.06,687.88 706.74,687.88 715.42,685.72 724.1,684.17 732.78,688.18 741.46,687.26 750.14,687.26" fill="none" stroke="#ff0a0a" stroke-width="1.4" stroke-linejoin="round"/>
<circle cx="645.98" cy="694.05" r="2.6" fill="#ff0a0a"/>
<circle cx="654.66" cy="693.43" r="2.6" fill="#ff0a0a"/>
<circle cx="663.34" cy="692.2" r="2.6" fill="#ff0a0a"/>
<circle cx="672.02" cy="691.58" r="2.6" fill="#ff0a0a"/>
<circle cx="680.7" cy="690.35" r="2.6" fill="#ff0a0a"/>
<circle cx="689.38" cy="689.11" r="2.6" fill="#ff0a0a"/>
<circle cx="698.06" cy="687.88" r="2.6" fill="#ff0a0a"/>
<circle cx="706.74" cy="687.88" r="2.6" fill="#ff0a0a"/>
<circle cx="715.42" cy="685.72" r="2.6" fill="#ff0a0a"/>
<circle cx="724.1" cy="684.17" r="2.6" fill="#ff0a0a"/>
<circle cx="732.78" cy="688.18" r="2.6" fill="#ff0a0a"/>
<circle cx="741.46" cy="687.26" r="2.6" fill="#ff0a0a"/>
<circle cx="750.14" cy="687.26" r="2.6" fill="#ff0a0a"/>
<polyline points="615.6,695.9 645.98,694.36 654.66,693.74 663.34,693.12 672.02,692.2 680.7,691.58 689.38,690.35 698.06,689.11 706.74,688.8 715.42,688.8 724.1,688.49 732.78,688.8 741.46,688.18 750.14,688.49" fill="none" stroke="#ff0a0a" stroke-width="1.4" stroke-linejoin="round"/>
<circle cx="645.98" cy="694.36" r="2.6" fill="#ff0a0a"/>
<circle cx="654.66" cy="693.74" r="2.6" fill="#ff0a0a"/>
<circle cx="663.34" cy="693.12" r="2.6" fill="#ff0a0a"/>
<circle cx="672.02" cy="692.2" r="2.6" fill="#ff0a0a"/>
<circle cx="680.7" cy="691.58" r="2.6" fill="#ff0a0a"/>
<circle cx="689.38" cy="690.35" r="2.6" fill="#ff0a0a"/>
<circle cx="698.06" cy="689.11" r="2.6" fill="#ff0a0a"/>
<circle cx="706.74" cy="688.8" r="2.6" fill="#ff0a0a"/>
<circle cx="715.42" cy="688.8" r="2.6" fill="#ff0a0a"/>
<circle cx="724.1" cy="688.49" r="2.6" fill="#ff0a0a"/>
<circle cx="732.78" cy="688.8" r="2.6" fill="#ff0a0a"/>
<circle cx="741.46" cy="688.18" r="2.6" fill="#ff0a0a"/>
<circle cx="750.14" cy="688.49" r="2.6" fill="#ff0a0a"/>
<polyline points="615.6,695.9 645.98,694.97 654.66,694.67 663.34,694.36 672.02,693.74 680.7,693.12 689.38,692.51 698.06,691.89 706.74,691.27 715.42,690.65 724.1,690.04 732.78,690.65 741.46,690.96 750.14,691.27" fill="none" stroke="#ff0a0a" stroke-width="1.4" stroke-linejoin="round"/>
<circle cx="645.98" cy="694.97" r="2.6" fill="#ff0a0a"/>
<circle cx="654.66" cy="694.67" r="2.6" fill="#ff0a0a"/>
<circle cx="663.34" cy="694.36" r="2.6" fill="#ff0a0a"/>
<circle cx="672.02" cy="693.74" r="2.6" fill="#ff0a0a"/>
<circle cx="680.7" cy="693.12" r="2.6" fill="#ff0a0a"/>
<circle cx="689.38" cy="692.51" r="2.6" fill="#ff0a0a"/>
<circle cx="698.06" cy="691.89" r="2.6" fill="#ff0a0a"/>
<circle cx="706.74" cy="691.27" r="2.6" fill="#ff0a0a"/>
<circle cx="715.42" cy="690.65" r="2.6" fill="#ff0a0a"/>
<circle cx="724.1" cy="690.04" r="2.6" fill="#ff0a0a"/>
<circle cx="732.78" cy="690.65" r="2.6" fill="#ff0a0a"/>
<circle cx="741.46" cy="690.96" r="2.6" fill="#ff0a0a"/>
<circle cx="750.14" cy="691.27" r="2.6" fill="#ff0a0a"/>
<polyline points="615.6,695.9 645.98,695.59 654.66,695.28 663.34,695.16 672.02,694.97 680.7,694.67 689.38,694.05 698.06,693.43 706.74,693.12 715.42,692.81 724.1,692.81 732.78,692.81 741.46,693.12 750.14,693.43" fill="none" stroke="#ff0a0a" stroke-width="1.4" stroke-linejoin="round"/>
<circle cx="645.98" cy="695.59" r="2.6" fill="#ff0a0a"/>
<circle cx="654.66" cy="695.28" r="2.6" fill="#ff0a0a"/>
<circle cx="663.34" cy="695.16" r="2.6" fill="#ff0a0a"/>
<circle cx="672.02" cy="694.97" r="2.6" fill="#ff0a0a"/>
<circle cx="680.7" cy="694.67" r="2.6" fill="#ff0a0a"/>
<circle cx="689.38" cy="694.05" r="2.6" fill="#ff0a0a"/>
<circle cx="698.06" cy="693.43" r="2.6" fill="#ff0a0a"/>
<circle cx="706.74" cy="693.12" r="2.6" fill="#ff0a0a"/>
<circle cx="715.42" cy="692.81" r="2.6" fill="#ff0a0a"/>
<circle cx="724.1" cy="692.81" r="2.6" fill="#ff0a0a"/>
<circle cx="732.78" cy="692.81" r="2.6" fill="#ff0a0a"/>
<circle cx="741.46" cy="693.12" r="2.6" fill="#ff0a0a"/>
<circle cx="750.14" cy="693.43" r="2.6" fill="#ff0a0a"/>
<polyline points="615.6,695.9 645.98,695.9 654.66,695.59 663.34,695.59 672.02,695.41 680.7,695.28 689.38,694.97 698.06,694.67 706.74,694.67 715.42,694.36 724.1,694.36 732.78,694.67 741.46,694.67 750.14,694.67" fill="none" stroke="#ff0a0a" stroke-width="1.4" stroke-linejoin="round"/>
<circle cx="645.98" cy="695.9" r="2.6" fill="#ff0a0a"/>
<circle cx="654.66" cy="695.59" r="2.6" fill="#ff0a0a"/>
<circle cx="663.34" cy="695.59" r="2.6" fill="#ff0a0a"/>
<circle cx="672.02" cy="695.41" r="2.6" fill="#ff0a0a"/>
<circle cx="680.7" cy="695.28" r="2.6" fill="#ff0a0a"/>
<circle cx="689.38" cy="694.97" r="2.6" fill="#ff0a0a"/>
<circle cx="698.06" cy="694.67" r="2.6" fill="#ff0a0a"/>
<circle cx="706.74" cy="694.67" r="2.6" fill="#ff0a0a"/>
<circle cx="715.42" cy="694.36" r="2.6" fill="#ff0a0a"/>
<circle cx="724.1" cy="694.36" r="2.6" fill="#ff0a0a"/>
<circle cx="732.78" cy="694.67" r="2.6" fill="#ff0a0a"/>
<circle cx="741.46" cy="694.67" r="2.6" fill="#ff0a0a"/>
<circle cx="750.14" cy="694.67" r="2.6" fill="#ff0a0a"/>
<circle cx="615.6" cy="695.9" r="1.6" fill="#ff0a0a"/>
<line x1="618.4" y1="543" x2="629.6" y2="543" stroke="#000" stroke-width="1.2"/>
<circle cx="624" cy="543" r="2.3" fill="#000"/>
<line x1="618.4" y1="560.6" x2="629.6" y2="560.6" stroke="#ff0a0a" stroke-width="1.2"/>
<circle cx="624" cy="560.6" r="2.5" fill="#ff0a0a"/>
<text x="635.4" y="547.2" font-size="12.2" fill="#222" textLength="31.8" lengthAdjust="spacingAndGlyphs">Naive</text>
<text x="635.4" y="564.6" font-size="12.2" fill="#222" textLength="71.8" lengthAdjust="spacingAndGlyphs">Rechallenge</text>
<line x1="717.4" y1="541.2" x2="717.4" y2="565.6" stroke="#333" stroke-width="0.8"/>
<text font-size="11.2" fill="#222" textLength="51.8" lengthAdjust="spacingAndGlyphs" transform="translate(721.4 524) rotate(90)"><tspan font-style="italic">P</tspan> &lt; 0.0001</text>
<text x="752.4" y="667" font-size="10.4" fill="#ff2a2a" textLength="15.4" lengthAdjust="spacingAndGlyphs" stroke="#ff2a2a" stroke-width="0.3">4T1</text>
<line x1="869.6" y1="542.1" x2="869.6" y2="696.4" stroke="#666" stroke-width="1"/>
<line x1="869.1" y1="695.9" x2="1039.5" y2="695.9" stroke="#666" stroke-width="1"/>
<line x1="864" y1="695.9" x2="869.6" y2="695.9" stroke="#666" stroke-width="1"/>
<text x="858.4" y="700.2" font-size="12.2" fill="#222" text-anchor="end" textLength="8.2" lengthAdjust="spacingAndGlyphs">0</text>
<line x1="864" y1="665.24" x2="869.6" y2="665.24" stroke="#666" stroke-width="1"/>
<text x="858.4" y="669.54" font-size="12.2" fill="#222" text-anchor="end" textLength="24.6" lengthAdjust="spacingAndGlyphs">500</text>
<line x1="864" y1="634.58" x2="869.6" y2="634.58" stroke="#666" stroke-width="1"/>
<text x="858.4" y="638.88" font-size="12.2" fill="#222" text-anchor="end" textLength="35" lengthAdjust="spacingAndGlyphs">1,000</text>
<line x1="864" y1="603.92" x2="869.6" y2="603.92" stroke="#666" stroke-width="1"/>
<text x="858.4" y="608.22" font-size="12.2" fill="#222" text-anchor="end" textLength="35" lengthAdjust="spacingAndGlyphs">1,500</text>
<line x1="864" y1="573.26" x2="869.6" y2="573.26" stroke="#666" stroke-width="1"/>
<text x="858.4" y="577.56" font-size="12.2" fill="#222" text-anchor="end" textLength="36" lengthAdjust="spacingAndGlyphs">2,000</text>
<line x1="864" y1="542.6" x2="869.6" y2="542.6" stroke="#666" stroke-width="1"/>
<text x="858.4" y="546.9" font-size="12.2" fill="#222" text-anchor="end" textLength="36" lengthAdjust="spacingAndGlyphs">2,500</text>
<line x1="869.6" y1="695.9" x2="869.6" y2="701.7" stroke="#666" stroke-width="1"/>
<text x="870.2" y="717.8" font-size="12.2" fill="#222" text-anchor="middle" textLength="7.6" lengthAdjust="spacingAndGlyphs">0</text>
<line x1="911.95" y1="695.9" x2="911.95" y2="701.7" stroke="#666" stroke-width="1"/>
<text x="912.55" y="717.8" font-size="12.2" fill="#222" text-anchor="middle" textLength="15.5" lengthAdjust="spacingAndGlyphs">10</text>
<line x1="954.3" y1="695.9" x2="954.3" y2="701.7" stroke="#666" stroke-width="1"/>
<text x="954.9" y="717.8" font-size="12.2" fill="#222" text-anchor="middle" textLength="15.5" lengthAdjust="spacingAndGlyphs">20</text>
<line x1="996.65" y1="695.9" x2="996.65" y2="701.7" stroke="#666" stroke-width="1"/>
<text x="997.25" y="717.8" font-size="12.2" fill="#222" text-anchor="middle" textLength="15.5" lengthAdjust="spacingAndGlyphs">30</text>
<line x1="1039" y1="695.9" x2="1039" y2="701.7" stroke="#666" stroke-width="1"/>
<text x="1039.6" y="717.8" font-size="12.2" fill="#222" text-anchor="middle" textLength="15.5" lengthAdjust="spacingAndGlyphs">40</text>
<text x="954.4" y="739.6" font-size="14" fill="#222" text-anchor="middle" textLength="166" lengthAdjust="spacingAndGlyphs">Days after reinoculation</text>
<text font-size="14.2" fill="#222" text-anchor="middle" textLength="129" lengthAdjust="spacingAndGlyphs" transform="translate(814.4 619.2) rotate(-90)">Tumor volume (mm<tspan dy="-6" font-size="9.4">3</tspan><tspan dy="6">)</tspan></text>
<polyline points="869.6,695.9 899.25,685.48 907.72,675.66 916.19,665.24 924.65,656.29 933.12,635.25 941.6,617.72 950.07,599.75" fill="none" stroke="#000" stroke-width="1.3" stroke-linejoin="round"/>
<circle cx="899.25" cy="685.48" r="2.3" fill="#000"/>
<circle cx="907.72" cy="675.66" r="2.3" fill="#000"/>
<circle cx="916.19" cy="665.24" r="2.3" fill="#000"/>
<circle cx="924.65" cy="656.29" r="2.3" fill="#000"/>
<circle cx="933.12" cy="635.25" r="2.3" fill="#000"/>
<circle cx="941.6" cy="617.72" r="2.3" fill="#000"/>
<circle cx="950.07" cy="599.75" r="2.3" fill="#000"/>
<polyline points="869.6,695.9 899.25,686.7 907.72,678.12 916.19,669.53 924.65,661.56 933.12,652.3 941.6,641.33 950.07,625.32 958.53,608.34 967,585.77" fill="none" stroke="#000" stroke-width="1.3" stroke-linejoin="round"/>
<circle cx="899.25" cy="686.7" r="2.3" fill="#000"/>
<circle cx="907.72" cy="678.12" r="2.3" fill="#000"/>
<circle cx="916.19" cy="669.53" r="2.3" fill="#000"/>
<circle cx="924.65" cy="661.56" r="2.3" fill="#000"/>
<circle cx="933.12" cy="652.3" r="2.3" fill="#000"/>
<circle cx="941.6" cy="641.33" r="2.3" fill="#000"/>
<circle cx="950.07" cy="625.32" r="2.3" fill="#000"/>
<circle cx="958.53" cy="608.34" r="2.3" fill="#000"/>
<circle cx="967" cy="585.77" r="2.3" fill="#000"/>
<polyline points="869.6,695.9 899.25,687.32 907.72,679.96 916.19,672.6 924.65,665.24 933.12,656.04 941.6,645.31 950.07,630.29 958.53,614.34 967,592.94" fill="none" stroke="#000" stroke-width="1.3" stroke-linejoin="round"/>
<circle cx="899.25" cy="687.32" r="2.3" fill="#000"/>
<circle cx="907.72" cy="679.96" r="2.3" fill="#000"/>
<circle cx="916.19" cy="672.6" r="2.3" fill="#000"/>
<circle cx="924.65" cy="665.24" r="2.3" fill="#000"/>
<circle cx="933.12" cy="656.04" r="2.3" fill="#000"/>
<circle cx="941.6" cy="645.31" r="2.3" fill="#000"/>
<circle cx="950.07" cy="630.29" r="2.3" fill="#000"/>
<circle cx="958.53" cy="614.34" r="2.3" fill="#000"/>
<circle cx="967" cy="592.94" r="2.3" fill="#000"/>
<polyline points="869.6,695.9 899.25,687.93 907.72,681.18 916.19,674.44 924.65,667.08 933.12,658.25 941.6,647.27 950.07,635.68 958.53,622.68 967,612.93 975.48,600.92 983.95,583.75" fill="none" stroke="#000" stroke-width="1.3" stroke-linejoin="round"/>
<circle cx="899.25" cy="687.93" r="2.3" fill="#000"/>
<circle cx="907.72" cy="681.18" r="2.3" fill="#000"/>
<circle cx="916.19" cy="674.44" r="2.3" fill="#000"/>
<circle cx="924.65" cy="667.08" r="2.3" fill="#000"/>
<circle cx="933.12" cy="658.25" r="2.3" fill="#000"/>
<circle cx="941.6" cy="647.27" r="2.3" fill="#000"/>
<circle cx="950.07" cy="635.68" r="2.3" fill="#000"/>
<circle cx="958.53" cy="622.68" r="2.3" fill="#000"/>
<circle cx="967" cy="612.93" r="2.3" fill="#000"/>
<circle cx="975.48" cy="600.92" r="2.3" fill="#000"/>
<circle cx="983.95" cy="583.75" r="2.3" fill="#000"/>
<polyline points="869.6,695.9 899.25,688.54 907.72,683.02 916.19,677.5 924.65,670.76 933.12,663.28 941.6,652.85 950.07,650.52 958.53,637.71 967,624.89 975.48,610.91 983.95,597.36 992.41,580.37" fill="none" stroke="#000" stroke-width="1.3" stroke-linejoin="round"/>
<circle cx="899.25" cy="688.54" r="2.3" fill="#000"/>
<circle cx="907.72" cy="683.02" r="2.3" fill="#000"/>
<circle cx="916.19" cy="677.5" r="2.3" fill="#000"/>
<circle cx="924.65" cy="670.76" r="2.3" fill="#000"/>
<circle cx="933.12" cy="663.28" r="2.3" fill="#000"/>
<circle cx="941.6" cy="652.85" r="2.3" fill="#000"/>
<circle cx="950.07" cy="650.52" r="2.3" fill="#000"/>
<circle cx="958.53" cy="637.71" r="2.3" fill="#000"/>
<circle cx="967" cy="624.89" r="2.3" fill="#000"/>
<circle cx="975.48" cy="610.91" r="2.3" fill="#000"/>
<circle cx="983.95" cy="597.36" r="2.3" fill="#000"/>
<circle cx="992.41" cy="580.37" r="2.3" fill="#000"/>
<polyline points="869.6,695.9 899.25,689.77 907.72,684.86 916.19,680.57 924.65,675.66 933.12,669.23 941.6,662.24 950.07,651.26 958.53,638.69 967,625.69 975.48,611.34 983.95,598.95 992.41,585.77 1000.88,575.77" fill="none" stroke="#000" stroke-width="1.3" stroke-linejoin="round"/>
<circle cx="899.25" cy="689.77" r="2.3" fill="#000"/>
<circle cx="907.72" cy="684.86" r="2.3" fill="#000"/>
<circle cx="916.19" cy="680.57" r="2.3" fill="#000"/>
<circle cx="924.65" cy="675.66" r="2.3" fill="#000"/>
<circle cx="933.12" cy="669.23" r="2.3" fill="#000"/>
<circle cx="941.6" cy="662.24" r="2.3" fill="#000"/>
<circle cx="950.07" cy="651.26" r="2.3" fill="#000"/>
<circle cx="958.53" cy="638.69" r="2.3" fill="#000"/>
<circle cx="967" cy="625.69" r="2.3" fill="#000"/>
<circle cx="975.48" cy="611.34" r="2.3" fill="#000"/>
<circle cx="983.95" cy="598.95" r="2.3" fill="#000"/>
<circle cx="992.41" cy="585.77" r="2.3" fill="#000"/>
<circle cx="1000.88" cy="575.77" r="2.3" fill="#000"/>
<circle cx="869.6" cy="695.9" r="2.2" fill="#000"/>
<polyline points="869.6,695.9 899.25,695.9 907.72,695.9 916.19,695.9 924.65,695.9 933.12,695.9 941.6,695.9 950.07,695.9 958.53,695.9 967,695.9 975.48,695.9 983.95,695.9 992.41,695.9 1000.88,695.9" fill="none" stroke="#ff0a0a" stroke-width="1.4" stroke-linejoin="round"/>
<circle cx="899.25" cy="695.9" r="2.6" fill="#ff0a0a"/>
<circle cx="907.72" cy="695.9" r="2.6" fill="#ff0a0a"/>
<circle cx="916.19" cy="695.9" r="2.6" fill="#ff0a0a"/>
<circle cx="924.65" cy="695.9" r="2.6" fill="#ff0a0a"/>
<circle cx="933.12" cy="695.9" r="2.6" fill="#ff0a0a"/>
<circle cx="941.6" cy="695.9" r="2.6" fill="#ff0a0a"/>
<circle cx="950.07" cy="695.9" r="2.6" fill="#ff0a0a"/>
<circle cx="958.53" cy="695.9" r="2.6" fill="#ff0a0a"/>
<circle cx="967" cy="695.9" r="2.6" fill="#ff0a0a"/>
<circle cx="975.48" cy="695.9" r="2.6" fill="#ff0a0a"/>
<circle cx="983.95" cy="695.9" r="2.6" fill="#ff0a0a"/>
<circle cx="992.41" cy="695.9" r="2.6" fill="#ff0a0a"/>
<circle cx="1000.88" cy="695.9" r="2.6" fill="#ff0a0a"/>
<circle cx="869.6" cy="695.9" r="1.6" fill="#ff0a0a"/>
<line x1="877.8" y1="542.6" x2="889" y2="542.6" stroke="#000" stroke-width="1.2"/>
<circle cx="883.4" cy="542.6" r="2.3" fill="#000"/>
<line x1="877.8" y1="560.6" x2="889" y2="560.6" stroke="#ff0a0a" stroke-width="1.2"/>
<circle cx="883.4" cy="560.6" r="2.5" fill="#ff0a0a"/>
<text x="894.8" y="546.6" font-size="12.2" fill="#222" textLength="31.8" lengthAdjust="spacingAndGlyphs">Naive</text>
<text x="894.8" y="564.2" font-size="12.2" fill="#222" textLength="71.8" lengthAdjust="spacingAndGlyphs">Rechallenge</text>
<line x1="975" y1="541.2" x2="975" y2="565.6" stroke="#333" stroke-width="0.8"/>
<text font-size="11.2" fill="#222" textLength="51.8" lengthAdjust="spacingAndGlyphs" transform="translate(979 526) rotate(90)"><tspan font-style="italic">P</tspan> &lt; 0.0001</text>
<text x="970" y="667" font-size="10.4" fill="#ff2a2a" textLength="44.4" lengthAdjust="spacingAndGlyphs" stroke="#ff2a2a" stroke-width="0.3">4T1-HER2</text>
</g>
</svg>
</body></html>
